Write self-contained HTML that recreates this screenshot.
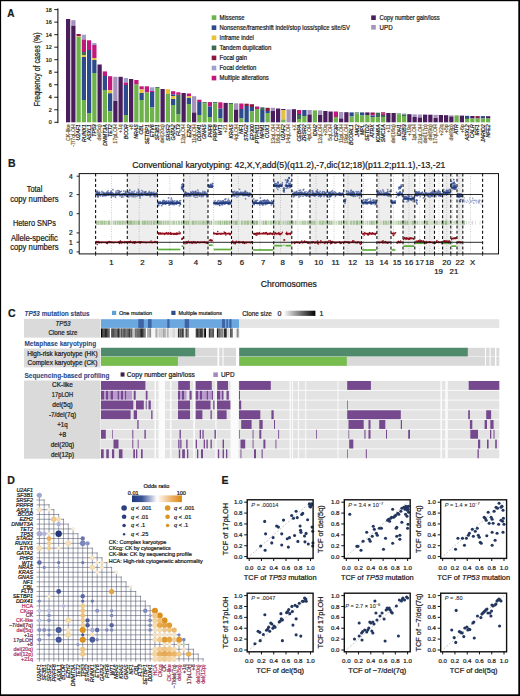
<!DOCTYPE html>
<html><head><meta charset="utf-8"><title>Figure</title>
<style>
html,body{margin:0;padding:0;background:#fff;}
body{width:520px;height:696px;overflow:hidden;position:relative;}
svg{position:absolute;left:0;top:0;display:block;}
svg text{font-family:"Liberation Sans",sans-serif;stroke:#1a1a1a;stroke-width:0.22px;}
</style></head><body>
<svg width="520" height="696" viewBox="0 0 520 696">
<rect x="0" y="0" width="520" height="696" fill="#fff"/>
<g fill="#1a1a1a">
<rect x="66.00" y="19.00" width="4.25" height="103.30" fill="#4a1d5c"/>
<text transform="translate(69.83,124.3) rotate(-90)" text-anchor="end" font-size="5.2" fill="#76603a" style="stroke:#76603a">CK-like</text>
<rect x="71.25" y="20.20" width="4.25" height="5.50" fill="#a593bd"/>
<rect x="71.25" y="25.70" width="4.25" height="96.60" fill="#4a1d5c"/>
<text transform="translate(75.08,124.3) rotate(-90)" text-anchor="end" font-size="5.2" fill="#76603a" style="stroke:#76603a">-7/7qLOH</text>
<rect x="76.50" y="34.00" width="4.25" height="2.30" fill="#8a1840"/>
<rect x="76.50" y="36.30" width="4.25" height="0.70" fill="#e6c13c"/>
<rect x="76.50" y="37.00" width="4.25" height="85.30" fill="#6db24a"/>
<text transform="translate(80.33,124.3) rotate(-90)" text-anchor="end" font-size="5.2" font-style="italic">U2AF1</text>
<rect x="81.75" y="34.70" width="4.25" height="4.80" fill="#9ea0cc"/>
<rect x="81.75" y="39.50" width="4.25" height="12.50" fill="#c2187c"/>
<rect x="81.75" y="52.00" width="4.25" height="3.00" fill="#3e6b56"/>
<rect x="81.75" y="55.00" width="4.25" height="2.00" fill="#e6c13c"/>
<rect x="81.75" y="57.00" width="4.25" height="43.00" fill="#2d4a8c"/>
<rect x="81.75" y="100.00" width="4.25" height="22.30" fill="#6db24a"/>
<text transform="translate(85.58,124.3) rotate(-90)" text-anchor="end" font-size="5.2" font-style="italic">RUNX1</text>
<rect x="87.00" y="40.30" width="4.25" height="9.70" fill="#c2187c"/>
<rect x="87.00" y="50.00" width="4.25" height="63.00" fill="#2d4a8c"/>
<rect x="87.00" y="113.00" width="4.25" height="9.30" fill="#6db24a"/>
<text transform="translate(90.83,124.3) rotate(-90)" text-anchor="end" font-size="5.2" font-style="italic">ASXL1</text>
<rect x="92.25" y="43.00" width="4.25" height="2.00" fill="#9ea0cc"/>
<rect x="92.25" y="45.00" width="4.25" height="13.00" fill="#c2187c"/>
<rect x="92.25" y="58.00" width="4.25" height="2.00" fill="#e6c13c"/>
<rect x="92.25" y="60.00" width="4.25" height="13.00" fill="#2d4a8c"/>
<rect x="92.25" y="73.00" width="4.25" height="49.30" fill="#6db24a"/>
<text transform="translate(96.08,124.3) rotate(-90)" text-anchor="end" font-size="5.2" font-style="italic">TP53</text>
<rect x="97.50" y="64.50" width="4.25" height="57.80" fill="#4a1d5c"/>
<text transform="translate(101.33,124.3) rotate(-90)" text-anchor="end" font-size="5.2" fill="#76603a" style="stroke:#76603a">del(5q)</text>
<rect x="102.75" y="71.40" width="4.25" height="4.60" fill="#c2187c"/>
<rect x="102.75" y="76.00" width="4.25" height="14.00" fill="#2d4a8c"/>
<rect x="102.75" y="90.00" width="4.25" height="32.30" fill="#6db24a"/>
<text transform="translate(106.58,124.3) rotate(-90)" text-anchor="end" font-size="5.2" font-style="italic">DNMT3A</text>
<rect x="108.00" y="76.20" width="4.25" height="14.10" fill="#c2187c"/>
<rect x="108.00" y="90.30" width="4.25" height="3.00" fill="#e6c13c"/>
<rect x="108.00" y="93.30" width="4.25" height="18.10" fill="#2d4a8c"/>
<rect x="108.00" y="111.40" width="4.25" height="10.90" fill="#6db24a"/>
<text transform="translate(111.83,124.3) rotate(-90)" text-anchor="end" font-size="5.2" font-style="italic">TET2</text>
<rect x="113.25" y="76.80" width="4.25" height="24.20" fill="#a593bd"/>
<rect x="113.25" y="101.00" width="4.25" height="21.30" fill="#4a1d5c"/>
<text transform="translate(117.08,124.3) rotate(-90)" text-anchor="end" font-size="5.2" fill="#76603a" style="stroke:#76603a">17pLOH</text>
<rect x="118.50" y="76.80" width="4.25" height="45.50" fill="#4a1d5c"/>
<text transform="translate(122.33,124.3) rotate(-90)" text-anchor="end" font-size="5.2" fill="#76603a" style="stroke:#76603a">+1q</text>
<rect x="123.75" y="78.00" width="4.25" height="4.50" fill="#9ea0cc"/>
<rect x="123.75" y="82.50" width="4.25" height="2.50" fill="#c2187c"/>
<rect x="123.75" y="85.00" width="4.25" height="30.00" fill="#2d4a8c"/>
<rect x="123.75" y="115.00" width="4.25" height="7.30" fill="#6db24a"/>
<text transform="translate(127.58,124.3) rotate(-90)" text-anchor="end" font-size="5.2" font-style="italic">BCOR</text>
<rect x="129.00" y="79.00" width="4.25" height="43.30" fill="#4a1d5c"/>
<text transform="translate(132.82,124.3) rotate(-90)" text-anchor="end" font-size="5.2" fill="#76603a" style="stroke:#76603a">+8</text>
<rect x="134.25" y="80.00" width="4.25" height="4.60" fill="#c2187c"/>
<rect x="134.25" y="84.60" width="4.25" height="37.70" fill="#6db24a"/>
<text transform="translate(138.07,124.3) rotate(-90)" text-anchor="end" font-size="5.2" font-style="italic">NRAS</text>
<rect x="139.50" y="86.30" width="4.25" height="3.20" fill="#c2187c"/>
<rect x="139.50" y="89.50" width="4.25" height="3.50" fill="#e6c13c"/>
<rect x="139.50" y="93.00" width="4.25" height="7.00" fill="#2d4a8c"/>
<rect x="139.50" y="100.00" width="4.25" height="22.30" fill="#6db24a"/>
<text transform="translate(143.32,124.3) rotate(-90)" text-anchor="end" font-size="5.2" font-style="italic">CBL</text>
<rect x="144.75" y="86.30" width="4.25" height="6.20" fill="#c2187c"/>
<rect x="144.75" y="92.50" width="4.25" height="29.80" fill="#6db24a"/>
<text transform="translate(148.57,124.3) rotate(-90)" text-anchor="end" font-size="5.2" font-style="italic">SETBP1</text>
<rect x="150.00" y="87.30" width="4.25" height="3.70" fill="#9ea0cc"/>
<rect x="150.00" y="91.00" width="4.25" height="1.00" fill="#c2187c"/>
<rect x="150.00" y="92.00" width="4.25" height="15.50" fill="#2d4a8c"/>
<rect x="150.00" y="107.50" width="4.25" height="14.80" fill="#6db24a"/>
<text transform="translate(153.82,124.3) rotate(-90)" text-anchor="end" font-size="5.2" font-style="italic">ETV6</text>
<rect x="155.25" y="87.10" width="4.25" height="0.90" fill="#3e6b56"/>
<rect x="155.25" y="88.00" width="4.25" height="34.30" fill="#6db24a"/>
<text transform="translate(159.07,124.3) rotate(-90)" text-anchor="end" font-size="5.2" font-style="italic">SF3B1</text>
<rect x="160.50" y="89.00" width="4.25" height="33.30" fill="#4a1d5c"/>
<text transform="translate(164.32,124.3) rotate(-90)" text-anchor="end" font-size="5.2" fill="#76603a" style="stroke:#76603a">del(20q)</text>
<rect x="165.75" y="89.20" width="4.25" height="4.80" fill="#e6c13c"/>
<rect x="165.75" y="94.00" width="4.25" height="28.30" fill="#6db24a"/>
<text transform="translate(169.57,124.3) rotate(-90)" text-anchor="end" font-size="5.2" font-style="italic">SRSF2</text>
<rect x="171.00" y="91.20" width="4.25" height="3.20" fill="#c2187c"/>
<rect x="171.00" y="94.40" width="4.25" height="1.60" fill="#2d4a8c"/>
<rect x="171.00" y="96.00" width="4.25" height="3.00" fill="#e6c13c"/>
<rect x="171.00" y="99.00" width="4.25" height="6.00" fill="#2d4a8c"/>
<rect x="171.00" y="105.00" width="4.25" height="17.30" fill="#6db24a"/>
<text transform="translate(174.82,124.3) rotate(-90)" text-anchor="end" font-size="5.2" font-style="italic">GATA2</text>
<rect x="176.25" y="92.30" width="4.25" height="2.50" fill="#c2187c"/>
<rect x="176.25" y="94.80" width="4.25" height="19.80" fill="#3e6b56"/>
<rect x="176.25" y="114.60" width="4.25" height="7.70" fill="#6db24a"/>
<text transform="translate(180.07,124.3) rotate(-90)" text-anchor="end" font-size="5.2" font-style="italic">FLT3</text>
<rect x="181.50" y="93.00" width="4.25" height="29.30" fill="#4a1d5c"/>
<text transform="translate(185.32,124.3) rotate(-90)" text-anchor="end" font-size="5.2" fill="#76603a" style="stroke:#76603a">12pLOH</text>
<rect x="186.75" y="93.50" width="4.25" height="2.50" fill="#c2187c"/>
<rect x="186.75" y="96.00" width="4.25" height="2.00" fill="#e6c13c"/>
<rect x="186.75" y="98.00" width="4.25" height="6.00" fill="#2d4a8c"/>
<rect x="186.75" y="104.00" width="4.25" height="18.30" fill="#6db24a"/>
<text transform="translate(190.57,124.3) rotate(-90)" text-anchor="end" font-size="5.2" font-style="italic">EZH2</text>
<rect x="192.00" y="96.20" width="4.25" height="16.30" fill="#a593bd"/>
<rect x="192.00" y="112.50" width="4.25" height="9.80" fill="#4a1d5c"/>
<text transform="translate(195.82,124.3) rotate(-90)" text-anchor="end" font-size="5.2" fill="#76603a" style="stroke:#76603a">11qLOH</text>
<rect x="197.25" y="99.70" width="4.25" height="2.30" fill="#c2187c"/>
<rect x="197.25" y="102.00" width="4.25" height="13.00" fill="#2d4a8c"/>
<rect x="197.25" y="115.00" width="4.25" height="7.30" fill="#6db24a"/>
<text transform="translate(201.07,124.3) rotate(-90)" text-anchor="end" font-size="5.2" font-style="italic">DDX41</text>
<rect x="202.50" y="102.10" width="4.25" height="1.40" fill="#3e6b56"/>
<rect x="202.50" y="103.50" width="4.25" height="18.80" fill="#6db24a"/>
<text transform="translate(206.32,124.3) rotate(-90)" text-anchor="end" font-size="5.2" font-style="italic">GNAS</text>
<rect x="207.75" y="102.10" width="4.25" height="4.40" fill="#c2187c"/>
<rect x="207.75" y="106.50" width="4.25" height="10.50" fill="#2d4a8c"/>
<rect x="207.75" y="117.00" width="4.25" height="5.30" fill="#6db24a"/>
<text transform="translate(211.57,124.3) rotate(-90)" text-anchor="end" font-size="5.2" font-style="italic">PHF6</text>
<rect x="213.00" y="102.10" width="4.25" height="1.40" fill="#3e6b56"/>
<rect x="213.00" y="103.50" width="4.25" height="18.80" fill="#6db24a"/>
<text transform="translate(216.82,124.3) rotate(-90)" text-anchor="end" font-size="5.2" font-style="italic">PRPF8</text>
<rect x="218.25" y="102.30" width="4.25" height="6.20" fill="#c2187c"/>
<rect x="218.25" y="108.50" width="4.25" height="10.00" fill="#2d4a8c"/>
<rect x="218.25" y="118.50" width="4.25" height="3.80" fill="#6db24a"/>
<text transform="translate(222.07,124.3) rotate(-90)" text-anchor="end" font-size="5.2" font-style="italic">WT1</text>
<rect x="223.50" y="102.90" width="4.25" height="19.40" fill="#4a1d5c"/>
<text transform="translate(227.32,124.3) rotate(-90)" text-anchor="end" font-size="5.2" fill="#76603a" style="stroke:#76603a">+21</text>
<rect x="228.75" y="103.00" width="4.25" height="1.00" fill="#3e6b56"/>
<rect x="228.75" y="104.00" width="4.25" height="18.30" fill="#6db24a"/>
<text transform="translate(232.57,124.3) rotate(-90)" text-anchor="end" font-size="5.2" font-style="italic">KRAS</text>
<rect x="234.00" y="103.30" width="4.25" height="6.30" fill="#a593bd"/>
<rect x="234.00" y="109.60" width="4.25" height="12.70" fill="#4a1d5c"/>
<text transform="translate(237.82,124.3) rotate(-90)" text-anchor="end" font-size="5.2" fill="#76603a" style="stroke:#76603a">4qLOH</text>
<rect x="239.25" y="103.50" width="4.25" height="5.50" fill="#c2187c"/>
<rect x="239.25" y="109.00" width="4.25" height="9.50" fill="#2d4a8c"/>
<rect x="239.25" y="118.50" width="4.25" height="3.80" fill="#6db24a"/>
<text transform="translate(243.07,124.3) rotate(-90)" text-anchor="end" font-size="5.2" font-style="italic">NF1</text>
<rect x="244.50" y="103.70" width="4.25" height="2.30" fill="#8a1840"/>
<rect x="244.50" y="106.00" width="4.25" height="16.30" fill="#2d4a8c"/>
<text transform="translate(248.32,124.3) rotate(-90)" text-anchor="end" font-size="5.2" font-style="italic">STAG2</text>
<rect x="249.75" y="104.20" width="4.25" height="2.80" fill="#8a1840"/>
<rect x="249.75" y="107.00" width="4.25" height="4.50" fill="#2d4a8c"/>
<rect x="249.75" y="111.50" width="4.25" height="10.80" fill="#6db24a"/>
<text transform="translate(253.57,124.3) rotate(-90)" text-anchor="end" font-size="5.2" font-style="italic">EP300</text>
<rect x="255.00" y="106.50" width="4.25" height="2.50" fill="#c2187c"/>
<rect x="255.00" y="109.00" width="4.25" height="13.30" fill="#6db24a"/>
<text transform="translate(258.82,124.3) rotate(-90)" text-anchor="end" font-size="5.2" font-style="italic">PTPN11</text>
<rect x="260.25" y="107.30" width="4.25" height="2.70" fill="#3e6b56"/>
<rect x="260.25" y="110.00" width="4.25" height="12.30" fill="#2d4a8c"/>
<text transform="translate(264.07,124.3) rotate(-90)" text-anchor="end" font-size="5.2" font-style="italic">NPM1</text>
<rect x="265.50" y="107.80" width="4.25" height="3.20" fill="#8a1840"/>
<rect x="265.50" y="111.00" width="4.25" height="2.00" fill="#2d4a8c"/>
<rect x="265.50" y="113.00" width="4.25" height="9.30" fill="#6db24a"/>
<text transform="translate(269.32,124.3) rotate(-90)" text-anchor="end" font-size="5.2" font-style="italic">CUX1</text>
<rect x="270.75" y="107.80" width="4.25" height="3.20" fill="#a593bd"/>
<rect x="270.75" y="111.00" width="4.25" height="11.30" fill="#4a1d5c"/>
<text transform="translate(274.57,124.3) rotate(-90)" text-anchor="end" font-size="5.2" fill="#76603a" style="stroke:#76603a">13qLOH</text>
<rect x="276.00" y="108.50" width="4.25" height="13.80" fill="#4a1d5c"/>
<text transform="translate(279.82,124.3) rotate(-90)" text-anchor="end" font-size="5.2" fill="#76603a" style="stroke:#76603a">16qLOH</text>
<rect x="281.25" y="109.00" width="4.25" height="1.00" fill="#4a1d5c"/>
<rect x="281.25" y="110.00" width="4.25" height="9.50" fill="#e6c13c"/>
<rect x="281.25" y="119.50" width="4.25" height="2.80" fill="#6db24a"/>
<text transform="translate(285.07,124.3) rotate(-90)" text-anchor="end" font-size="5.2" font-style="italic">U2AF2</text>
<rect x="286.50" y="109.40" width="4.25" height="12.90" fill="#a593bd"/>
<text transform="translate(290.32,124.3) rotate(-90)" text-anchor="end" font-size="5.2" fill="#76603a" style="stroke:#76603a">14qLOH</text>
<rect x="291.75" y="109.20" width="4.25" height="13.10" fill="#4a1d5c"/>
<text transform="translate(295.57,124.3) rotate(-90)" text-anchor="end" font-size="5.2" fill="#76603a" style="stroke:#76603a">+X</text>
<rect x="297.00" y="110.00" width="4.25" height="4.00" fill="#c2187c"/>
<rect x="297.00" y="114.00" width="4.25" height="1.00" fill="#2d4a8c"/>
<rect x="297.00" y="115.00" width="4.25" height="4.00" fill="#3e6b56"/>
<rect x="297.00" y="119.00" width="4.25" height="3.30" fill="#6db24a"/>
<text transform="translate(300.82,124.3) rotate(-90)" text-anchor="end" font-size="5.2" font-style="italic">CEBPA</text>
<rect x="302.25" y="110.00" width="4.25" height="6.00" fill="#2d4a8c"/>
<rect x="302.25" y="116.00" width="4.25" height="6.30" fill="#6db24a"/>
<text transform="translate(306.07,124.3) rotate(-90)" text-anchor="end" font-size="5.2" font-style="italic">ZRSR2</text>
<rect x="307.50" y="110.00" width="4.25" height="4.50" fill="#a593bd"/>
<rect x="307.50" y="114.50" width="4.25" height="7.80" fill="#4a1d5c"/>
<text transform="translate(311.32,124.3) rotate(-90)" text-anchor="end" font-size="5.2" fill="#76603a" style="stroke:#76603a">4pLOH</text>
<rect x="312.75" y="110.40" width="4.25" height="11.90" fill="#6db24a"/>
<text transform="translate(316.57,124.3) rotate(-90)" text-anchor="end" font-size="5.2" font-style="italic">IDH2</text>
<rect x="318.00" y="110.40" width="4.25" height="4.60" fill="#a593bd"/>
<rect x="318.00" y="115.00" width="4.25" height="7.30" fill="#4a1d5c"/>
<text transform="translate(321.82,124.3) rotate(-90)" text-anchor="end" font-size="5.2" fill="#76603a" style="stroke:#76603a">12qLOH</text>
<rect x="323.25" y="111.00" width="4.25" height="11.30" fill="#4a1d5c"/>
<text transform="translate(327.07,124.3) rotate(-90)" text-anchor="end" font-size="5.2" fill="#76603a" style="stroke:#76603a">+20q</text>
<rect x="328.50" y="111.00" width="4.25" height="1.00" fill="#a593bd"/>
<rect x="328.50" y="112.00" width="4.25" height="10.30" fill="#4a1d5c"/>
<text transform="translate(332.32,124.3) rotate(-90)" text-anchor="end" font-size="5.2" fill="#76603a" style="stroke:#76603a">5qLOH</text>
<rect x="333.75" y="111.50" width="4.25" height="5.50" fill="#c2187c"/>
<rect x="333.75" y="117.00" width="4.25" height="5.30" fill="#6db24a"/>
<text transform="translate(337.57,124.3) rotate(-90)" text-anchor="end" font-size="5.2" font-style="italic">CSF3R</text>
<rect x="339.00" y="112.00" width="4.25" height="6.50" fill="#a593bd"/>
<rect x="339.00" y="118.50" width="4.25" height="3.80" fill="#4a1d5c"/>
<text transform="translate(342.82,124.3) rotate(-90)" text-anchor="end" font-size="5.2" fill="#76603a" style="stroke:#76603a">11pLOH</text>
<rect x="344.25" y="112.20" width="4.25" height="10.10" fill="#4a1d5c"/>
<text transform="translate(348.07,124.3) rotate(-90)" text-anchor="end" font-size="5.2" fill="#76603a" style="stroke:#76603a">19pLOH</text>
<rect x="349.50" y="112.40" width="4.25" height="4.10" fill="#2d4a8c"/>
<rect x="349.50" y="116.50" width="4.25" height="5.80" fill="#6db24a"/>
<text transform="translate(353.32,124.3) rotate(-90)" text-anchor="end" font-size="5.2" font-style="italic">BCORL1</text>
<rect x="354.75" y="112.40" width="4.25" height="1.10" fill="#3e6b56"/>
<rect x="354.75" y="113.50" width="4.25" height="8.80" fill="#6db24a"/>
<text transform="translate(358.57,124.3) rotate(-90)" text-anchor="end" font-size="5.2" font-style="italic">JAK2</text>
<rect x="360.00" y="112.40" width="4.25" height="3.10" fill="#2d4a8c"/>
<rect x="360.00" y="115.50" width="4.25" height="6.80" fill="#6db24a"/>
<text transform="translate(363.82,124.3) rotate(-90)" text-anchor="end" font-size="5.2" font-style="italic">MPL</text>
<rect x="365.25" y="112.40" width="4.25" height="2.60" fill="#4a1d5c"/>
<rect x="365.25" y="115.00" width="4.25" height="7.30" fill="#6db24a"/>
<text transform="translate(369.07,124.3) rotate(-90)" text-anchor="end" font-size="5.2" font-style="italic">SETD2</text>
<rect x="370.50" y="112.50" width="4.25" height="1.50" fill="#8a1840"/>
<rect x="370.50" y="114.00" width="4.25" height="1.50" fill="#c2187c"/>
<rect x="370.50" y="115.50" width="4.25" height="1.50" fill="#2d4a8c"/>
<rect x="370.50" y="117.00" width="4.25" height="5.30" fill="#6db24a"/>
<text transform="translate(374.32,124.3) rotate(-90)" text-anchor="end" font-size="5.2" font-style="italic">ATRX</text>
<rect x="375.75" y="112.70" width="4.25" height="4.80" fill="#3e6b56"/>
<rect x="375.75" y="117.50" width="4.25" height="4.80" fill="#6db24a"/>
<text transform="translate(379.57,124.3) rotate(-90)" text-anchor="end" font-size="5.2" font-style="italic">KDM6A</text>
<rect x="381.00" y="112.30" width="4.25" height="1.20" fill="#8a1840"/>
<rect x="381.00" y="113.50" width="4.25" height="1.50" fill="#c2187c"/>
<rect x="381.00" y="115.00" width="4.25" height="2.00" fill="#3e6b56"/>
<rect x="381.00" y="117.00" width="4.25" height="5.30" fill="#6db24a"/>
<text transform="translate(384.82,124.3) rotate(-90)" text-anchor="end" font-size="5.2" font-style="italic">SMC1A</text>
<rect x="386.25" y="113.00" width="4.25" height="9.30" fill="#4a1d5c"/>
<text transform="translate(390.07,124.3) rotate(-90)" text-anchor="end" font-size="5.2" fill="#76603a" style="stroke:#76603a">+11</text>
<rect x="391.50" y="113.00" width="4.25" height="9.30" fill="#4a1d5c"/>
<text transform="translate(395.32,124.3) rotate(-90)" text-anchor="end" font-size="5.2" fill="#76603a" style="stroke:#76603a">del(16q)</text>
<rect x="396.75" y="113.50" width="4.25" height="1.00" fill="#3e6b56"/>
<rect x="396.75" y="114.50" width="4.25" height="7.80" fill="#6db24a"/>
<text transform="translate(400.57,124.3) rotate(-90)" text-anchor="end" font-size="5.2" font-style="italic">IDH1</text>
<rect x="402.00" y="113.50" width="4.25" height="1.00" fill="#9ea0cc"/>
<rect x="402.00" y="114.50" width="4.25" height="1.50" fill="#3e6b56"/>
<rect x="402.00" y="116.00" width="4.25" height="6.30" fill="#6db24a"/>
<text transform="translate(405.82,124.3) rotate(-90)" text-anchor="end" font-size="5.2" font-style="italic">SH2B3</text>
<rect x="407.25" y="114.20" width="4.25" height="8.10" fill="#4a1d5c"/>
<text transform="translate(411.07,124.3) rotate(-90)" text-anchor="end" font-size="5.2" fill="#76603a" style="stroke:#76603a">+19q</text>
<rect x="412.50" y="114.40" width="4.25" height="2.60" fill="#a593bd"/>
<rect x="412.50" y="117.00" width="4.25" height="5.30" fill="#4a1d5c"/>
<text transform="translate(416.32,124.3) rotate(-90)" text-anchor="end" font-size="5.2" fill="#76603a" style="stroke:#76603a">1pLOH</text>
<rect x="417.75" y="114.50" width="4.25" height="3.00" fill="#a593bd"/>
<rect x="417.75" y="117.50" width="4.25" height="4.80" fill="#4a1d5c"/>
<text transform="translate(421.57,124.3) rotate(-90)" text-anchor="end" font-size="5.2" fill="#76603a" style="stroke:#76603a">21qLOH</text>
<rect x="423.00" y="114.60" width="4.25" height="7.70" fill="#4a1d5c"/>
<text transform="translate(426.82,124.3) rotate(-90)" text-anchor="end" font-size="5.2" fill="#76603a" style="stroke:#76603a">del(17p)</text>
<rect x="428.25" y="114.70" width="4.25" height="7.60" fill="#4a1d5c"/>
<text transform="translate(432.07,124.3) rotate(-90)" text-anchor="end" font-size="5.2" fill="#76603a" style="stroke:#76603a">del(9q)</text>
<rect x="433.50" y="114.80" width="4.25" height="3.20" fill="#a593bd"/>
<rect x="433.50" y="118.00" width="4.25" height="4.30" fill="#4a1d5c"/>
<text transform="translate(437.32,124.3) rotate(-90)" text-anchor="end" font-size="5.2" fill="#76603a" style="stroke:#76603a">17qLOH</text>
<rect x="438.75" y="115.00" width="4.25" height="7.30" fill="#4a1d5c"/>
<text transform="translate(442.57,124.3) rotate(-90)" text-anchor="end" font-size="5.2" fill="#76603a" style="stroke:#76603a">+22q</text>
<rect x="444.00" y="115.20" width="4.25" height="7.10" fill="#4a1d5c"/>
<text transform="translate(447.82,124.3) rotate(-90)" text-anchor="end" font-size="5.2" fill="#76603a" style="stroke:#76603a">+5p</text>
<rect x="449.25" y="115.30" width="4.25" height="1.20" fill="#a593bd"/>
<rect x="449.25" y="116.50" width="4.25" height="5.80" fill="#4a1d5c"/>
<text transform="translate(453.07,124.3) rotate(-90)" text-anchor="end" font-size="5.2" fill="#76603a" style="stroke:#76603a">del(9p)</text>
<rect x="454.50" y="115.40" width="4.25" height="6.90" fill="#6db24a"/>
<text transform="translate(458.32,124.3) rotate(-90)" text-anchor="end" font-size="5.2" font-style="italic">ATR</text>
<rect x="459.75" y="115.60" width="4.25" height="6.70" fill="#4a1d5c"/>
<text transform="translate(463.57,124.3) rotate(-90)" text-anchor="end" font-size="5.2" fill="#76603a" style="stroke:#76603a">+6p</text>
<rect x="465.00" y="115.80" width="4.25" height="2.20" fill="#2d4a8c"/>
<rect x="465.00" y="118.00" width="4.25" height="1.00" fill="#3e6b56"/>
<rect x="465.00" y="119.00" width="4.25" height="3.30" fill="#6db24a"/>
<text transform="translate(468.82,124.3) rotate(-90)" text-anchor="end" font-size="5.2" font-style="italic">ASXL2</text>
<rect x="470.25" y="116.00" width="4.25" height="2.50" fill="#4a1d5c"/>
<rect x="470.25" y="118.50" width="4.25" height="3.80" fill="#6db24a"/>
<text transform="translate(474.07,124.3) rotate(-90)" text-anchor="end" font-size="5.2" font-style="italic">CALR</text>
<rect x="475.50" y="116.10" width="4.25" height="2.40" fill="#8a1840"/>
<rect x="475.50" y="118.50" width="4.25" height="3.80" fill="#6db24a"/>
<text transform="translate(479.32,124.3) rotate(-90)" text-anchor="end" font-size="5.2" font-style="italic">IRF1</text>
<rect x="480.75" y="116.10" width="4.25" height="2.40" fill="#2d4a8c"/>
<rect x="480.75" y="118.50" width="4.25" height="3.80" fill="#6db24a"/>
<text transform="translate(484.57,124.3) rotate(-90)" text-anchor="end" font-size="5.2" font-style="italic">JARID2</text>
<rect x="486.00" y="116.20" width="4.25" height="2.30" fill="#4a1d5c"/>
<rect x="486.00" y="118.50" width="4.25" height="3.80" fill="#6db24a"/>
<text transform="translate(489.82,124.3) rotate(-90)" text-anchor="end" font-size="5.2" font-style="italic">NFE2</text>
<line x1="57.9" y1="8.4" x2="57.9" y2="123.2" stroke="#000" stroke-width="1"/>
<line x1="54.3" y1="122.30" x2="57.9" y2="122.30" stroke="#000" stroke-width="0.9"/>
<text x="51.8" y="124.20" text-anchor="end" font-size="5.4">0</text>
<line x1="54.3" y1="109.78" x2="57.9" y2="109.78" stroke="#000" stroke-width="0.9"/>
<text x="51.8" y="111.68" text-anchor="end" font-size="5.4">2</text>
<line x1="54.3" y1="97.26" x2="57.9" y2="97.26" stroke="#000" stroke-width="0.9"/>
<text x="51.8" y="99.16" text-anchor="end" font-size="5.4">4</text>
<line x1="54.3" y1="84.74" x2="57.9" y2="84.74" stroke="#000" stroke-width="0.9"/>
<text x="51.8" y="86.64" text-anchor="end" font-size="5.4">6</text>
<line x1="54.3" y1="72.22" x2="57.9" y2="72.22" stroke="#000" stroke-width="0.9"/>
<text x="51.8" y="74.12" text-anchor="end" font-size="5.4">8</text>
<line x1="54.3" y1="59.70" x2="57.9" y2="59.70" stroke="#000" stroke-width="0.9"/>
<text x="51.8" y="61.60" text-anchor="end" font-size="5.4">10</text>
<line x1="54.3" y1="47.18" x2="57.9" y2="47.18" stroke="#000" stroke-width="0.9"/>
<text x="51.8" y="49.08" text-anchor="end" font-size="5.4">12</text>
<line x1="54.3" y1="34.66" x2="57.9" y2="34.66" stroke="#000" stroke-width="0.9"/>
<text x="51.8" y="36.56" text-anchor="end" font-size="5.4">14</text>
<line x1="54.3" y1="22.14" x2="57.9" y2="22.14" stroke="#000" stroke-width="0.9"/>
<text x="51.8" y="24.04" text-anchor="end" font-size="5.4">16</text>
<line x1="54.3" y1="9.62" x2="57.9" y2="9.62" stroke="#000" stroke-width="0.9"/>
<text x="51.8" y="11.52" text-anchor="end" font-size="5.4">18</text>
<text transform="translate(40.3,69.4) rotate(-90)" text-anchor="middle" font-size="8.3" textLength="73.8" lengthAdjust="spacingAndGlyphs">Frequency of cases (%)</text>
<text x="7.3" y="17.3" font-size="10" font-weight="bold">A</text>
<rect x="211.7" y="15.30" width="4.6" height="4.6" fill="#6db24a"/>
<text x="219.5" y="19.90" font-size="6.5" textLength="25" lengthAdjust="spacingAndGlyphs">Missense</text>
<rect x="211.7" y="25.38" width="4.6" height="4.6" fill="#2d4a8c"/>
<text x="219.5" y="29.98" font-size="6.5" textLength="130.5" lengthAdjust="spacingAndGlyphs">Nonsense/frameshift indel/stop loss/splice site/SV</text>
<rect x="211.7" y="35.46" width="4.6" height="4.6" fill="#e6c13c"/>
<text x="219.5" y="40.06" font-size="6.5" textLength="34.3" lengthAdjust="spacingAndGlyphs">Inframe indel</text>
<rect x="211.7" y="45.54" width="4.6" height="4.6" fill="#3e6b56"/>
<text x="219.5" y="50.14" font-size="6.5" textLength="51.8" lengthAdjust="spacingAndGlyphs">Tandem duplication</text>
<rect x="211.7" y="55.62" width="4.6" height="4.6" fill="#8a1840"/>
<text x="219.5" y="60.22" font-size="6.5" textLength="27.5" lengthAdjust="spacingAndGlyphs">Focal gain</text>
<rect x="211.7" y="65.70" width="4.6" height="4.6" fill="#9ea0cc"/>
<text x="219.5" y="70.30" font-size="6.5" textLength="36.8" lengthAdjust="spacingAndGlyphs">Focal deletion</text>
<rect x="211.7" y="75.78" width="4.6" height="4.6" fill="#c2187c"/>
<text x="219.5" y="80.38" font-size="6.5" textLength="49.3" lengthAdjust="spacingAndGlyphs">Multiple alterations</text>
<rect x="371.2" y="15.40" width="4.6" height="4.6" fill="#4a1d5c"/>
<text x="379.6" y="20.00" font-size="6.5" textLength="60" lengthAdjust="spacingAndGlyphs">Copy number gain/loss</text>
<rect x="371.2" y="25.00" width="4.6" height="4.6" fill="#a593bd"/>
<text x="379.6" y="29.60" font-size="6.5" textLength="13" lengthAdjust="spacingAndGlyphs">UPD</text>
<rect x="127.30" y="173.6" width="30.20" height="80.30" fill="#eeeeee"/>
<rect x="183.70" y="173.6" width="24.30" height="80.30" fill="#eeeeee"/>
<rect x="231.50" y="173.6" width="21.00" height="80.30" fill="#eeeeee"/>
<rect x="273.70" y="173.6" width="18.10" height="80.30" fill="#eeeeee"/>
<rect x="310.00" y="173.6" width="17.30" height="80.30" fill="#eeeeee"/>
<rect x="343.70" y="173.6" width="17.90" height="80.30" fill="#eeeeee"/>
<rect x="376.90" y="173.6" width="14.10" height="80.30" fill="#eeeeee"/>
<rect x="403.00" y="173.6" width="11.80" height="80.30" fill="#eeeeee"/>
<rect x="424.60" y="173.6" width="9.90" height="80.30" fill="#eeeeee"/>
<rect x="442.60" y="173.6" width="8.20" height="80.30" fill="#eeeeee"/>
<rect x="457.00" y="173.6" width="5.80" height="80.30" fill="#eeeeee"/>
<line x1="111.5" y1="173.6" x2="111.5" y2="253.9" stroke="#9a9a9a" stroke-width="0.6" stroke-dasharray="0.8,1.6"/>
<line x1="139.2" y1="173.6" x2="139.2" y2="253.9" stroke="#9a9a9a" stroke-width="0.6" stroke-dasharray="0.8,1.6"/>
<line x1="169.8" y1="173.6" x2="169.8" y2="253.9" stroke="#9a9a9a" stroke-width="0.6" stroke-dasharray="0.8,1.6"/>
<line x1="189.8" y1="173.6" x2="189.8" y2="253.9" stroke="#9a9a9a" stroke-width="0.6" stroke-dasharray="0.8,1.6"/>
<line x1="213.5" y1="173.6" x2="213.5" y2="253.9" stroke="#9a9a9a" stroke-width="0.6" stroke-dasharray="0.8,1.6"/>
<line x1="238.5" y1="173.6" x2="238.5" y2="253.9" stroke="#9a9a9a" stroke-width="0.6" stroke-dasharray="0.8,1.6"/>
<line x1="260.0" y1="173.6" x2="260.0" y2="253.9" stroke="#9a9a9a" stroke-width="0.6" stroke-dasharray="0.8,1.6"/>
<line x1="280.5" y1="173.6" x2="280.5" y2="253.9" stroke="#9a9a9a" stroke-width="0.6" stroke-dasharray="0.8,1.6"/>
<line x1="298.0" y1="173.6" x2="298.0" y2="253.9" stroke="#9a9a9a" stroke-width="0.6" stroke-dasharray="0.8,1.6"/>
<line x1="316.0" y1="173.6" x2="316.0" y2="253.9" stroke="#9a9a9a" stroke-width="0.6" stroke-dasharray="0.8,1.6"/>
<line x1="334.0" y1="173.6" x2="334.0" y2="253.9" stroke="#9a9a9a" stroke-width="0.6" stroke-dasharray="0.8,1.6"/>
<line x1="348.0" y1="173.6" x2="348.0" y2="253.9" stroke="#9a9a9a" stroke-width="0.6" stroke-dasharray="0.8,1.6"/>
<line x1="363.5" y1="173.6" x2="363.5" y2="253.9" stroke="#9a9a9a" stroke-width="0.6" stroke-dasharray="0.8,1.6"/>
<line x1="379.0" y1="173.6" x2="379.0" y2="253.9" stroke="#9a9a9a" stroke-width="0.6" stroke-dasharray="0.8,1.6"/>
<line x1="393.5" y1="173.6" x2="393.5" y2="253.9" stroke="#9a9a9a" stroke-width="0.6" stroke-dasharray="0.8,1.6"/>
<line x1="408.9" y1="173.6" x2="408.9" y2="253.9" stroke="#9a9a9a" stroke-width="0.6" stroke-dasharray="0.8,1.6"/>
<line x1="419.7" y1="173.6" x2="419.7" y2="253.9" stroke="#9a9a9a" stroke-width="0.6" stroke-dasharray="0.8,1.6"/>
<line x1="429.7" y1="173.6" x2="429.7" y2="253.9" stroke="#9a9a9a" stroke-width="0.6" stroke-dasharray="0.8,1.6"/>
<line x1="438.9" y1="173.6" x2="438.9" y2="253.9" stroke="#9a9a9a" stroke-width="0.6" stroke-dasharray="0.8,1.6"/>
<line x1="446.7" y1="173.6" x2="446.7" y2="253.9" stroke="#9a9a9a" stroke-width="0.6" stroke-dasharray="0.8,1.6"/>
<line x1="452.5" y1="173.6" x2="452.5" y2="253.9" stroke="#9a9a9a" stroke-width="0.6" stroke-dasharray="0.8,1.6"/>
<line x1="459.0" y1="173.6" x2="459.0" y2="253.9" stroke="#9a9a9a" stroke-width="0.6" stroke-dasharray="0.8,1.6"/>
<line x1="470.5" y1="173.6" x2="470.5" y2="253.9" stroke="#9a9a9a" stroke-width="0.6" stroke-dasharray="0.8,1.6"/>
<rect x="96.00" y="220.6" width="1.78" height="4.2" fill="#acc6a0"/>
<rect x="98.11" y="220.6" width="1.29" height="4.2" fill="#a2bf94"/>
<rect x="99.71" y="220.6" width="1.30" height="4.2" fill="#acc6a0"/>
<rect x="101.18" y="220.6" width="1.98" height="4.2" fill="#a2bf94"/>
<rect x="103.42" y="220.6" width="2.19" height="4.2" fill="#a2bf94"/>
<rect x="106.14" y="220.6" width="1.42" height="4.2" fill="#acc6a0"/>
<rect x="107.99" y="220.6" width="2.25" height="4.2" fill="#a2bf94"/>
<rect x="110.65" y="220.6" width="1.91" height="4.2" fill="#cfdcc4"/>
<rect x="113.16" y="220.6" width="1.28" height="4.2" fill="#acc6a0"/>
<rect x="114.72" y="220.6" width="1.46" height="4.2" fill="#a2bf94"/>
<rect x="116.59" y="220.6" width="2.21" height="4.2" fill="#acc6a0"/>
<rect x="118.99" y="220.6" width="2.23" height="4.2" fill="#acc6a0"/>
<rect x="121.54" y="220.6" width="2.19" height="4.2" fill="#a2bf94"/>
<rect x="124.13" y="220.6" width="2.31" height="4.2" fill="#b4ccaa"/>
<rect x="126.90" y="220.6" width="1.97" height="4.2" fill="#98b889"/>
<rect x="129.23" y="220.6" width="2.86" height="4.2" fill="#98b889"/>
<rect x="132.37" y="220.6" width="2.63" height="4.2" fill="#acc6a0"/>
<rect x="135.19" y="220.6" width="1.74" height="4.2" fill="#b4ccaa"/>
<rect x="137.47" y="220.6" width="2.51" height="4.2" fill="#98b889"/>
<rect x="140.41" y="220.6" width="1.33" height="4.2" fill="#cfdcc4"/>
<rect x="142.12" y="220.6" width="1.50" height="4.2" fill="#98b889"/>
<rect x="143.84" y="220.6" width="2.08" height="4.2" fill="#a2bf94"/>
<rect x="146.50" y="220.6" width="1.34" height="4.2" fill="#98b889"/>
<rect x="148.14" y="220.6" width="1.83" height="4.2" fill="#b4ccaa"/>
<rect x="150.39" y="220.6" width="2.02" height="4.2" fill="#a2bf94"/>
<rect x="152.98" y="220.6" width="2.05" height="4.2" fill="#a2bf94"/>
<rect x="155.21" y="220.6" width="2.46" height="4.2" fill="#b4ccaa"/>
<rect x="157.95" y="220.6" width="1.89" height="4.2" fill="#98b889"/>
<rect x="160.01" y="220.6" width="2.03" height="4.2" fill="#acc6a0"/>
<rect x="162.46" y="220.6" width="2.09" height="4.2" fill="#acc6a0"/>
<rect x="165.05" y="220.6" width="1.43" height="4.2" fill="#acc6a0"/>
<rect x="166.81" y="220.6" width="2.85" height="4.2" fill="#b4ccaa"/>
<rect x="169.85" y="220.6" width="2.01" height="4.2" fill="#cfdcc4"/>
<rect x="172.25" y="220.6" width="2.79" height="4.2" fill="#b4ccaa"/>
<rect x="175.58" y="220.6" width="1.70" height="4.2" fill="#b4ccaa"/>
<rect x="177.88" y="220.6" width="2.43" height="4.2" fill="#b4ccaa"/>
<rect x="180.89" y="220.6" width="1.47" height="4.2" fill="#acc6a0"/>
<rect x="182.58" y="220.6" width="2.39" height="4.2" fill="#a2bf94"/>
<rect x="185.33" y="220.6" width="2.26" height="4.2" fill="#98b889"/>
<rect x="187.87" y="220.6" width="1.46" height="4.2" fill="#98b889"/>
<rect x="189.75" y="220.6" width="1.77" height="4.2" fill="#cfdcc4"/>
<rect x="191.73" y="220.6" width="2.75" height="4.2" fill="#a2bf94"/>
<rect x="194.84" y="220.6" width="2.77" height="4.2" fill="#b4ccaa"/>
<rect x="197.93" y="220.6" width="1.91" height="4.2" fill="#b4ccaa"/>
<rect x="200.28" y="220.6" width="1.31" height="4.2" fill="#a2bf94"/>
<rect x="202.18" y="220.6" width="1.99" height="4.2" fill="#a2bf94"/>
<rect x="204.48" y="220.6" width="1.29" height="4.2" fill="#a2bf94"/>
<rect x="206.18" y="220.6" width="2.17" height="4.2" fill="#98b889"/>
<rect x="208.77" y="220.6" width="1.33" height="4.2" fill="#acc6a0"/>
<rect x="210.52" y="220.6" width="1.47" height="4.2" fill="#98b889"/>
<rect x="212.57" y="220.6" width="2.28" height="4.2" fill="#cfdcc4"/>
<rect x="215.22" y="220.6" width="1.41" height="4.2" fill="#b4ccaa"/>
<rect x="217.22" y="220.6" width="2.04" height="4.2" fill="#b4ccaa"/>
<rect x="219.55" y="220.6" width="1.46" height="4.2" fill="#98b889"/>
<rect x="221.49" y="220.6" width="2.06" height="4.2" fill="#acc6a0"/>
<rect x="223.94" y="220.6" width="1.57" height="4.2" fill="#98b889"/>
<rect x="225.72" y="220.6" width="2.18" height="4.2" fill="#a2bf94"/>
<rect x="228.39" y="220.6" width="1.74" height="4.2" fill="#a2bf94"/>
<rect x="230.59" y="220.6" width="1.67" height="4.2" fill="#98b889"/>
<rect x="232.82" y="220.6" width="1.84" height="4.2" fill="#acc6a0"/>
<rect x="235.05" y="220.6" width="2.60" height="4.2" fill="#98b889"/>
<rect x="238.09" y="220.6" width="2.30" height="4.2" fill="#cfdcc4"/>
<rect x="240.90" y="220.6" width="2.56" height="4.2" fill="#acc6a0"/>
<rect x="243.98" y="220.6" width="2.67" height="4.2" fill="#acc6a0"/>
<rect x="246.89" y="220.6" width="2.09" height="4.2" fill="#a2bf94"/>
<rect x="249.57" y="220.6" width="2.62" height="4.2" fill="#b4ccaa"/>
<rect x="252.46" y="220.6" width="2.45" height="4.2" fill="#98b889"/>
<rect x="255.26" y="220.6" width="2.89" height="4.2" fill="#98b889"/>
<rect x="258.72" y="220.6" width="1.86" height="4.2" fill="#cfdcc4"/>
<rect x="260.83" y="220.6" width="1.61" height="4.2" fill="#cfdcc4"/>
<rect x="262.68" y="220.6" width="1.57" height="4.2" fill="#a2bf94"/>
<rect x="264.61" y="220.6" width="2.38" height="4.2" fill="#a2bf94"/>
<rect x="267.51" y="220.6" width="1.42" height="4.2" fill="#b4ccaa"/>
<rect x="269.43" y="220.6" width="2.55" height="4.2" fill="#b4ccaa"/>
<rect x="272.53" y="220.6" width="1.98" height="4.2" fill="#98b889"/>
<rect x="274.70" y="220.6" width="2.90" height="4.2" fill="#b4ccaa"/>
<rect x="277.96" y="220.6" width="2.54" height="4.2" fill="#a2bf94"/>
<rect x="280.98" y="220.6" width="1.51" height="4.2" fill="#cfdcc4"/>
<rect x="282.69" y="220.6" width="1.47" height="4.2" fill="#b4ccaa"/>
<rect x="284.67" y="220.6" width="1.46" height="4.2" fill="#b4ccaa"/>
<rect x="286.58" y="220.6" width="1.83" height="4.2" fill="#acc6a0"/>
<rect x="288.57" y="220.6" width="2.64" height="4.2" fill="#a2bf94"/>
<rect x="291.60" y="220.6" width="2.88" height="4.2" fill="#b4ccaa"/>
<rect x="295.07" y="220.6" width="1.55" height="4.2" fill="#acc6a0"/>
<rect x="296.79" y="220.6" width="1.58" height="4.2" fill="#cfdcc4"/>
<rect x="298.74" y="220.6" width="2.57" height="4.2" fill="#cfdcc4"/>
<rect x="301.62" y="220.6" width="2.18" height="4.2" fill="#acc6a0"/>
<rect x="303.97" y="220.6" width="2.53" height="4.2" fill="#b4ccaa"/>
<rect x="306.95" y="220.6" width="2.67" height="4.2" fill="#b4ccaa"/>
<rect x="310.14" y="220.6" width="2.78" height="4.2" fill="#acc6a0"/>
<rect x="313.31" y="220.6" width="2.14" height="4.2" fill="#a2bf94"/>
<rect x="316.00" y="220.6" width="2.60" height="4.2" fill="#cfdcc4"/>
<rect x="319.02" y="220.6" width="2.60" height="4.2" fill="#acc6a0"/>
<rect x="321.84" y="220.6" width="2.05" height="4.2" fill="#a2bf94"/>
<rect x="324.30" y="220.6" width="1.79" height="4.2" fill="#b4ccaa"/>
<rect x="326.59" y="220.6" width="1.39" height="4.2" fill="#a2bf94"/>
<rect x="328.24" y="220.6" width="1.70" height="4.2" fill="#a2bf94"/>
<rect x="330.32" y="220.6" width="2.21" height="4.2" fill="#a2bf94"/>
<rect x="332.88" y="220.6" width="2.30" height="4.2" fill="#cfdcc4"/>
<rect x="335.56" y="220.6" width="2.12" height="4.2" fill="#cfdcc4"/>
<rect x="338.14" y="220.6" width="2.01" height="4.2" fill="#b4ccaa"/>
<rect x="340.53" y="220.6" width="1.65" height="4.2" fill="#98b889"/>
<rect x="342.74" y="220.6" width="2.81" height="4.2" fill="#acc6a0"/>
<rect x="346.08" y="220.6" width="1.45" height="4.2" fill="#a2bf94"/>
<rect x="347.85" y="220.6" width="1.77" height="4.2" fill="#cfdcc4"/>
<rect x="350.07" y="220.6" width="1.97" height="4.2" fill="#acc6a0"/>
<rect x="352.50" y="220.6" width="2.61" height="4.2" fill="#acc6a0"/>
<rect x="355.68" y="220.6" width="2.36" height="4.2" fill="#98b889"/>
<rect x="358.25" y="220.6" width="2.79" height="4.2" fill="#b4ccaa"/>
<rect x="361.29" y="220.6" width="2.91" height="4.2" fill="#b4ccaa"/>
<rect x="364.75" y="220.6" width="1.49" height="4.2" fill="#cfdcc4"/>
<rect x="366.70" y="220.6" width="1.60" height="4.2" fill="#b4ccaa"/>
<rect x="368.90" y="220.6" width="1.93" height="4.2" fill="#b4ccaa"/>
<rect x="371.06" y="220.6" width="1.77" height="4.2" fill="#98b889"/>
<rect x="372.99" y="220.6" width="2.20" height="4.2" fill="#b4ccaa"/>
<rect x="375.66" y="220.6" width="1.89" height="4.2" fill="#98b889"/>
<rect x="377.93" y="220.6" width="1.32" height="4.2" fill="#cfdcc4"/>
<rect x="379.84" y="220.6" width="2.62" height="4.2" fill="#cfdcc4"/>
<rect x="383.04" y="220.6" width="1.39" height="4.2" fill="#98b889"/>
<rect x="384.71" y="220.6" width="2.83" height="4.2" fill="#acc6a0"/>
<rect x="387.81" y="220.6" width="1.43" height="4.2" fill="#b4ccaa"/>
<rect x="389.77" y="220.6" width="2.42" height="4.2" fill="#98b889"/>
<rect x="392.52" y="220.6" width="2.17" height="4.2" fill="#cfdcc4"/>
<rect x="395.07" y="220.6" width="2.09" height="4.2" fill="#cfdcc4"/>
<rect x="397.46" y="220.6" width="1.70" height="4.2" fill="#acc6a0"/>
<rect x="399.50" y="220.6" width="1.33" height="4.2" fill="#a2bf94"/>
<rect x="401.27" y="220.6" width="2.64" height="4.2" fill="#a2bf94"/>
<rect x="404.33" y="220.6" width="1.60" height="4.2" fill="#98b889"/>
<rect x="406.47" y="220.6" width="2.02" height="4.2" fill="#98b889"/>
<rect x="409.09" y="220.6" width="1.95" height="4.2" fill="#cfdcc4"/>
<rect x="411.60" y="220.6" width="2.32" height="4.2" fill="#a2bf94"/>
<rect x="414.31" y="220.6" width="1.63" height="4.2" fill="#a2bf94"/>
<rect x="416.52" y="220.6" width="1.67" height="4.2" fill="#acc6a0"/>
<rect x="418.43" y="220.6" width="1.76" height="4.2" fill="#cfdcc4"/>
<rect x="420.48" y="220.6" width="2.57" height="4.2" fill="#cfdcc4"/>
<rect x="423.33" y="220.6" width="2.10" height="4.2" fill="#acc6a0"/>
<rect x="425.70" y="220.6" width="2.65" height="4.2" fill="#98b889"/>
<rect x="428.52" y="220.6" width="1.23" height="4.2" fill="#cfdcc4"/>
<rect x="430.13" y="220.6" width="2.96" height="4.2" fill="#cfdcc4"/>
<rect x="433.47" y="220.6" width="1.64" height="4.2" fill="#b4ccaa"/>
<rect x="435.31" y="220.6" width="2.67" height="4.2" fill="#b4ccaa"/>
<rect x="438.43" y="220.6" width="2.18" height="4.2" fill="#cfdcc4"/>
<rect x="441.16" y="220.6" width="2.95" height="4.2" fill="#98b889"/>
<rect x="444.57" y="220.6" width="2.97" height="4.2" fill="#98b889"/>
<rect x="447.77" y="220.6" width="2.79" height="4.2" fill="#cfdcc4"/>
<rect x="451.04" y="220.6" width="1.45" height="4.2" fill="#cfdcc4"/>
<rect x="453.09" y="220.6" width="2.97" height="4.2" fill="#cfdcc4"/>
<rect x="456.58" y="220.6" width="1.23" height="4.2" fill="#98b889"/>
<rect x="458.15" y="220.6" width="1.30" height="4.2" fill="#cfdcc4"/>
<rect x="459.90" y="220.6" width="1.89" height="4.2" fill="#cfdcc4"/>
<rect x="462.16" y="220.6" width="2.95" height="4.2" fill="#acc6a0"/>
<rect x="463.50" y="220.8" width="0.64" height="3.8" fill="#d6d6d6"/>
<rect x="466.10" y="220.8" width="0.82" height="3.8" fill="#d6d6d6"/>
<rect x="468.42" y="220.8" width="0.89" height="3.8" fill="#d6d6d6"/>
<rect x="471.64" y="220.8" width="1.39" height="3.8" fill="#d6d6d6"/>
<rect x="475.33" y="220.8" width="0.63" height="3.8" fill="#d6d6d6"/>
<rect x="479.67" y="220.8" width="0.77" height="3.8" fill="#d6d6d6"/>
<circle cx="106.33" cy="194.95" r="0.85" fill="#4a5e9c" fill-opacity="0.75"/>
<circle cx="103.62" cy="194.51" r="0.85" fill="#4a5e9c" fill-opacity="0.75"/>
<circle cx="98.73" cy="194.24" r="0.85" fill="#4a5e9c" fill-opacity="0.75"/>
<circle cx="108.15" cy="193.14" r="0.85" fill="#4a5e9c" fill-opacity="0.75"/>
<circle cx="115.48" cy="197.15" r="0.85" fill="#4a5e9c" fill-opacity="0.75"/>
<circle cx="100.73" cy="195.81" r="0.85" fill="#4a5e9c" fill-opacity="0.75"/>
<circle cx="120.28" cy="191.80" r="0.85" fill="#4a5e9c" fill-opacity="0.75"/>
<circle cx="111.27" cy="192.45" r="0.85" fill="#4a5e9c" fill-opacity="0.75"/>
<circle cx="115.14" cy="195.62" r="0.85" fill="#4a5e9c" fill-opacity="0.75"/>
<circle cx="111.85" cy="196.11" r="0.85" fill="#4a5e9c" fill-opacity="0.75"/>
<circle cx="117.70" cy="190.61" r="0.85" fill="#4a5e9c" fill-opacity="0.75"/>
<circle cx="113.58" cy="193.79" r="0.85" fill="#4a5e9c" fill-opacity="0.75"/>
<circle cx="96.40" cy="192.86" r="0.85" fill="#4a5e9c" fill-opacity="0.75"/>
<circle cx="125.63" cy="191.43" r="0.85" fill="#4a5e9c" fill-opacity="0.75"/>
<circle cx="98.55" cy="195.96" r="0.85" fill="#4a5e9c" fill-opacity="0.75"/>
<circle cx="107.61" cy="194.46" r="0.85" fill="#4a5e9c" fill-opacity="0.75"/>
<circle cx="97.48" cy="195.73" r="0.85" fill="#4a5e9c" fill-opacity="0.75"/>
<circle cx="104.10" cy="194.12" r="0.85" fill="#4a5e9c" fill-opacity="0.75"/>
<circle cx="98.08" cy="196.82" r="0.85" fill="#4a5e9c" fill-opacity="0.75"/>
<circle cx="112.26" cy="192.58" r="0.85" fill="#4a5e9c" fill-opacity="0.75"/>
<circle cx="110.64" cy="194.96" r="0.85" fill="#4a5e9c" fill-opacity="0.75"/>
<circle cx="119.43" cy="191.20" r="0.85" fill="#4a5e9c" fill-opacity="0.75"/>
<circle cx="116.11" cy="191.09" r="0.85" fill="#4a5e9c" fill-opacity="0.75"/>
<circle cx="124.22" cy="194.61" r="0.85" fill="#4a5e9c" fill-opacity="0.75"/>
<circle cx="97.35" cy="193.23" r="0.85" fill="#4a5e9c" fill-opacity="0.75"/>
<circle cx="106.22" cy="193.16" r="0.85" fill="#4a5e9c" fill-opacity="0.75"/>
<circle cx="117.45" cy="193.32" r="0.85" fill="#4a5e9c" fill-opacity="0.75"/>
<circle cx="111.01" cy="193.35" r="0.85" fill="#4a5e9c" fill-opacity="0.75"/>
<circle cx="99.00" cy="194.25" r="0.85" fill="#4a5e9c" fill-opacity="0.75"/>
<circle cx="104.78" cy="195.60" r="0.85" fill="#4a5e9c" fill-opacity="0.75"/>
<circle cx="119.76" cy="195.79" r="0.85" fill="#4a5e9c" fill-opacity="0.75"/>
<circle cx="98.57" cy="193.82" r="0.85" fill="#4a5e9c" fill-opacity="0.75"/>
<circle cx="104.91" cy="195.48" r="0.85" fill="#4a5e9c" fill-opacity="0.75"/>
<circle cx="126.81" cy="194.72" r="0.85" fill="#4a5e9c" fill-opacity="0.75"/>
<circle cx="124.40" cy="194.44" r="0.85" fill="#4a5e9c" fill-opacity="0.75"/>
<circle cx="119.15" cy="193.65" r="0.85" fill="#4a5e9c" fill-opacity="0.75"/>
<circle cx="107.08" cy="192.21" r="0.85" fill="#4a5e9c" fill-opacity="0.75"/>
<circle cx="99.40" cy="192.62" r="0.85" fill="#4a5e9c" fill-opacity="0.75"/>
<circle cx="111.38" cy="194.97" r="0.85" fill="#4a5e9c" fill-opacity="0.75"/>
<circle cx="125.44" cy="192.85" r="0.85" fill="#4a5e9c" fill-opacity="0.75"/>
<circle cx="108.51" cy="193.68" r="0.85" fill="#4a5e9c" fill-opacity="0.75"/>
<circle cx="99.66" cy="192.36" r="0.85" fill="#4a5e9c" fill-opacity="0.75"/>
<circle cx="105.99" cy="193.10" r="0.85" fill="#4a5e9c" fill-opacity="0.75"/>
<circle cx="101.99" cy="191.43" r="0.85" fill="#4a5e9c" fill-opacity="0.75"/>
<circle cx="97.92" cy="192.76" r="0.85" fill="#4a5e9c" fill-opacity="0.75"/>
<circle cx="122.96" cy="196.93" r="0.85" fill="#4a5e9c" fill-opacity="0.75"/>
<circle cx="122.47" cy="195.48" r="0.85" fill="#4a5e9c" fill-opacity="0.75"/>
<circle cx="97.51" cy="192.78" r="0.85" fill="#4a5e9c" fill-opacity="0.75"/>
<circle cx="126.10" cy="192.09" r="0.85" fill="#4a5e9c" fill-opacity="0.75"/>
<circle cx="105.72" cy="194.28" r="0.85" fill="#4a5e9c" fill-opacity="0.75"/>
<circle cx="96.80" cy="191.30" r="0.85" fill="#4a5e9c" fill-opacity="0.75"/>
<circle cx="108.34" cy="195.25" r="0.85" fill="#4a5e9c" fill-opacity="0.75"/>
<circle cx="98.41" cy="192.56" r="0.85" fill="#4a5e9c" fill-opacity="0.75"/>
<circle cx="108.68" cy="193.29" r="0.85" fill="#4a5e9c" fill-opacity="0.75"/>
<circle cx="111.00" cy="193.36" r="0.85" fill="#4a5e9c" fill-opacity="0.75"/>
<circle cx="113.01" cy="194.64" r="0.85" fill="#4a5e9c" fill-opacity="0.75"/>
<circle cx="103.85" cy="195.26" r="0.85" fill="#4a5e9c" fill-opacity="0.75"/>
<circle cx="116.20" cy="192.98" r="0.85" fill="#4a5e9c" fill-opacity="0.75"/>
<circle cx="116.70" cy="194.52" r="0.85" fill="#4a5e9c" fill-opacity="0.75"/>
<circle cx="115.90" cy="195.47" r="0.85" fill="#4a5e9c" fill-opacity="0.75"/>
<circle cx="113.02" cy="194.70" r="0.85" fill="#4a5e9c" fill-opacity="0.75"/>
<circle cx="106.25" cy="193.99" r="0.85" fill="#4a5e9c" fill-opacity="0.75"/>
<circle cx="103.49" cy="192.32" r="0.85" fill="#4a5e9c" fill-opacity="0.75"/>
<circle cx="113.19" cy="193.29" r="0.85" fill="#4a5e9c" fill-opacity="0.75"/>
<circle cx="102.19" cy="192.51" r="0.85" fill="#4a5e9c" fill-opacity="0.75"/>
<circle cx="119.10" cy="192.83" r="0.85" fill="#4a5e9c" fill-opacity="0.75"/>
<circle cx="104.30" cy="193.92" r="0.85" fill="#4a5e9c" fill-opacity="0.75"/>
<circle cx="107.10" cy="192.14" r="0.85" fill="#4a5e9c" fill-opacity="0.75"/>
<circle cx="112.36" cy="194.63" r="0.85" fill="#4a5e9c" fill-opacity="0.75"/>
<circle cx="123.79" cy="191.08" r="0.85" fill="#4a5e9c" fill-opacity="0.75"/>
<circle cx="115.98" cy="192.72" r="0.85" fill="#4a5e9c" fill-opacity="0.75"/>
<circle cx="126.01" cy="194.44" r="0.85" fill="#4a5e9c" fill-opacity="0.75"/>
<circle cx="109.12" cy="194.13" r="0.85" fill="#4a5e9c" fill-opacity="0.75"/>
<circle cx="111.13" cy="191.20" r="0.85" fill="#4a5e9c" fill-opacity="0.75"/>
<circle cx="124.83" cy="195.55" r="0.85" fill="#4a5e9c" fill-opacity="0.75"/>
<circle cx="109.86" cy="193.10" r="0.85" fill="#4a5e9c" fill-opacity="0.75"/>
<circle cx="102.86" cy="196.21" r="0.85" fill="#4a5e9c" fill-opacity="0.75"/>
<circle cx="121.57" cy="197.17" r="0.85" fill="#4a5e9c" fill-opacity="0.75"/>
<circle cx="122.23" cy="194.40" r="0.85" fill="#4a5e9c" fill-opacity="0.75"/>
<circle cx="95.94" cy="193.51" r="0.85" fill="#4a5e9c" fill-opacity="0.75"/>
<circle cx="113.61" cy="196.21" r="0.85" fill="#4a5e9c" fill-opacity="0.75"/>
<circle cx="115.38" cy="194.46" r="0.85" fill="#4a5e9c" fill-opacity="0.75"/>
<circle cx="109.50" cy="193.96" r="0.85" fill="#4a5e9c" fill-opacity="0.75"/>
<circle cx="125.24" cy="193.22" r="0.85" fill="#4a5e9c" fill-opacity="0.75"/>
<circle cx="104.01" cy="193.92" r="0.85" fill="#4a5e9c" fill-opacity="0.75"/>
<circle cx="126.89" cy="193.83" r="0.85" fill="#4a5e9c" fill-opacity="0.75"/>
<circle cx="105.74" cy="194.50" r="0.85" fill="#4a5e9c" fill-opacity="0.75"/>
<circle cx="112.91" cy="189.65" r="0.85" fill="#4a5e9c" fill-opacity="0.75"/>
<circle cx="97.62" cy="195.04" r="0.85" fill="#4a5e9c" fill-opacity="0.75"/>
<circle cx="123.42" cy="193.53" r="0.85" fill="#4a5e9c" fill-opacity="0.75"/>
<circle cx="109.10" cy="193.41" r="0.85" fill="#4a5e9c" fill-opacity="0.75"/>
<circle cx="111.23" cy="193.10" r="0.85" fill="#4a5e9c" fill-opacity="0.75"/>
<circle cx="108.23" cy="190.74" r="0.85" fill="#4a5e9c" fill-opacity="0.75"/>
<circle cx="98.00" cy="196.70" r="0.85" fill="#4a5e9c" fill-opacity="0.75"/>
<circle cx="102.13" cy="194.00" r="0.85" fill="#4a5e9c" fill-opacity="0.75"/>
<circle cx="104.14" cy="192.92" r="0.85" fill="#4a5e9c" fill-opacity="0.75"/>
<circle cx="99.29" cy="192.43" r="0.85" fill="#4a5e9c" fill-opacity="0.75"/>
<circle cx="110.99" cy="192.46" r="0.85" fill="#4a5e9c" fill-opacity="0.75"/>
<circle cx="97.65" cy="191.10" r="0.85" fill="#4a5e9c" fill-opacity="0.75"/>
<circle cx="96.63" cy="192.00" r="0.85" fill="#4a5e9c" fill-opacity="0.75"/>
<circle cx="108.82" cy="193.66" r="0.85" fill="#4a5e9c" fill-opacity="0.75"/>
<circle cx="118.04" cy="192.97" r="0.85" fill="#4a5e9c" fill-opacity="0.75"/>
<circle cx="99.42" cy="194.69" r="0.85" fill="#4a5e9c" fill-opacity="0.75"/>
<circle cx="116.19" cy="194.33" r="0.85" fill="#4a5e9c" fill-opacity="0.75"/>
<circle cx="110.44" cy="192.99" r="0.85" fill="#4a5e9c" fill-opacity="0.75"/>
<circle cx="126.53" cy="196.13" r="0.85" fill="#4a5e9c" fill-opacity="0.75"/>
<circle cx="99.29" cy="194.44" r="0.85" fill="#4a5e9c" fill-opacity="0.75"/>
<circle cx="123.43" cy="194.19" r="0.85" fill="#4a5e9c" fill-opacity="0.75"/>
<circle cx="119.50" cy="192.03" r="0.85" fill="#4a5e9c" fill-opacity="0.75"/>
<circle cx="120.90" cy="195.66" r="0.85" fill="#4a5e9c" fill-opacity="0.75"/>
<circle cx="117.83" cy="194.53" r="0.85" fill="#4a5e9c" fill-opacity="0.75"/>
<circle cx="105.95" cy="195.67" r="0.85" fill="#4a5e9c" fill-opacity="0.75"/>
<circle cx="110.66" cy="193.13" r="0.85" fill="#4a5e9c" fill-opacity="0.75"/>
<circle cx="108.49" cy="193.07" r="0.85" fill="#4a5e9c" fill-opacity="0.75"/>
<circle cx="110.33" cy="194.08" r="0.85" fill="#4a5e9c" fill-opacity="0.75"/>
<circle cx="97.85" cy="193.39" r="0.85" fill="#4a5e9c" fill-opacity="0.75"/>
<circle cx="107.19" cy="194.70" r="0.85" fill="#4a5e9c" fill-opacity="0.75"/>
<circle cx="119.11" cy="192.64" r="0.85" fill="#4a5e9c" fill-opacity="0.75"/>
<circle cx="118.34" cy="190.74" r="0.85" fill="#4a5e9c" fill-opacity="0.75"/>
<circle cx="120.96" cy="194.42" r="0.85" fill="#4a5e9c" fill-opacity="0.75"/>
<circle cx="99.24" cy="193.72" r="0.85" fill="#4a5e9c" fill-opacity="0.75"/>
<circle cx="110.38" cy="194.34" r="0.85" fill="#4a5e9c" fill-opacity="0.75"/>
<circle cx="121.24" cy="191.29" r="0.85" fill="#4a5e9c" fill-opacity="0.75"/>
<circle cx="111.34" cy="197.36" r="0.85" fill="#4a5e9c" fill-opacity="0.75"/>
<circle cx="117.42" cy="194.09" r="0.85" fill="#4a5e9c" fill-opacity="0.75"/>
<circle cx="103.24" cy="194.97" r="0.85" fill="#4a5e9c" fill-opacity="0.75"/>
<line x1="96.00" y1="194.50" x2="126.90" y2="194.50" stroke="#1f3a7a" stroke-width="1.8"/>
<circle cx="145.23" cy="192.62" r="0.85" fill="#4a5e9c" fill-opacity="0.75"/>
<circle cx="139.19" cy="194.72" r="0.85" fill="#4a5e9c" fill-opacity="0.75"/>
<circle cx="141.86" cy="195.20" r="0.85" fill="#4a5e9c" fill-opacity="0.75"/>
<circle cx="132.36" cy="193.27" r="0.85" fill="#4a5e9c" fill-opacity="0.75"/>
<circle cx="146.09" cy="194.21" r="0.85" fill="#4a5e9c" fill-opacity="0.75"/>
<circle cx="140.06" cy="197.90" r="0.85" fill="#4a5e9c" fill-opacity="0.75"/>
<circle cx="131.53" cy="193.61" r="0.85" fill="#4a5e9c" fill-opacity="0.75"/>
<circle cx="153.98" cy="194.08" r="0.85" fill="#4a5e9c" fill-opacity="0.75"/>
<circle cx="150.08" cy="195.76" r="0.85" fill="#4a5e9c" fill-opacity="0.75"/>
<circle cx="136.30" cy="193.68" r="0.85" fill="#4a5e9c" fill-opacity="0.75"/>
<circle cx="135.31" cy="195.06" r="0.85" fill="#4a5e9c" fill-opacity="0.75"/>
<circle cx="133.10" cy="194.01" r="0.85" fill="#4a5e9c" fill-opacity="0.75"/>
<circle cx="133.17" cy="195.11" r="0.85" fill="#4a5e9c" fill-opacity="0.75"/>
<circle cx="135.05" cy="193.95" r="0.85" fill="#4a5e9c" fill-opacity="0.75"/>
<circle cx="130.58" cy="195.73" r="0.85" fill="#4a5e9c" fill-opacity="0.75"/>
<circle cx="128.70" cy="197.00" r="0.85" fill="#4a5e9c" fill-opacity="0.75"/>
<circle cx="140.87" cy="193.99" r="0.85" fill="#4a5e9c" fill-opacity="0.75"/>
<circle cx="153.56" cy="193.95" r="0.85" fill="#4a5e9c" fill-opacity="0.75"/>
<circle cx="152.11" cy="194.38" r="0.85" fill="#4a5e9c" fill-opacity="0.75"/>
<circle cx="129.82" cy="192.96" r="0.85" fill="#4a5e9c" fill-opacity="0.75"/>
<circle cx="150.54" cy="193.83" r="0.85" fill="#4a5e9c" fill-opacity="0.75"/>
<circle cx="127.79" cy="192.37" r="0.85" fill="#4a5e9c" fill-opacity="0.75"/>
<circle cx="128.71" cy="192.11" r="0.85" fill="#4a5e9c" fill-opacity="0.75"/>
<circle cx="128.91" cy="194.32" r="0.85" fill="#4a5e9c" fill-opacity="0.75"/>
<circle cx="154.65" cy="193.90" r="0.85" fill="#4a5e9c" fill-opacity="0.75"/>
<circle cx="151.84" cy="192.68" r="0.85" fill="#4a5e9c" fill-opacity="0.75"/>
<circle cx="129.91" cy="189.78" r="0.85" fill="#4a5e9c" fill-opacity="0.75"/>
<circle cx="139.68" cy="193.95" r="0.85" fill="#4a5e9c" fill-opacity="0.75"/>
<circle cx="147.26" cy="194.95" r="0.85" fill="#4a5e9c" fill-opacity="0.75"/>
<circle cx="139.37" cy="195.43" r="0.85" fill="#4a5e9c" fill-opacity="0.75"/>
<circle cx="156.85" cy="193.13" r="0.85" fill="#4a5e9c" fill-opacity="0.75"/>
<circle cx="149.66" cy="192.54" r="0.85" fill="#4a5e9c" fill-opacity="0.75"/>
<circle cx="139.86" cy="196.44" r="0.85" fill="#4a5e9c" fill-opacity="0.75"/>
<circle cx="146.68" cy="194.19" r="0.85" fill="#4a5e9c" fill-opacity="0.75"/>
<circle cx="139.59" cy="195.40" r="0.85" fill="#4a5e9c" fill-opacity="0.75"/>
<circle cx="130.96" cy="193.33" r="0.85" fill="#4a5e9c" fill-opacity="0.75"/>
<circle cx="144.70" cy="192.19" r="0.85" fill="#4a5e9c" fill-opacity="0.75"/>
<circle cx="129.13" cy="195.84" r="0.85" fill="#4a5e9c" fill-opacity="0.75"/>
<circle cx="151.47" cy="192.34" r="0.85" fill="#4a5e9c" fill-opacity="0.75"/>
<circle cx="149.42" cy="195.08" r="0.85" fill="#4a5e9c" fill-opacity="0.75"/>
<circle cx="137.90" cy="194.38" r="0.85" fill="#4a5e9c" fill-opacity="0.75"/>
<circle cx="138.96" cy="194.68" r="0.85" fill="#4a5e9c" fill-opacity="0.75"/>
<circle cx="151.05" cy="194.33" r="0.85" fill="#4a5e9c" fill-opacity="0.75"/>
<circle cx="128.89" cy="192.70" r="0.85" fill="#4a5e9c" fill-opacity="0.75"/>
<circle cx="136.91" cy="192.24" r="0.85" fill="#4a5e9c" fill-opacity="0.75"/>
<circle cx="148.68" cy="192.56" r="0.85" fill="#4a5e9c" fill-opacity="0.75"/>
<circle cx="153.98" cy="192.02" r="0.85" fill="#4a5e9c" fill-opacity="0.75"/>
<circle cx="145.80" cy="191.62" r="0.85" fill="#4a5e9c" fill-opacity="0.75"/>
<circle cx="141.60" cy="193.50" r="0.85" fill="#4a5e9c" fill-opacity="0.75"/>
<circle cx="132.23" cy="193.73" r="0.85" fill="#4a5e9c" fill-opacity="0.75"/>
<circle cx="132.02" cy="196.61" r="0.85" fill="#4a5e9c" fill-opacity="0.75"/>
<circle cx="153.76" cy="193.39" r="0.85" fill="#4a5e9c" fill-opacity="0.75"/>
<circle cx="147.50" cy="193.24" r="0.85" fill="#4a5e9c" fill-opacity="0.75"/>
<circle cx="141.09" cy="192.74" r="0.85" fill="#4a5e9c" fill-opacity="0.75"/>
<circle cx="150.63" cy="193.14" r="0.85" fill="#4a5e9c" fill-opacity="0.75"/>
<circle cx="139.12" cy="192.86" r="0.85" fill="#4a5e9c" fill-opacity="0.75"/>
<circle cx="142.51" cy="193.95" r="0.85" fill="#4a5e9c" fill-opacity="0.75"/>
<circle cx="141.37" cy="194.01" r="0.85" fill="#4a5e9c" fill-opacity="0.75"/>
<circle cx="145.91" cy="195.10" r="0.85" fill="#4a5e9c" fill-opacity="0.75"/>
<circle cx="139.45" cy="191.31" r="0.85" fill="#4a5e9c" fill-opacity="0.75"/>
<circle cx="138.21" cy="192.11" r="0.85" fill="#4a5e9c" fill-opacity="0.75"/>
<circle cx="147.05" cy="193.82" r="0.85" fill="#4a5e9c" fill-opacity="0.75"/>
<circle cx="136.89" cy="196.37" r="0.85" fill="#4a5e9c" fill-opacity="0.75"/>
<circle cx="129.97" cy="193.94" r="0.85" fill="#4a5e9c" fill-opacity="0.75"/>
<circle cx="150.81" cy="193.39" r="0.85" fill="#4a5e9c" fill-opacity="0.75"/>
<circle cx="148.10" cy="194.74" r="0.85" fill="#4a5e9c" fill-opacity="0.75"/>
<circle cx="131.50" cy="194.83" r="0.85" fill="#4a5e9c" fill-opacity="0.75"/>
<circle cx="151.13" cy="193.09" r="0.85" fill="#4a5e9c" fill-opacity="0.75"/>
<circle cx="148.94" cy="194.41" r="0.85" fill="#4a5e9c" fill-opacity="0.75"/>
<circle cx="135.07" cy="196.69" r="0.85" fill="#4a5e9c" fill-opacity="0.75"/>
<circle cx="145.76" cy="195.27" r="0.85" fill="#4a5e9c" fill-opacity="0.75"/>
<circle cx="156.14" cy="192.97" r="0.85" fill="#4a5e9c" fill-opacity="0.75"/>
<circle cx="145.12" cy="193.08" r="0.85" fill="#4a5e9c" fill-opacity="0.75"/>
<circle cx="133.49" cy="193.17" r="0.85" fill="#4a5e9c" fill-opacity="0.75"/>
<circle cx="146.44" cy="193.66" r="0.85" fill="#4a5e9c" fill-opacity="0.75"/>
<circle cx="151.05" cy="195.22" r="0.85" fill="#4a5e9c" fill-opacity="0.75"/>
<circle cx="150.34" cy="196.73" r="0.85" fill="#4a5e9c" fill-opacity="0.75"/>
<circle cx="141.01" cy="194.79" r="0.85" fill="#4a5e9c" fill-opacity="0.75"/>
<circle cx="147.99" cy="194.81" r="0.85" fill="#4a5e9c" fill-opacity="0.75"/>
<circle cx="152.96" cy="193.21" r="0.85" fill="#4a5e9c" fill-opacity="0.75"/>
<circle cx="138.60" cy="192.88" r="0.85" fill="#4a5e9c" fill-opacity="0.75"/>
<circle cx="137.39" cy="194.91" r="0.85" fill="#4a5e9c" fill-opacity="0.75"/>
<circle cx="134.41" cy="191.07" r="0.85" fill="#4a5e9c" fill-opacity="0.75"/>
<circle cx="142.88" cy="191.40" r="0.85" fill="#4a5e9c" fill-opacity="0.75"/>
<circle cx="156.19" cy="196.26" r="0.85" fill="#4a5e9c" fill-opacity="0.75"/>
<circle cx="149.30" cy="191.39" r="0.85" fill="#4a5e9c" fill-opacity="0.75"/>
<circle cx="134.16" cy="193.36" r="0.85" fill="#4a5e9c" fill-opacity="0.75"/>
<circle cx="138.38" cy="189.44" r="0.85" fill="#4a5e9c" fill-opacity="0.75"/>
<circle cx="128.95" cy="194.05" r="0.85" fill="#4a5e9c" fill-opacity="0.75"/>
<circle cx="144.39" cy="193.30" r="0.85" fill="#4a5e9c" fill-opacity="0.75"/>
<circle cx="139.83" cy="195.62" r="0.85" fill="#4a5e9c" fill-opacity="0.75"/>
<circle cx="131.56" cy="192.02" r="0.85" fill="#4a5e9c" fill-opacity="0.75"/>
<circle cx="128.02" cy="196.00" r="0.85" fill="#4a5e9c" fill-opacity="0.75"/>
<circle cx="148.54" cy="193.38" r="0.85" fill="#4a5e9c" fill-opacity="0.75"/>
<circle cx="147.30" cy="194.07" r="0.85" fill="#4a5e9c" fill-opacity="0.75"/>
<circle cx="151.62" cy="194.40" r="0.85" fill="#4a5e9c" fill-opacity="0.75"/>
<circle cx="154.02" cy="193.80" r="0.85" fill="#4a5e9c" fill-opacity="0.75"/>
<circle cx="144.72" cy="192.45" r="0.85" fill="#4a5e9c" fill-opacity="0.75"/>
<circle cx="132.49" cy="191.81" r="0.85" fill="#4a5e9c" fill-opacity="0.75"/>
<circle cx="133.10" cy="194.03" r="0.85" fill="#4a5e9c" fill-opacity="0.75"/>
<circle cx="154.59" cy="195.53" r="0.85" fill="#4a5e9c" fill-opacity="0.75"/>
<circle cx="133.44" cy="195.17" r="0.85" fill="#4a5e9c" fill-opacity="0.75"/>
<circle cx="142.94" cy="192.55" r="0.85" fill="#4a5e9c" fill-opacity="0.75"/>
<circle cx="145.75" cy="192.21" r="0.85" fill="#4a5e9c" fill-opacity="0.75"/>
<circle cx="129.49" cy="190.52" r="0.85" fill="#4a5e9c" fill-opacity="0.75"/>
<circle cx="141.75" cy="190.48" r="0.85" fill="#4a5e9c" fill-opacity="0.75"/>
<circle cx="138.70" cy="190.85" r="0.85" fill="#4a5e9c" fill-opacity="0.75"/>
<circle cx="147.00" cy="195.18" r="0.85" fill="#4a5e9c" fill-opacity="0.75"/>
<circle cx="157.10" cy="193.75" r="0.85" fill="#4a5e9c" fill-opacity="0.75"/>
<circle cx="153.98" cy="196.05" r="0.85" fill="#4a5e9c" fill-opacity="0.75"/>
<circle cx="155.51" cy="193.86" r="0.85" fill="#4a5e9c" fill-opacity="0.75"/>
<circle cx="147.71" cy="194.39" r="0.85" fill="#4a5e9c" fill-opacity="0.75"/>
<circle cx="154.75" cy="195.14" r="0.85" fill="#4a5e9c" fill-opacity="0.75"/>
<circle cx="154.07" cy="193.68" r="0.85" fill="#4a5e9c" fill-opacity="0.75"/>
<circle cx="142.62" cy="195.47" r="0.85" fill="#4a5e9c" fill-opacity="0.75"/>
<circle cx="133.60" cy="196.75" r="0.85" fill="#4a5e9c" fill-opacity="0.75"/>
<circle cx="154.68" cy="194.43" r="0.85" fill="#4a5e9c" fill-opacity="0.75"/>
<circle cx="138.83" cy="195.29" r="0.85" fill="#4a5e9c" fill-opacity="0.75"/>
<circle cx="154.88" cy="196.76" r="0.85" fill="#4a5e9c" fill-opacity="0.75"/>
<circle cx="141.58" cy="193.57" r="0.85" fill="#4a5e9c" fill-opacity="0.75"/>
<line x1="127.70" y1="194.50" x2="157.10" y2="194.50" stroke="#1f3a7a" stroke-width="1.8"/>
<circle cx="157.95" cy="205.70" r="0.85" fill="#4a5e9c" fill-opacity="0.75"/>
<circle cx="178.06" cy="203.04" r="0.85" fill="#4a5e9c" fill-opacity="0.75"/>
<circle cx="166.77" cy="201.06" r="0.85" fill="#4a5e9c" fill-opacity="0.75"/>
<circle cx="158.55" cy="201.64" r="0.85" fill="#4a5e9c" fill-opacity="0.75"/>
<circle cx="172.04" cy="204.38" r="0.85" fill="#4a5e9c" fill-opacity="0.75"/>
<circle cx="158.51" cy="205.54" r="0.85" fill="#4a5e9c" fill-opacity="0.75"/>
<circle cx="172.54" cy="200.25" r="0.85" fill="#4a5e9c" fill-opacity="0.75"/>
<circle cx="177.41" cy="202.56" r="0.85" fill="#4a5e9c" fill-opacity="0.75"/>
<circle cx="170.03" cy="201.64" r="0.85" fill="#4a5e9c" fill-opacity="0.75"/>
<circle cx="177.95" cy="202.57" r="0.85" fill="#4a5e9c" fill-opacity="0.75"/>
<circle cx="163.45" cy="200.45" r="0.85" fill="#4a5e9c" fill-opacity="0.75"/>
<circle cx="158.58" cy="205.22" r="0.85" fill="#4a5e9c" fill-opacity="0.75"/>
<circle cx="159.80" cy="201.60" r="0.85" fill="#4a5e9c" fill-opacity="0.75"/>
<circle cx="172.28" cy="201.81" r="0.85" fill="#4a5e9c" fill-opacity="0.75"/>
<circle cx="172.60" cy="202.60" r="0.85" fill="#4a5e9c" fill-opacity="0.75"/>
<circle cx="165.51" cy="202.42" r="0.85" fill="#4a5e9c" fill-opacity="0.75"/>
<circle cx="158.91" cy="203.71" r="0.85" fill="#4a5e9c" fill-opacity="0.75"/>
<circle cx="178.65" cy="202.71" r="0.85" fill="#4a5e9c" fill-opacity="0.75"/>
<circle cx="164.39" cy="200.75" r="0.85" fill="#4a5e9c" fill-opacity="0.75"/>
<circle cx="175.87" cy="204.04" r="0.85" fill="#4a5e9c" fill-opacity="0.75"/>
<circle cx="168.54" cy="197.93" r="0.85" fill="#4a5e9c" fill-opacity="0.75"/>
<circle cx="176.76" cy="201.67" r="0.85" fill="#4a5e9c" fill-opacity="0.75"/>
<circle cx="164.37" cy="201.04" r="0.85" fill="#4a5e9c" fill-opacity="0.75"/>
<circle cx="174.99" cy="203.12" r="0.85" fill="#4a5e9c" fill-opacity="0.75"/>
<circle cx="165.76" cy="204.15" r="0.85" fill="#4a5e9c" fill-opacity="0.75"/>
<circle cx="179.95" cy="203.63" r="0.85" fill="#4a5e9c" fill-opacity="0.75"/>
<circle cx="179.72" cy="200.80" r="0.85" fill="#4a5e9c" fill-opacity="0.75"/>
<circle cx="176.47" cy="202.34" r="0.85" fill="#4a5e9c" fill-opacity="0.75"/>
<circle cx="163.10" cy="204.05" r="0.85" fill="#4a5e9c" fill-opacity="0.75"/>
<circle cx="169.03" cy="205.15" r="0.85" fill="#4a5e9c" fill-opacity="0.75"/>
<circle cx="170.65" cy="203.42" r="0.85" fill="#4a5e9c" fill-opacity="0.75"/>
<circle cx="179.06" cy="203.21" r="0.85" fill="#4a5e9c" fill-opacity="0.75"/>
<circle cx="174.87" cy="200.85" r="0.85" fill="#4a5e9c" fill-opacity="0.75"/>
<circle cx="164.74" cy="203.38" r="0.85" fill="#4a5e9c" fill-opacity="0.75"/>
<circle cx="170.28" cy="204.26" r="0.85" fill="#4a5e9c" fill-opacity="0.75"/>
<circle cx="179.42" cy="205.75" r="0.85" fill="#4a5e9c" fill-opacity="0.75"/>
<circle cx="171.40" cy="198.20" r="0.85" fill="#4a5e9c" fill-opacity="0.75"/>
<circle cx="171.12" cy="199.91" r="0.85" fill="#4a5e9c" fill-opacity="0.75"/>
<circle cx="170.48" cy="202.14" r="0.85" fill="#4a5e9c" fill-opacity="0.75"/>
<circle cx="168.41" cy="202.13" r="0.85" fill="#4a5e9c" fill-opacity="0.75"/>
<circle cx="165.45" cy="201.57" r="0.85" fill="#4a5e9c" fill-opacity="0.75"/>
<circle cx="173.75" cy="201.48" r="0.85" fill="#4a5e9c" fill-opacity="0.75"/>
<circle cx="176.73" cy="202.45" r="0.85" fill="#4a5e9c" fill-opacity="0.75"/>
<circle cx="174.36" cy="204.56" r="0.85" fill="#4a5e9c" fill-opacity="0.75"/>
<circle cx="165.78" cy="202.17" r="0.85" fill="#4a5e9c" fill-opacity="0.75"/>
<circle cx="179.69" cy="202.32" r="0.85" fill="#4a5e9c" fill-opacity="0.75"/>
<circle cx="161.57" cy="205.73" r="0.85" fill="#4a5e9c" fill-opacity="0.75"/>
<circle cx="162.28" cy="202.93" r="0.85" fill="#4a5e9c" fill-opacity="0.75"/>
<circle cx="164.61" cy="203.10" r="0.85" fill="#4a5e9c" fill-opacity="0.75"/>
<circle cx="160.30" cy="203.40" r="0.85" fill="#4a5e9c" fill-opacity="0.75"/>
<circle cx="168.42" cy="201.08" r="0.85" fill="#4a5e9c" fill-opacity="0.75"/>
<circle cx="162.89" cy="201.40" r="0.85" fill="#4a5e9c" fill-opacity="0.75"/>
<circle cx="164.58" cy="203.49" r="0.85" fill="#4a5e9c" fill-opacity="0.75"/>
<circle cx="157.93" cy="202.64" r="0.85" fill="#4a5e9c" fill-opacity="0.75"/>
<circle cx="177.33" cy="201.98" r="0.85" fill="#4a5e9c" fill-opacity="0.75"/>
<circle cx="177.17" cy="200.85" r="0.85" fill="#4a5e9c" fill-opacity="0.75"/>
<circle cx="172.74" cy="203.84" r="0.85" fill="#4a5e9c" fill-opacity="0.75"/>
<circle cx="163.04" cy="201.20" r="0.85" fill="#4a5e9c" fill-opacity="0.75"/>
<circle cx="160.64" cy="201.58" r="0.85" fill="#4a5e9c" fill-opacity="0.75"/>
<circle cx="178.29" cy="202.91" r="0.85" fill="#4a5e9c" fill-opacity="0.75"/>
<circle cx="166.96" cy="202.32" r="0.85" fill="#4a5e9c" fill-opacity="0.75"/>
<circle cx="168.85" cy="201.24" r="0.85" fill="#4a5e9c" fill-opacity="0.75"/>
<circle cx="172.94" cy="201.28" r="0.85" fill="#4a5e9c" fill-opacity="0.75"/>
<circle cx="178.28" cy="202.41" r="0.85" fill="#4a5e9c" fill-opacity="0.75"/>
<circle cx="178.60" cy="202.67" r="0.85" fill="#4a5e9c" fill-opacity="0.75"/>
<circle cx="163.55" cy="202.91" r="0.85" fill="#4a5e9c" fill-opacity="0.75"/>
<circle cx="162.38" cy="204.52" r="0.85" fill="#4a5e9c" fill-opacity="0.75"/>
<circle cx="177.20" cy="201.65" r="0.85" fill="#4a5e9c" fill-opacity="0.75"/>
<circle cx="158.17" cy="202.74" r="0.85" fill="#4a5e9c" fill-opacity="0.75"/>
<circle cx="166.27" cy="201.32" r="0.85" fill="#4a5e9c" fill-opacity="0.75"/>
<circle cx="180.48" cy="204.29" r="0.85" fill="#4a5e9c" fill-opacity="0.75"/>
<circle cx="169.57" cy="204.42" r="0.85" fill="#4a5e9c" fill-opacity="0.75"/>
<circle cx="172.40" cy="201.64" r="0.85" fill="#4a5e9c" fill-opacity="0.75"/>
<circle cx="166.54" cy="202.98" r="0.85" fill="#4a5e9c" fill-opacity="0.75"/>
<circle cx="172.19" cy="202.69" r="0.85" fill="#4a5e9c" fill-opacity="0.75"/>
<circle cx="171.09" cy="203.36" r="0.85" fill="#4a5e9c" fill-opacity="0.75"/>
<circle cx="179.64" cy="203.20" r="0.85" fill="#4a5e9c" fill-opacity="0.75"/>
<circle cx="180.57" cy="203.90" r="0.85" fill="#4a5e9c" fill-opacity="0.75"/>
<circle cx="179.08" cy="202.15" r="0.85" fill="#4a5e9c" fill-opacity="0.75"/>
<circle cx="176.08" cy="203.15" r="0.85" fill="#4a5e9c" fill-opacity="0.75"/>
<circle cx="176.46" cy="204.25" r="0.85" fill="#4a5e9c" fill-opacity="0.75"/>
<circle cx="173.05" cy="203.62" r="0.85" fill="#4a5e9c" fill-opacity="0.75"/>
<circle cx="180.61" cy="200.48" r="0.85" fill="#4a5e9c" fill-opacity="0.75"/>
<circle cx="172.68" cy="202.77" r="0.85" fill="#4a5e9c" fill-opacity="0.75"/>
<circle cx="163.08" cy="201.06" r="0.85" fill="#4a5e9c" fill-opacity="0.75"/>
<circle cx="173.54" cy="204.45" r="0.85" fill="#4a5e9c" fill-opacity="0.75"/>
<circle cx="176.24" cy="202.29" r="0.85" fill="#4a5e9c" fill-opacity="0.75"/>
<circle cx="166.00" cy="201.85" r="0.85" fill="#4a5e9c" fill-opacity="0.75"/>
<circle cx="172.08" cy="201.56" r="0.85" fill="#4a5e9c" fill-opacity="0.75"/>
<circle cx="178.34" cy="203.13" r="0.85" fill="#4a5e9c" fill-opacity="0.75"/>
<circle cx="159.75" cy="203.41" r="0.85" fill="#4a5e9c" fill-opacity="0.75"/>
<circle cx="165.24" cy="204.00" r="0.85" fill="#4a5e9c" fill-opacity="0.75"/>
<circle cx="171.14" cy="201.94" r="0.85" fill="#4a5e9c" fill-opacity="0.75"/>
<circle cx="162.60" cy="203.47" r="0.85" fill="#4a5e9c" fill-opacity="0.75"/>
<line x1="157.90" y1="203.10" x2="180.60" y2="203.10" stroke="#1f3a7a" stroke-width="1.8"/>
<circle cx="182.51" cy="187.49" r="0.85" fill="#4a5e9c" fill-opacity="0.75"/>
<circle cx="181.69" cy="184.84" r="0.85" fill="#4a5e9c" fill-opacity="0.75"/>
<circle cx="182.15" cy="187.70" r="0.85" fill="#4a5e9c" fill-opacity="0.75"/>
<circle cx="182.58" cy="185.66" r="0.85" fill="#4a5e9c" fill-opacity="0.75"/>
<circle cx="183.19" cy="183.71" r="0.85" fill="#4a5e9c" fill-opacity="0.75"/>
<circle cx="182.64" cy="186.58" r="0.85" fill="#4a5e9c" fill-opacity="0.75"/>
<circle cx="181.47" cy="188.47" r="0.85" fill="#4a5e9c" fill-opacity="0.75"/>
<circle cx="182.71" cy="187.50" r="0.85" fill="#4a5e9c" fill-opacity="0.75"/>
<circle cx="183.04" cy="187.46" r="0.85" fill="#4a5e9c" fill-opacity="0.75"/>
<circle cx="182.47" cy="184.21" r="0.85" fill="#4a5e9c" fill-opacity="0.75"/>
<line x1="181.40" y1="187.62" x2="183.30" y2="187.62" stroke="#1f3a7a" stroke-width="1.8"/>
<circle cx="189.84" cy="194.22" r="0.85" fill="#4a5e9c" fill-opacity="0.75"/>
<circle cx="198.21" cy="193.81" r="0.85" fill="#4a5e9c" fill-opacity="0.75"/>
<circle cx="200.49" cy="193.02" r="0.85" fill="#4a5e9c" fill-opacity="0.75"/>
<circle cx="191.03" cy="192.36" r="0.85" fill="#4a5e9c" fill-opacity="0.75"/>
<circle cx="200.02" cy="194.24" r="0.85" fill="#4a5e9c" fill-opacity="0.75"/>
<circle cx="192.54" cy="191.26" r="0.85" fill="#4a5e9c" fill-opacity="0.75"/>
<circle cx="201.46" cy="196.63" r="0.85" fill="#4a5e9c" fill-opacity="0.75"/>
<circle cx="195.47" cy="193.88" r="0.85" fill="#4a5e9c" fill-opacity="0.75"/>
<circle cx="187.42" cy="194.25" r="0.85" fill="#4a5e9c" fill-opacity="0.75"/>
<circle cx="186.24" cy="195.41" r="0.85" fill="#4a5e9c" fill-opacity="0.75"/>
<circle cx="192.09" cy="194.24" r="0.85" fill="#4a5e9c" fill-opacity="0.75"/>
<circle cx="190.73" cy="192.02" r="0.85" fill="#4a5e9c" fill-opacity="0.75"/>
<circle cx="189.96" cy="195.07" r="0.85" fill="#4a5e9c" fill-opacity="0.75"/>
<circle cx="195.70" cy="194.30" r="0.85" fill="#4a5e9c" fill-opacity="0.75"/>
<circle cx="207.33" cy="194.86" r="0.85" fill="#4a5e9c" fill-opacity="0.75"/>
<circle cx="195.66" cy="192.91" r="0.85" fill="#4a5e9c" fill-opacity="0.75"/>
<circle cx="188.56" cy="193.72" r="0.85" fill="#4a5e9c" fill-opacity="0.75"/>
<circle cx="186.08" cy="193.14" r="0.85" fill="#4a5e9c" fill-opacity="0.75"/>
<circle cx="193.45" cy="192.46" r="0.85" fill="#4a5e9c" fill-opacity="0.75"/>
<circle cx="193.44" cy="193.39" r="0.85" fill="#4a5e9c" fill-opacity="0.75"/>
<circle cx="185.10" cy="194.64" r="0.85" fill="#4a5e9c" fill-opacity="0.75"/>
<circle cx="185.43" cy="192.37" r="0.85" fill="#4a5e9c" fill-opacity="0.75"/>
<circle cx="196.88" cy="193.30" r="0.85" fill="#4a5e9c" fill-opacity="0.75"/>
<circle cx="200.33" cy="194.49" r="0.85" fill="#4a5e9c" fill-opacity="0.75"/>
<circle cx="185.97" cy="195.96" r="0.85" fill="#4a5e9c" fill-opacity="0.75"/>
<circle cx="188.12" cy="194.42" r="0.85" fill="#4a5e9c" fill-opacity="0.75"/>
<circle cx="204.60" cy="193.29" r="0.85" fill="#4a5e9c" fill-opacity="0.75"/>
<circle cx="184.32" cy="194.23" r="0.85" fill="#4a5e9c" fill-opacity="0.75"/>
<circle cx="187.29" cy="193.04" r="0.85" fill="#4a5e9c" fill-opacity="0.75"/>
<circle cx="188.38" cy="193.42" r="0.85" fill="#4a5e9c" fill-opacity="0.75"/>
<circle cx="197.71" cy="194.15" r="0.85" fill="#4a5e9c" fill-opacity="0.75"/>
<circle cx="195.80" cy="191.13" r="0.85" fill="#4a5e9c" fill-opacity="0.75"/>
<circle cx="193.98" cy="193.51" r="0.85" fill="#4a5e9c" fill-opacity="0.75"/>
<circle cx="193.59" cy="195.97" r="0.85" fill="#4a5e9c" fill-opacity="0.75"/>
<circle cx="207.54" cy="194.83" r="0.85" fill="#4a5e9c" fill-opacity="0.75"/>
<circle cx="187.68" cy="194.14" r="0.85" fill="#4a5e9c" fill-opacity="0.75"/>
<circle cx="195.19" cy="192.02" r="0.85" fill="#4a5e9c" fill-opacity="0.75"/>
<circle cx="198.86" cy="193.72" r="0.85" fill="#4a5e9c" fill-opacity="0.75"/>
<circle cx="207.38" cy="193.99" r="0.85" fill="#4a5e9c" fill-opacity="0.75"/>
<circle cx="189.17" cy="195.13" r="0.85" fill="#4a5e9c" fill-opacity="0.75"/>
<circle cx="197.49" cy="195.07" r="0.85" fill="#4a5e9c" fill-opacity="0.75"/>
<circle cx="201.64" cy="195.17" r="0.85" fill="#4a5e9c" fill-opacity="0.75"/>
<circle cx="200.47" cy="193.23" r="0.85" fill="#4a5e9c" fill-opacity="0.75"/>
<circle cx="202.00" cy="193.39" r="0.85" fill="#4a5e9c" fill-opacity="0.75"/>
<circle cx="199.87" cy="195.75" r="0.85" fill="#4a5e9c" fill-opacity="0.75"/>
<circle cx="205.65" cy="194.26" r="0.85" fill="#4a5e9c" fill-opacity="0.75"/>
<circle cx="204.93" cy="194.02" r="0.85" fill="#4a5e9c" fill-opacity="0.75"/>
<circle cx="198.65" cy="192.90" r="0.85" fill="#4a5e9c" fill-opacity="0.75"/>
<circle cx="206.70" cy="194.73" r="0.85" fill="#4a5e9c" fill-opacity="0.75"/>
<circle cx="198.43" cy="192.42" r="0.85" fill="#4a5e9c" fill-opacity="0.75"/>
<circle cx="195.13" cy="197.24" r="0.85" fill="#4a5e9c" fill-opacity="0.75"/>
<circle cx="206.90" cy="196.66" r="0.85" fill="#4a5e9c" fill-opacity="0.75"/>
<circle cx="203.00" cy="196.39" r="0.85" fill="#4a5e9c" fill-opacity="0.75"/>
<circle cx="202.44" cy="192.76" r="0.85" fill="#4a5e9c" fill-opacity="0.75"/>
<circle cx="191.91" cy="194.25" r="0.85" fill="#4a5e9c" fill-opacity="0.75"/>
<circle cx="198.74" cy="192.33" r="0.85" fill="#4a5e9c" fill-opacity="0.75"/>
<circle cx="204.61" cy="191.71" r="0.85" fill="#4a5e9c" fill-opacity="0.75"/>
<circle cx="184.37" cy="195.55" r="0.85" fill="#4a5e9c" fill-opacity="0.75"/>
<circle cx="207.14" cy="196.21" r="0.85" fill="#4a5e9c" fill-opacity="0.75"/>
<circle cx="193.18" cy="192.06" r="0.85" fill="#4a5e9c" fill-opacity="0.75"/>
<circle cx="194.70" cy="195.71" r="0.85" fill="#4a5e9c" fill-opacity="0.75"/>
<circle cx="191.62" cy="193.80" r="0.85" fill="#4a5e9c" fill-opacity="0.75"/>
<circle cx="202.09" cy="194.77" r="0.85" fill="#4a5e9c" fill-opacity="0.75"/>
<circle cx="190.84" cy="195.90" r="0.85" fill="#4a5e9c" fill-opacity="0.75"/>
<circle cx="187.48" cy="196.34" r="0.85" fill="#4a5e9c" fill-opacity="0.75"/>
<circle cx="202.90" cy="191.42" r="0.85" fill="#4a5e9c" fill-opacity="0.75"/>
<circle cx="196.67" cy="193.13" r="0.85" fill="#4a5e9c" fill-opacity="0.75"/>
<circle cx="195.49" cy="191.96" r="0.85" fill="#4a5e9c" fill-opacity="0.75"/>
<circle cx="207.28" cy="195.69" r="0.85" fill="#4a5e9c" fill-opacity="0.75"/>
<circle cx="185.36" cy="192.03" r="0.85" fill="#4a5e9c" fill-opacity="0.75"/>
<circle cx="197.90" cy="190.10" r="0.85" fill="#4a5e9c" fill-opacity="0.75"/>
<circle cx="196.71" cy="195.14" r="0.85" fill="#4a5e9c" fill-opacity="0.75"/>
<circle cx="185.48" cy="192.44" r="0.85" fill="#4a5e9c" fill-opacity="0.75"/>
<circle cx="203.75" cy="194.99" r="0.85" fill="#4a5e9c" fill-opacity="0.75"/>
<circle cx="196.00" cy="194.21" r="0.85" fill="#4a5e9c" fill-opacity="0.75"/>
<circle cx="203.10" cy="194.89" r="0.85" fill="#4a5e9c" fill-opacity="0.75"/>
<circle cx="197.70" cy="192.25" r="0.85" fill="#4a5e9c" fill-opacity="0.75"/>
<circle cx="189.84" cy="195.92" r="0.85" fill="#4a5e9c" fill-opacity="0.75"/>
<circle cx="195.69" cy="194.87" r="0.85" fill="#4a5e9c" fill-opacity="0.75"/>
<circle cx="185.94" cy="192.82" r="0.85" fill="#4a5e9c" fill-opacity="0.75"/>
<circle cx="184.72" cy="193.51" r="0.85" fill="#4a5e9c" fill-opacity="0.75"/>
<circle cx="188.85" cy="195.91" r="0.85" fill="#4a5e9c" fill-opacity="0.75"/>
<circle cx="197.40" cy="193.01" r="0.85" fill="#4a5e9c" fill-opacity="0.75"/>
<circle cx="190.63" cy="193.36" r="0.85" fill="#4a5e9c" fill-opacity="0.75"/>
<circle cx="194.59" cy="192.19" r="0.85" fill="#4a5e9c" fill-opacity="0.75"/>
<circle cx="204.00" cy="192.77" r="0.85" fill="#4a5e9c" fill-opacity="0.75"/>
<circle cx="207.57" cy="191.75" r="0.85" fill="#4a5e9c" fill-opacity="0.75"/>
<circle cx="192.76" cy="193.42" r="0.85" fill="#4a5e9c" fill-opacity="0.75"/>
<circle cx="205.21" cy="192.23" r="0.85" fill="#4a5e9c" fill-opacity="0.75"/>
<circle cx="199.16" cy="195.97" r="0.85" fill="#4a5e9c" fill-opacity="0.75"/>
<circle cx="191.55" cy="192.80" r="0.85" fill="#4a5e9c" fill-opacity="0.75"/>
<circle cx="186.13" cy="195.47" r="0.85" fill="#4a5e9c" fill-opacity="0.75"/>
<circle cx="204.14" cy="193.05" r="0.85" fill="#4a5e9c" fill-opacity="0.75"/>
<circle cx="189.57" cy="193.73" r="0.85" fill="#4a5e9c" fill-opacity="0.75"/>
<circle cx="206.31" cy="192.99" r="0.85" fill="#4a5e9c" fill-opacity="0.75"/>
<circle cx="197.10" cy="197.21" r="0.85" fill="#4a5e9c" fill-opacity="0.75"/>
<circle cx="196.17" cy="194.48" r="0.85" fill="#4a5e9c" fill-opacity="0.75"/>
<line x1="184.10" y1="194.50" x2="207.60" y2="194.50" stroke="#1f3a7a" stroke-width="1.8"/>
<circle cx="211.88" cy="185.56" r="0.85" fill="#4a5e9c" fill-opacity="0.75"/>
<circle cx="208.33" cy="186.22" r="0.85" fill="#4a5e9c" fill-opacity="0.75"/>
<circle cx="211.82" cy="184.97" r="0.85" fill="#4a5e9c" fill-opacity="0.75"/>
<circle cx="210.51" cy="185.41" r="0.85" fill="#4a5e9c" fill-opacity="0.75"/>
<circle cx="210.13" cy="185.26" r="0.85" fill="#4a5e9c" fill-opacity="0.75"/>
<circle cx="212.10" cy="187.06" r="0.85" fill="#4a5e9c" fill-opacity="0.75"/>
<circle cx="212.49" cy="183.35" r="0.85" fill="#4a5e9c" fill-opacity="0.75"/>
<circle cx="209.04" cy="186.73" r="0.85" fill="#4a5e9c" fill-opacity="0.75"/>
<circle cx="208.67" cy="185.24" r="0.85" fill="#4a5e9c" fill-opacity="0.75"/>
<circle cx="211.96" cy="185.31" r="0.85" fill="#4a5e9c" fill-opacity="0.75"/>
<circle cx="212.65" cy="185.96" r="0.85" fill="#4a5e9c" fill-opacity="0.75"/>
<circle cx="212.87" cy="186.34" r="0.85" fill="#4a5e9c" fill-opacity="0.75"/>
<circle cx="209.40" cy="187.09" r="0.85" fill="#4a5e9c" fill-opacity="0.75"/>
<circle cx="211.76" cy="186.98" r="0.85" fill="#4a5e9c" fill-opacity="0.75"/>
<circle cx="210.42" cy="187.23" r="0.85" fill="#4a5e9c" fill-opacity="0.75"/>
<circle cx="210.27" cy="185.26" r="0.85" fill="#4a5e9c" fill-opacity="0.75"/>
<circle cx="208.42" cy="185.18" r="0.85" fill="#4a5e9c" fill-opacity="0.75"/>
<circle cx="209.53" cy="185.69" r="0.85" fill="#4a5e9c" fill-opacity="0.75"/>
<circle cx="210.44" cy="185.41" r="0.85" fill="#4a5e9c" fill-opacity="0.75"/>
<circle cx="211.27" cy="186.24" r="0.85" fill="#4a5e9c" fill-opacity="0.75"/>
<circle cx="212.65" cy="183.86" r="0.85" fill="#4a5e9c" fill-opacity="0.75"/>
<line x1="208.40" y1="186.76" x2="212.90" y2="186.76" stroke="#1f3a7a" stroke-width="1.8"/>
<circle cx="226.89" cy="201.59" r="0.85" fill="#4a5e9c" fill-opacity="0.75"/>
<circle cx="221.20" cy="202.43" r="0.85" fill="#4a5e9c" fill-opacity="0.75"/>
<circle cx="220.47" cy="203.46" r="0.85" fill="#4a5e9c" fill-opacity="0.75"/>
<circle cx="216.45" cy="204.28" r="0.85" fill="#4a5e9c" fill-opacity="0.75"/>
<circle cx="224.86" cy="199.37" r="0.85" fill="#4a5e9c" fill-opacity="0.75"/>
<circle cx="222.54" cy="201.10" r="0.85" fill="#4a5e9c" fill-opacity="0.75"/>
<circle cx="230.21" cy="202.40" r="0.85" fill="#4a5e9c" fill-opacity="0.75"/>
<circle cx="219.94" cy="203.79" r="0.85" fill="#4a5e9c" fill-opacity="0.75"/>
<circle cx="216.78" cy="202.84" r="0.85" fill="#4a5e9c" fill-opacity="0.75"/>
<circle cx="222.78" cy="202.60" r="0.85" fill="#4a5e9c" fill-opacity="0.75"/>
<circle cx="228.19" cy="203.30" r="0.85" fill="#4a5e9c" fill-opacity="0.75"/>
<circle cx="226.46" cy="202.56" r="0.85" fill="#4a5e9c" fill-opacity="0.75"/>
<circle cx="225.39" cy="201.69" r="0.85" fill="#4a5e9c" fill-opacity="0.75"/>
<circle cx="216.98" cy="202.43" r="0.85" fill="#4a5e9c" fill-opacity="0.75"/>
<circle cx="222.74" cy="202.67" r="0.85" fill="#4a5e9c" fill-opacity="0.75"/>
<circle cx="229.73" cy="201.31" r="0.85" fill="#4a5e9c" fill-opacity="0.75"/>
<circle cx="224.85" cy="202.36" r="0.85" fill="#4a5e9c" fill-opacity="0.75"/>
<circle cx="215.19" cy="200.64" r="0.85" fill="#4a5e9c" fill-opacity="0.75"/>
<circle cx="225.31" cy="203.69" r="0.85" fill="#4a5e9c" fill-opacity="0.75"/>
<circle cx="223.51" cy="202.85" r="0.85" fill="#4a5e9c" fill-opacity="0.75"/>
<circle cx="223.72" cy="202.47" r="0.85" fill="#4a5e9c" fill-opacity="0.75"/>
<circle cx="219.87" cy="205.62" r="0.85" fill="#4a5e9c" fill-opacity="0.75"/>
<circle cx="219.88" cy="201.08" r="0.85" fill="#4a5e9c" fill-opacity="0.75"/>
<circle cx="228.21" cy="204.43" r="0.85" fill="#4a5e9c" fill-opacity="0.75"/>
<circle cx="223.74" cy="201.32" r="0.85" fill="#4a5e9c" fill-opacity="0.75"/>
<circle cx="218.73" cy="204.14" r="0.85" fill="#4a5e9c" fill-opacity="0.75"/>
<circle cx="214.05" cy="203.82" r="0.85" fill="#4a5e9c" fill-opacity="0.75"/>
<circle cx="215.96" cy="202.52" r="0.85" fill="#4a5e9c" fill-opacity="0.75"/>
<circle cx="216.55" cy="203.06" r="0.85" fill="#4a5e9c" fill-opacity="0.75"/>
<circle cx="223.37" cy="202.75" r="0.85" fill="#4a5e9c" fill-opacity="0.75"/>
<circle cx="226.60" cy="202.43" r="0.85" fill="#4a5e9c" fill-opacity="0.75"/>
<circle cx="228.34" cy="201.55" r="0.85" fill="#4a5e9c" fill-opacity="0.75"/>
<circle cx="221.42" cy="201.40" r="0.85" fill="#4a5e9c" fill-opacity="0.75"/>
<circle cx="215.25" cy="202.95" r="0.85" fill="#4a5e9c" fill-opacity="0.75"/>
<circle cx="223.91" cy="203.44" r="0.85" fill="#4a5e9c" fill-opacity="0.75"/>
<circle cx="215.54" cy="204.45" r="0.85" fill="#4a5e9c" fill-opacity="0.75"/>
<circle cx="217.60" cy="204.37" r="0.85" fill="#4a5e9c" fill-opacity="0.75"/>
<circle cx="225.37" cy="201.23" r="0.85" fill="#4a5e9c" fill-opacity="0.75"/>
<circle cx="213.93" cy="202.81" r="0.85" fill="#4a5e9c" fill-opacity="0.75"/>
<circle cx="225.81" cy="198.93" r="0.85" fill="#4a5e9c" fill-opacity="0.75"/>
<circle cx="230.68" cy="203.67" r="0.85" fill="#4a5e9c" fill-opacity="0.75"/>
<circle cx="228.36" cy="202.90" r="0.85" fill="#4a5e9c" fill-opacity="0.75"/>
<circle cx="228.44" cy="199.01" r="0.85" fill="#4a5e9c" fill-opacity="0.75"/>
<circle cx="220.65" cy="201.01" r="0.85" fill="#4a5e9c" fill-opacity="0.75"/>
<circle cx="219.32" cy="203.69" r="0.85" fill="#4a5e9c" fill-opacity="0.75"/>
<circle cx="228.92" cy="204.06" r="0.85" fill="#4a5e9c" fill-opacity="0.75"/>
<circle cx="213.80" cy="203.15" r="0.85" fill="#4a5e9c" fill-opacity="0.75"/>
<circle cx="217.13" cy="203.03" r="0.85" fill="#4a5e9c" fill-opacity="0.75"/>
<circle cx="217.57" cy="201.35" r="0.85" fill="#4a5e9c" fill-opacity="0.75"/>
<circle cx="221.59" cy="204.11" r="0.85" fill="#4a5e9c" fill-opacity="0.75"/>
<circle cx="214.31" cy="202.07" r="0.85" fill="#4a5e9c" fill-opacity="0.75"/>
<circle cx="224.53" cy="204.08" r="0.85" fill="#4a5e9c" fill-opacity="0.75"/>
<circle cx="227.79" cy="200.72" r="0.85" fill="#4a5e9c" fill-opacity="0.75"/>
<circle cx="213.84" cy="202.89" r="0.85" fill="#4a5e9c" fill-opacity="0.75"/>
<circle cx="214.29" cy="203.41" r="0.85" fill="#4a5e9c" fill-opacity="0.75"/>
<circle cx="214.66" cy="203.28" r="0.85" fill="#4a5e9c" fill-opacity="0.75"/>
<circle cx="229.81" cy="202.94" r="0.85" fill="#4a5e9c" fill-opacity="0.75"/>
<circle cx="230.00" cy="202.18" r="0.85" fill="#4a5e9c" fill-opacity="0.75"/>
<circle cx="222.60" cy="204.67" r="0.85" fill="#4a5e9c" fill-opacity="0.75"/>
<circle cx="218.42" cy="200.59" r="0.85" fill="#4a5e9c" fill-opacity="0.75"/>
<circle cx="226.63" cy="202.17" r="0.85" fill="#4a5e9c" fill-opacity="0.75"/>
<circle cx="217.50" cy="203.89" r="0.85" fill="#4a5e9c" fill-opacity="0.75"/>
<circle cx="223.25" cy="200.66" r="0.85" fill="#4a5e9c" fill-opacity="0.75"/>
<circle cx="222.01" cy="204.54" r="0.85" fill="#4a5e9c" fill-opacity="0.75"/>
<circle cx="214.14" cy="202.08" r="0.85" fill="#4a5e9c" fill-opacity="0.75"/>
<circle cx="230.67" cy="203.23" r="0.85" fill="#4a5e9c" fill-opacity="0.75"/>
<circle cx="229.87" cy="204.18" r="0.85" fill="#4a5e9c" fill-opacity="0.75"/>
<circle cx="219.33" cy="205.23" r="0.85" fill="#4a5e9c" fill-opacity="0.75"/>
<circle cx="229.06" cy="200.60" r="0.85" fill="#4a5e9c" fill-opacity="0.75"/>
<circle cx="223.30" cy="201.55" r="0.85" fill="#4a5e9c" fill-opacity="0.75"/>
<circle cx="222.70" cy="201.76" r="0.85" fill="#4a5e9c" fill-opacity="0.75"/>
<circle cx="219.83" cy="202.63" r="0.85" fill="#4a5e9c" fill-opacity="0.75"/>
<line x1="213.70" y1="203.10" x2="231.10" y2="203.10" stroke="#1f3a7a" stroke-width="1.8"/>
<circle cx="245.62" cy="192.09" r="0.85" fill="#4a5e9c" fill-opacity="0.75"/>
<circle cx="240.30" cy="193.49" r="0.85" fill="#4a5e9c" fill-opacity="0.75"/>
<circle cx="244.26" cy="193.18" r="0.85" fill="#4a5e9c" fill-opacity="0.75"/>
<circle cx="248.91" cy="196.34" r="0.85" fill="#4a5e9c" fill-opacity="0.75"/>
<circle cx="252.11" cy="195.56" r="0.85" fill="#4a5e9c" fill-opacity="0.75"/>
<circle cx="244.67" cy="192.32" r="0.85" fill="#4a5e9c" fill-opacity="0.75"/>
<circle cx="233.91" cy="192.17" r="0.85" fill="#4a5e9c" fill-opacity="0.75"/>
<circle cx="243.02" cy="195.02" r="0.85" fill="#4a5e9c" fill-opacity="0.75"/>
<circle cx="234.85" cy="194.92" r="0.85" fill="#4a5e9c" fill-opacity="0.75"/>
<circle cx="237.50" cy="193.37" r="0.85" fill="#4a5e9c" fill-opacity="0.75"/>
<circle cx="245.93" cy="193.40" r="0.85" fill="#4a5e9c" fill-opacity="0.75"/>
<circle cx="238.99" cy="192.80" r="0.85" fill="#4a5e9c" fill-opacity="0.75"/>
<circle cx="245.02" cy="191.38" r="0.85" fill="#4a5e9c" fill-opacity="0.75"/>
<circle cx="239.57" cy="189.36" r="0.85" fill="#4a5e9c" fill-opacity="0.75"/>
<circle cx="242.75" cy="194.42" r="0.85" fill="#4a5e9c" fill-opacity="0.75"/>
<circle cx="236.53" cy="192.38" r="0.85" fill="#4a5e9c" fill-opacity="0.75"/>
<circle cx="238.53" cy="195.91" r="0.85" fill="#4a5e9c" fill-opacity="0.75"/>
<circle cx="238.45" cy="193.50" r="0.85" fill="#4a5e9c" fill-opacity="0.75"/>
<circle cx="249.98" cy="194.23" r="0.85" fill="#4a5e9c" fill-opacity="0.75"/>
<circle cx="250.08" cy="193.81" r="0.85" fill="#4a5e9c" fill-opacity="0.75"/>
<circle cx="242.74" cy="193.10" r="0.85" fill="#4a5e9c" fill-opacity="0.75"/>
<circle cx="248.64" cy="195.83" r="0.85" fill="#4a5e9c" fill-opacity="0.75"/>
<circle cx="240.57" cy="193.48" r="0.85" fill="#4a5e9c" fill-opacity="0.75"/>
<circle cx="241.04" cy="192.48" r="0.85" fill="#4a5e9c" fill-opacity="0.75"/>
<circle cx="240.15" cy="194.35" r="0.85" fill="#4a5e9c" fill-opacity="0.75"/>
<circle cx="245.03" cy="194.68" r="0.85" fill="#4a5e9c" fill-opacity="0.75"/>
<circle cx="240.39" cy="193.52" r="0.85" fill="#4a5e9c" fill-opacity="0.75"/>
<circle cx="247.45" cy="195.51" r="0.85" fill="#4a5e9c" fill-opacity="0.75"/>
<circle cx="247.03" cy="192.72" r="0.85" fill="#4a5e9c" fill-opacity="0.75"/>
<circle cx="239.20" cy="193.50" r="0.85" fill="#4a5e9c" fill-opacity="0.75"/>
<circle cx="235.38" cy="194.34" r="0.85" fill="#4a5e9c" fill-opacity="0.75"/>
<circle cx="237.82" cy="191.96" r="0.85" fill="#4a5e9c" fill-opacity="0.75"/>
<circle cx="251.61" cy="196.82" r="0.85" fill="#4a5e9c" fill-opacity="0.75"/>
<circle cx="242.49" cy="194.31" r="0.85" fill="#4a5e9c" fill-opacity="0.75"/>
<circle cx="240.21" cy="192.96" r="0.85" fill="#4a5e9c" fill-opacity="0.75"/>
<circle cx="243.33" cy="195.43" r="0.85" fill="#4a5e9c" fill-opacity="0.75"/>
<circle cx="246.55" cy="195.11" r="0.85" fill="#4a5e9c" fill-opacity="0.75"/>
<circle cx="232.02" cy="196.26" r="0.85" fill="#4a5e9c" fill-opacity="0.75"/>
<circle cx="250.51" cy="193.94" r="0.85" fill="#4a5e9c" fill-opacity="0.75"/>
<circle cx="233.81" cy="194.27" r="0.85" fill="#4a5e9c" fill-opacity="0.75"/>
<circle cx="247.49" cy="193.94" r="0.85" fill="#4a5e9c" fill-opacity="0.75"/>
<circle cx="249.57" cy="195.33" r="0.85" fill="#4a5e9c" fill-opacity="0.75"/>
<circle cx="235.85" cy="192.80" r="0.85" fill="#4a5e9c" fill-opacity="0.75"/>
<circle cx="234.77" cy="191.29" r="0.85" fill="#4a5e9c" fill-opacity="0.75"/>
<circle cx="233.35" cy="195.55" r="0.85" fill="#4a5e9c" fill-opacity="0.75"/>
<circle cx="240.58" cy="193.34" r="0.85" fill="#4a5e9c" fill-opacity="0.75"/>
<circle cx="245.06" cy="193.11" r="0.85" fill="#4a5e9c" fill-opacity="0.75"/>
<circle cx="236.66" cy="192.09" r="0.85" fill="#4a5e9c" fill-opacity="0.75"/>
<circle cx="232.47" cy="191.85" r="0.85" fill="#4a5e9c" fill-opacity="0.75"/>
<circle cx="233.09" cy="191.75" r="0.85" fill="#4a5e9c" fill-opacity="0.75"/>
<circle cx="244.53" cy="194.95" r="0.85" fill="#4a5e9c" fill-opacity="0.75"/>
<circle cx="247.39" cy="192.54" r="0.85" fill="#4a5e9c" fill-opacity="0.75"/>
<circle cx="236.35" cy="194.27" r="0.85" fill="#4a5e9c" fill-opacity="0.75"/>
<circle cx="243.77" cy="193.98" r="0.85" fill="#4a5e9c" fill-opacity="0.75"/>
<circle cx="241.09" cy="194.05" r="0.85" fill="#4a5e9c" fill-opacity="0.75"/>
<circle cx="236.94" cy="197.07" r="0.85" fill="#4a5e9c" fill-opacity="0.75"/>
<circle cx="245.62" cy="191.17" r="0.85" fill="#4a5e9c" fill-opacity="0.75"/>
<circle cx="243.73" cy="192.61" r="0.85" fill="#4a5e9c" fill-opacity="0.75"/>
<circle cx="232.26" cy="194.68" r="0.85" fill="#4a5e9c" fill-opacity="0.75"/>
<circle cx="233.58" cy="192.78" r="0.85" fill="#4a5e9c" fill-opacity="0.75"/>
<circle cx="249.80" cy="192.77" r="0.85" fill="#4a5e9c" fill-opacity="0.75"/>
<circle cx="249.58" cy="194.77" r="0.85" fill="#4a5e9c" fill-opacity="0.75"/>
<circle cx="245.09" cy="195.42" r="0.85" fill="#4a5e9c" fill-opacity="0.75"/>
<circle cx="243.10" cy="193.52" r="0.85" fill="#4a5e9c" fill-opacity="0.75"/>
<circle cx="241.33" cy="193.00" r="0.85" fill="#4a5e9c" fill-opacity="0.75"/>
<circle cx="232.32" cy="195.23" r="0.85" fill="#4a5e9c" fill-opacity="0.75"/>
<circle cx="236.73" cy="194.58" r="0.85" fill="#4a5e9c" fill-opacity="0.75"/>
<circle cx="247.86" cy="194.62" r="0.85" fill="#4a5e9c" fill-opacity="0.75"/>
<circle cx="241.33" cy="194.21" r="0.85" fill="#4a5e9c" fill-opacity="0.75"/>
<circle cx="236.22" cy="192.83" r="0.85" fill="#4a5e9c" fill-opacity="0.75"/>
<circle cx="244.64" cy="192.80" r="0.85" fill="#4a5e9c" fill-opacity="0.75"/>
<circle cx="235.97" cy="193.29" r="0.85" fill="#4a5e9c" fill-opacity="0.75"/>
<circle cx="245.58" cy="198.83" r="0.85" fill="#4a5e9c" fill-opacity="0.75"/>
<circle cx="240.78" cy="192.02" r="0.85" fill="#4a5e9c" fill-opacity="0.75"/>
<circle cx="242.71" cy="192.42" r="0.85" fill="#4a5e9c" fill-opacity="0.75"/>
<circle cx="247.11" cy="194.92" r="0.85" fill="#4a5e9c" fill-opacity="0.75"/>
<circle cx="233.67" cy="195.36" r="0.85" fill="#4a5e9c" fill-opacity="0.75"/>
<circle cx="232.39" cy="191.94" r="0.85" fill="#4a5e9c" fill-opacity="0.75"/>
<circle cx="234.76" cy="196.25" r="0.85" fill="#4a5e9c" fill-opacity="0.75"/>
<circle cx="247.63" cy="194.12" r="0.85" fill="#4a5e9c" fill-opacity="0.75"/>
<circle cx="235.64" cy="194.34" r="0.85" fill="#4a5e9c" fill-opacity="0.75"/>
<circle cx="248.23" cy="193.54" r="0.85" fill="#4a5e9c" fill-opacity="0.75"/>
<circle cx="235.73" cy="193.77" r="0.85" fill="#4a5e9c" fill-opacity="0.75"/>
<circle cx="248.46" cy="193.27" r="0.85" fill="#4a5e9c" fill-opacity="0.75"/>
<line x1="231.90" y1="194.50" x2="252.10" y2="194.50" stroke="#1f3a7a" stroke-width="1.8"/>
<circle cx="260.13" cy="203.31" r="0.85" fill="#4a5e9c" fill-opacity="0.75"/>
<circle cx="265.75" cy="201.30" r="0.85" fill="#4a5e9c" fill-opacity="0.75"/>
<circle cx="272.10" cy="203.05" r="0.85" fill="#4a5e9c" fill-opacity="0.75"/>
<circle cx="267.03" cy="203.61" r="0.85" fill="#4a5e9c" fill-opacity="0.75"/>
<circle cx="253.32" cy="202.09" r="0.85" fill="#4a5e9c" fill-opacity="0.75"/>
<circle cx="261.05" cy="201.11" r="0.85" fill="#4a5e9c" fill-opacity="0.75"/>
<circle cx="254.81" cy="202.23" r="0.85" fill="#4a5e9c" fill-opacity="0.75"/>
<circle cx="257.32" cy="203.50" r="0.85" fill="#4a5e9c" fill-opacity="0.75"/>
<circle cx="261.14" cy="201.43" r="0.85" fill="#4a5e9c" fill-opacity="0.75"/>
<circle cx="256.02" cy="201.63" r="0.85" fill="#4a5e9c" fill-opacity="0.75"/>
<circle cx="264.18" cy="200.37" r="0.85" fill="#4a5e9c" fill-opacity="0.75"/>
<circle cx="257.49" cy="200.25" r="0.85" fill="#4a5e9c" fill-opacity="0.75"/>
<circle cx="263.53" cy="204.23" r="0.85" fill="#4a5e9c" fill-opacity="0.75"/>
<circle cx="272.07" cy="201.63" r="0.85" fill="#4a5e9c" fill-opacity="0.75"/>
<circle cx="268.53" cy="200.93" r="0.85" fill="#4a5e9c" fill-opacity="0.75"/>
<circle cx="264.85" cy="200.18" r="0.85" fill="#4a5e9c" fill-opacity="0.75"/>
<circle cx="272.87" cy="202.35" r="0.85" fill="#4a5e9c" fill-opacity="0.75"/>
<circle cx="268.81" cy="202.18" r="0.85" fill="#4a5e9c" fill-opacity="0.75"/>
<circle cx="271.62" cy="200.64" r="0.85" fill="#4a5e9c" fill-opacity="0.75"/>
<circle cx="265.48" cy="203.57" r="0.85" fill="#4a5e9c" fill-opacity="0.75"/>
<circle cx="263.66" cy="200.65" r="0.85" fill="#4a5e9c" fill-opacity="0.75"/>
<circle cx="259.81" cy="205.08" r="0.85" fill="#4a5e9c" fill-opacity="0.75"/>
<circle cx="266.98" cy="203.47" r="0.85" fill="#4a5e9c" fill-opacity="0.75"/>
<circle cx="266.74" cy="200.95" r="0.85" fill="#4a5e9c" fill-opacity="0.75"/>
<circle cx="266.67" cy="203.79" r="0.85" fill="#4a5e9c" fill-opacity="0.75"/>
<circle cx="256.70" cy="200.65" r="0.85" fill="#4a5e9c" fill-opacity="0.75"/>
<circle cx="269.80" cy="201.75" r="0.85" fill="#4a5e9c" fill-opacity="0.75"/>
<circle cx="268.89" cy="202.21" r="0.85" fill="#4a5e9c" fill-opacity="0.75"/>
<circle cx="258.16" cy="203.27" r="0.85" fill="#4a5e9c" fill-opacity="0.75"/>
<circle cx="254.71" cy="202.32" r="0.85" fill="#4a5e9c" fill-opacity="0.75"/>
<circle cx="255.63" cy="201.91" r="0.85" fill="#4a5e9c" fill-opacity="0.75"/>
<circle cx="267.34" cy="199.81" r="0.85" fill="#4a5e9c" fill-opacity="0.75"/>
<circle cx="266.00" cy="201.85" r="0.85" fill="#4a5e9c" fill-opacity="0.75"/>
<circle cx="255.55" cy="202.05" r="0.85" fill="#4a5e9c" fill-opacity="0.75"/>
<circle cx="265.77" cy="200.83" r="0.85" fill="#4a5e9c" fill-opacity="0.75"/>
<circle cx="261.55" cy="204.32" r="0.85" fill="#4a5e9c" fill-opacity="0.75"/>
<circle cx="272.97" cy="201.79" r="0.85" fill="#4a5e9c" fill-opacity="0.75"/>
<circle cx="261.17" cy="202.31" r="0.85" fill="#4a5e9c" fill-opacity="0.75"/>
<circle cx="262.82" cy="205.16" r="0.85" fill="#4a5e9c" fill-opacity="0.75"/>
<circle cx="255.08" cy="203.24" r="0.85" fill="#4a5e9c" fill-opacity="0.75"/>
<circle cx="272.64" cy="203.25" r="0.85" fill="#4a5e9c" fill-opacity="0.75"/>
<circle cx="258.76" cy="203.70" r="0.85" fill="#4a5e9c" fill-opacity="0.75"/>
<circle cx="253.74" cy="198.94" r="0.85" fill="#4a5e9c" fill-opacity="0.75"/>
<circle cx="268.19" cy="203.21" r="0.85" fill="#4a5e9c" fill-opacity="0.75"/>
<circle cx="268.02" cy="202.33" r="0.85" fill="#4a5e9c" fill-opacity="0.75"/>
<circle cx="262.86" cy="204.36" r="0.85" fill="#4a5e9c" fill-opacity="0.75"/>
<circle cx="259.43" cy="202.14" r="0.85" fill="#4a5e9c" fill-opacity="0.75"/>
<circle cx="265.44" cy="202.94" r="0.85" fill="#4a5e9c" fill-opacity="0.75"/>
<circle cx="267.21" cy="202.20" r="0.85" fill="#4a5e9c" fill-opacity="0.75"/>
<circle cx="253.32" cy="202.07" r="0.85" fill="#4a5e9c" fill-opacity="0.75"/>
<circle cx="255.79" cy="200.26" r="0.85" fill="#4a5e9c" fill-opacity="0.75"/>
<circle cx="271.25" cy="204.95" r="0.85" fill="#4a5e9c" fill-opacity="0.75"/>
<circle cx="254.90" cy="202.28" r="0.85" fill="#4a5e9c" fill-opacity="0.75"/>
<circle cx="260.62" cy="201.40" r="0.85" fill="#4a5e9c" fill-opacity="0.75"/>
<circle cx="260.14" cy="202.59" r="0.85" fill="#4a5e9c" fill-opacity="0.75"/>
<circle cx="270.06" cy="203.20" r="0.85" fill="#4a5e9c" fill-opacity="0.75"/>
<circle cx="253.99" cy="204.33" r="0.85" fill="#4a5e9c" fill-opacity="0.75"/>
<circle cx="273.40" cy="203.96" r="0.85" fill="#4a5e9c" fill-opacity="0.75"/>
<circle cx="253.84" cy="202.79" r="0.85" fill="#4a5e9c" fill-opacity="0.75"/>
<circle cx="273.31" cy="203.83" r="0.85" fill="#4a5e9c" fill-opacity="0.75"/>
<circle cx="265.71" cy="203.09" r="0.85" fill="#4a5e9c" fill-opacity="0.75"/>
<circle cx="265.92" cy="203.23" r="0.85" fill="#4a5e9c" fill-opacity="0.75"/>
<circle cx="272.97" cy="203.38" r="0.85" fill="#4a5e9c" fill-opacity="0.75"/>
<circle cx="260.47" cy="197.92" r="0.85" fill="#4a5e9c" fill-opacity="0.75"/>
<circle cx="263.33" cy="200.92" r="0.85" fill="#4a5e9c" fill-opacity="0.75"/>
<circle cx="254.28" cy="204.43" r="0.85" fill="#4a5e9c" fill-opacity="0.75"/>
<circle cx="254.09" cy="201.00" r="0.85" fill="#4a5e9c" fill-opacity="0.75"/>
<circle cx="267.73" cy="202.28" r="0.85" fill="#4a5e9c" fill-opacity="0.75"/>
<circle cx="252.89" cy="203.15" r="0.85" fill="#4a5e9c" fill-opacity="0.75"/>
<circle cx="262.46" cy="200.66" r="0.85" fill="#4a5e9c" fill-opacity="0.75"/>
<circle cx="263.45" cy="201.05" r="0.85" fill="#4a5e9c" fill-opacity="0.75"/>
<circle cx="255.98" cy="203.20" r="0.85" fill="#4a5e9c" fill-opacity="0.75"/>
<circle cx="265.35" cy="204.56" r="0.85" fill="#4a5e9c" fill-opacity="0.75"/>
<circle cx="259.63" cy="203.66" r="0.85" fill="#4a5e9c" fill-opacity="0.75"/>
<circle cx="264.44" cy="201.40" r="0.85" fill="#4a5e9c" fill-opacity="0.75"/>
<circle cx="255.62" cy="203.09" r="0.85" fill="#4a5e9c" fill-opacity="0.75"/>
<circle cx="263.73" cy="200.82" r="0.85" fill="#4a5e9c" fill-opacity="0.75"/>
<circle cx="268.04" cy="200.62" r="0.85" fill="#4a5e9c" fill-opacity="0.75"/>
<circle cx="255.83" cy="201.05" r="0.85" fill="#4a5e9c" fill-opacity="0.75"/>
<circle cx="260.22" cy="201.71" r="0.85" fill="#4a5e9c" fill-opacity="0.75"/>
<circle cx="261.89" cy="202.44" r="0.85" fill="#4a5e9c" fill-opacity="0.75"/>
<circle cx="256.98" cy="203.43" r="0.85" fill="#4a5e9c" fill-opacity="0.75"/>
<circle cx="257.36" cy="203.48" r="0.85" fill="#4a5e9c" fill-opacity="0.75"/>
<circle cx="266.61" cy="200.89" r="0.85" fill="#4a5e9c" fill-opacity="0.75"/>
<line x1="252.90" y1="203.10" x2="273.30" y2="203.10" stroke="#1f3a7a" stroke-width="1.8"/>
<circle cx="275.97" cy="183.73" r="0.85" fill="#4a5e9c" fill-opacity="0.75"/>
<circle cx="280.40" cy="185.72" r="0.85" fill="#4a5e9c" fill-opacity="0.75"/>
<circle cx="278.93" cy="186.47" r="0.85" fill="#4a5e9c" fill-opacity="0.75"/>
<circle cx="275.17" cy="183.72" r="0.85" fill="#4a5e9c" fill-opacity="0.75"/>
<circle cx="278.41" cy="186.97" r="0.85" fill="#4a5e9c" fill-opacity="0.75"/>
<circle cx="282.36" cy="182.61" r="0.85" fill="#4a5e9c" fill-opacity="0.75"/>
<circle cx="278.00" cy="184.66" r="0.85" fill="#4a5e9c" fill-opacity="0.75"/>
<circle cx="275.67" cy="183.80" r="0.85" fill="#4a5e9c" fill-opacity="0.75"/>
<circle cx="274.81" cy="184.04" r="0.85" fill="#4a5e9c" fill-opacity="0.75"/>
<circle cx="274.41" cy="181.79" r="0.85" fill="#4a5e9c" fill-opacity="0.75"/>
<circle cx="278.00" cy="182.20" r="0.85" fill="#4a5e9c" fill-opacity="0.75"/>
<circle cx="275.18" cy="185.77" r="0.85" fill="#4a5e9c" fill-opacity="0.75"/>
<circle cx="275.75" cy="185.00" r="0.85" fill="#4a5e9c" fill-opacity="0.75"/>
<circle cx="280.34" cy="184.54" r="0.85" fill="#4a5e9c" fill-opacity="0.75"/>
<circle cx="281.00" cy="186.28" r="0.85" fill="#4a5e9c" fill-opacity="0.75"/>
<circle cx="274.10" cy="185.27" r="0.85" fill="#4a5e9c" fill-opacity="0.75"/>
<circle cx="278.56" cy="186.26" r="0.85" fill="#4a5e9c" fill-opacity="0.75"/>
<circle cx="278.25" cy="185.79" r="0.85" fill="#4a5e9c" fill-opacity="0.75"/>
<circle cx="276.85" cy="184.19" r="0.85" fill="#4a5e9c" fill-opacity="0.75"/>
<circle cx="274.30" cy="186.12" r="0.85" fill="#4a5e9c" fill-opacity="0.75"/>
<circle cx="280.04" cy="184.51" r="0.85" fill="#4a5e9c" fill-opacity="0.75"/>
<circle cx="280.88" cy="185.20" r="0.85" fill="#4a5e9c" fill-opacity="0.75"/>
<circle cx="274.64" cy="185.26" r="0.85" fill="#4a5e9c" fill-opacity="0.75"/>
<circle cx="281.60" cy="186.04" r="0.85" fill="#4a5e9c" fill-opacity="0.75"/>
<circle cx="281.27" cy="184.46" r="0.85" fill="#4a5e9c" fill-opacity="0.75"/>
<circle cx="280.62" cy="184.78" r="0.85" fill="#4a5e9c" fill-opacity="0.75"/>
<circle cx="277.86" cy="189.44" r="0.85" fill="#4a5e9c" fill-opacity="0.75"/>
<circle cx="278.21" cy="183.21" r="0.85" fill="#4a5e9c" fill-opacity="0.75"/>
<circle cx="279.40" cy="184.86" r="0.85" fill="#4a5e9c" fill-opacity="0.75"/>
<circle cx="279.22" cy="187.18" r="0.85" fill="#4a5e9c" fill-opacity="0.75"/>
<circle cx="277.90" cy="182.46" r="0.85" fill="#4a5e9c" fill-opacity="0.75"/>
<circle cx="282.33" cy="184.08" r="0.85" fill="#4a5e9c" fill-opacity="0.75"/>
<circle cx="276.71" cy="185.17" r="0.85" fill="#4a5e9c" fill-opacity="0.75"/>
<circle cx="279.43" cy="185.88" r="0.85" fill="#4a5e9c" fill-opacity="0.75"/>
<circle cx="276.88" cy="187.63" r="0.85" fill="#4a5e9c" fill-opacity="0.75"/>
<circle cx="282.16" cy="184.84" r="0.85" fill="#4a5e9c" fill-opacity="0.75"/>
<circle cx="275.97" cy="186.38" r="0.85" fill="#4a5e9c" fill-opacity="0.75"/>
<line x1="274.10" y1="185.90" x2="282.60" y2="185.90" stroke="#1f3a7a" stroke-width="1.8"/>
<circle cx="284.53" cy="188.18" r="0.85" fill="#4a5e9c" fill-opacity="0.75"/>
<circle cx="283.50" cy="188.44" r="0.85" fill="#4a5e9c" fill-opacity="0.75"/>
<circle cx="283.39" cy="190.82" r="0.85" fill="#4a5e9c" fill-opacity="0.75"/>
<circle cx="284.12" cy="189.53" r="0.85" fill="#4a5e9c" fill-opacity="0.75"/>
<circle cx="284.28" cy="192.02" r="0.85" fill="#4a5e9c" fill-opacity="0.75"/>
<circle cx="283.58" cy="188.17" r="0.85" fill="#4a5e9c" fill-opacity="0.75"/>
<circle cx="284.10" cy="191.47" r="0.85" fill="#4a5e9c" fill-opacity="0.75"/>
<circle cx="283.63" cy="190.94" r="0.85" fill="#4a5e9c" fill-opacity="0.75"/>
<line x1="283.40" y1="190.20" x2="284.60" y2="190.20" stroke="#1f3a7a" stroke-width="1.8"/>
<circle cx="286.18" cy="188.30" r="0.85" fill="#4a5e9c" fill-opacity="0.75"/>
<circle cx="287.55" cy="186.76" r="0.85" fill="#4a5e9c" fill-opacity="0.75"/>
<circle cx="286.82" cy="186.74" r="0.85" fill="#4a5e9c" fill-opacity="0.75"/>
<circle cx="289.67" cy="183.82" r="0.85" fill="#4a5e9c" fill-opacity="0.75"/>
<circle cx="290.78" cy="185.61" r="0.85" fill="#4a5e9c" fill-opacity="0.75"/>
<circle cx="290.32" cy="183.79" r="0.85" fill="#4a5e9c" fill-opacity="0.75"/>
<circle cx="286.24" cy="186.05" r="0.85" fill="#4a5e9c" fill-opacity="0.75"/>
<circle cx="287.81" cy="187.92" r="0.85" fill="#4a5e9c" fill-opacity="0.75"/>
<circle cx="290.09" cy="186.86" r="0.85" fill="#4a5e9c" fill-opacity="0.75"/>
<circle cx="289.76" cy="184.56" r="0.85" fill="#4a5e9c" fill-opacity="0.75"/>
<circle cx="288.85" cy="183.47" r="0.85" fill="#4a5e9c" fill-opacity="0.75"/>
<circle cx="286.48" cy="182.46" r="0.85" fill="#4a5e9c" fill-opacity="0.75"/>
<circle cx="288.93" cy="184.89" r="0.85" fill="#4a5e9c" fill-opacity="0.75"/>
<circle cx="291.32" cy="186.44" r="0.85" fill="#4a5e9c" fill-opacity="0.75"/>
<circle cx="289.77" cy="187.49" r="0.85" fill="#4a5e9c" fill-opacity="0.75"/>
<circle cx="286.39" cy="184.13" r="0.85" fill="#4a5e9c" fill-opacity="0.75"/>
<circle cx="288.69" cy="185.40" r="0.85" fill="#4a5e9c" fill-opacity="0.75"/>
<circle cx="285.42" cy="179.90" r="0.85" fill="#4a5e9c" fill-opacity="0.75"/>
<circle cx="287.05" cy="186.18" r="0.85" fill="#4a5e9c" fill-opacity="0.75"/>
<circle cx="285.92" cy="185.32" r="0.85" fill="#4a5e9c" fill-opacity="0.75"/>
<circle cx="285.60" cy="185.74" r="0.85" fill="#4a5e9c" fill-opacity="0.75"/>
<circle cx="290.36" cy="181.81" r="0.85" fill="#4a5e9c" fill-opacity="0.75"/>
<circle cx="286.98" cy="185.16" r="0.85" fill="#4a5e9c" fill-opacity="0.75"/>
<circle cx="285.47" cy="185.12" r="0.85" fill="#4a5e9c" fill-opacity="0.75"/>
<circle cx="290.68" cy="186.78" r="0.85" fill="#4a5e9c" fill-opacity="0.75"/>
<circle cx="290.26" cy="185.55" r="0.85" fill="#4a5e9c" fill-opacity="0.75"/>
<circle cx="290.65" cy="185.46" r="0.85" fill="#4a5e9c" fill-opacity="0.75"/>
<line x1="285.40" y1="185.90" x2="291.40" y2="185.90" stroke="#1f3a7a" stroke-width="1.8"/>
<circle cx="305.76" cy="193.29" r="0.85" fill="#4a5e9c" fill-opacity="0.75"/>
<circle cx="299.13" cy="190.38" r="0.85" fill="#4a5e9c" fill-opacity="0.75"/>
<circle cx="297.68" cy="193.16" r="0.85" fill="#4a5e9c" fill-opacity="0.75"/>
<circle cx="304.60" cy="192.83" r="0.85" fill="#4a5e9c" fill-opacity="0.75"/>
<circle cx="294.86" cy="194.92" r="0.85" fill="#4a5e9c" fill-opacity="0.75"/>
<circle cx="306.89" cy="194.02" r="0.85" fill="#4a5e9c" fill-opacity="0.75"/>
<circle cx="298.47" cy="192.64" r="0.85" fill="#4a5e9c" fill-opacity="0.75"/>
<circle cx="294.80" cy="195.78" r="0.85" fill="#4a5e9c" fill-opacity="0.75"/>
<circle cx="302.22" cy="194.16" r="0.85" fill="#4a5e9c" fill-opacity="0.75"/>
<circle cx="300.51" cy="190.19" r="0.85" fill="#4a5e9c" fill-opacity="0.75"/>
<circle cx="301.77" cy="192.16" r="0.85" fill="#4a5e9c" fill-opacity="0.75"/>
<circle cx="301.94" cy="192.71" r="0.85" fill="#4a5e9c" fill-opacity="0.75"/>
<circle cx="296.55" cy="195.31" r="0.85" fill="#4a5e9c" fill-opacity="0.75"/>
<circle cx="293.86" cy="195.40" r="0.85" fill="#4a5e9c" fill-opacity="0.75"/>
<circle cx="303.17" cy="190.06" r="0.85" fill="#4a5e9c" fill-opacity="0.75"/>
<circle cx="309.33" cy="195.84" r="0.85" fill="#4a5e9c" fill-opacity="0.75"/>
<circle cx="301.66" cy="193.09" r="0.85" fill="#4a5e9c" fill-opacity="0.75"/>
<circle cx="305.78" cy="193.78" r="0.85" fill="#4a5e9c" fill-opacity="0.75"/>
<circle cx="307.99" cy="195.94" r="0.85" fill="#4a5e9c" fill-opacity="0.75"/>
<circle cx="307.16" cy="194.23" r="0.85" fill="#4a5e9c" fill-opacity="0.75"/>
<circle cx="304.59" cy="192.09" r="0.85" fill="#4a5e9c" fill-opacity="0.75"/>
<circle cx="307.23" cy="194.66" r="0.85" fill="#4a5e9c" fill-opacity="0.75"/>
<circle cx="298.95" cy="197.12" r="0.85" fill="#4a5e9c" fill-opacity="0.75"/>
<circle cx="306.00" cy="191.86" r="0.85" fill="#4a5e9c" fill-opacity="0.75"/>
<circle cx="306.30" cy="195.82" r="0.85" fill="#4a5e9c" fill-opacity="0.75"/>
<circle cx="296.11" cy="192.74" r="0.85" fill="#4a5e9c" fill-opacity="0.75"/>
<circle cx="308.06" cy="192.34" r="0.85" fill="#4a5e9c" fill-opacity="0.75"/>
<circle cx="292.64" cy="191.22" r="0.85" fill="#4a5e9c" fill-opacity="0.75"/>
<circle cx="298.34" cy="192.82" r="0.85" fill="#4a5e9c" fill-opacity="0.75"/>
<circle cx="299.59" cy="193.35" r="0.85" fill="#4a5e9c" fill-opacity="0.75"/>
<circle cx="309.37" cy="196.94" r="0.85" fill="#4a5e9c" fill-opacity="0.75"/>
<circle cx="300.50" cy="196.25" r="0.85" fill="#4a5e9c" fill-opacity="0.75"/>
<circle cx="294.50" cy="192.86" r="0.85" fill="#4a5e9c" fill-opacity="0.75"/>
<circle cx="293.66" cy="196.94" r="0.85" fill="#4a5e9c" fill-opacity="0.75"/>
<circle cx="297.73" cy="193.98" r="0.85" fill="#4a5e9c" fill-opacity="0.75"/>
<circle cx="308.94" cy="194.02" r="0.85" fill="#4a5e9c" fill-opacity="0.75"/>
<circle cx="307.08" cy="194.38" r="0.85" fill="#4a5e9c" fill-opacity="0.75"/>
<circle cx="292.91" cy="194.14" r="0.85" fill="#4a5e9c" fill-opacity="0.75"/>
<circle cx="294.56" cy="192.31" r="0.85" fill="#4a5e9c" fill-opacity="0.75"/>
<circle cx="304.16" cy="194.19" r="0.85" fill="#4a5e9c" fill-opacity="0.75"/>
<circle cx="294.45" cy="193.09" r="0.85" fill="#4a5e9c" fill-opacity="0.75"/>
<circle cx="300.95" cy="192.41" r="0.85" fill="#4a5e9c" fill-opacity="0.75"/>
<circle cx="299.09" cy="195.91" r="0.85" fill="#4a5e9c" fill-opacity="0.75"/>
<circle cx="303.40" cy="193.14" r="0.85" fill="#4a5e9c" fill-opacity="0.75"/>
<circle cx="307.85" cy="192.60" r="0.85" fill="#4a5e9c" fill-opacity="0.75"/>
<circle cx="295.64" cy="193.72" r="0.85" fill="#4a5e9c" fill-opacity="0.75"/>
<circle cx="302.58" cy="193.71" r="0.85" fill="#4a5e9c" fill-opacity="0.75"/>
<circle cx="304.39" cy="193.84" r="0.85" fill="#4a5e9c" fill-opacity="0.75"/>
<circle cx="293.24" cy="193.43" r="0.85" fill="#4a5e9c" fill-opacity="0.75"/>
<circle cx="308.95" cy="191.16" r="0.85" fill="#4a5e9c" fill-opacity="0.75"/>
<circle cx="296.04" cy="191.84" r="0.85" fill="#4a5e9c" fill-opacity="0.75"/>
<circle cx="309.58" cy="193.37" r="0.85" fill="#4a5e9c" fill-opacity="0.75"/>
<circle cx="306.88" cy="194.48" r="0.85" fill="#4a5e9c" fill-opacity="0.75"/>
<circle cx="307.12" cy="193.74" r="0.85" fill="#4a5e9c" fill-opacity="0.75"/>
<circle cx="296.04" cy="192.53" r="0.85" fill="#4a5e9c" fill-opacity="0.75"/>
<circle cx="296.83" cy="191.29" r="0.85" fill="#4a5e9c" fill-opacity="0.75"/>
<circle cx="306.00" cy="195.03" r="0.85" fill="#4a5e9c" fill-opacity="0.75"/>
<circle cx="292.83" cy="193.55" r="0.85" fill="#4a5e9c" fill-opacity="0.75"/>
<circle cx="297.07" cy="193.15" r="0.85" fill="#4a5e9c" fill-opacity="0.75"/>
<circle cx="305.22" cy="195.25" r="0.85" fill="#4a5e9c" fill-opacity="0.75"/>
<circle cx="299.53" cy="192.47" r="0.85" fill="#4a5e9c" fill-opacity="0.75"/>
<circle cx="305.49" cy="193.53" r="0.85" fill="#4a5e9c" fill-opacity="0.75"/>
<circle cx="306.25" cy="195.61" r="0.85" fill="#4a5e9c" fill-opacity="0.75"/>
<circle cx="300.92" cy="192.63" r="0.85" fill="#4a5e9c" fill-opacity="0.75"/>
<circle cx="304.31" cy="193.32" r="0.85" fill="#4a5e9c" fill-opacity="0.75"/>
<circle cx="303.78" cy="189.33" r="0.85" fill="#4a5e9c" fill-opacity="0.75"/>
<circle cx="303.03" cy="196.23" r="0.85" fill="#4a5e9c" fill-opacity="0.75"/>
<circle cx="301.93" cy="194.40" r="0.85" fill="#4a5e9c" fill-opacity="0.75"/>
<circle cx="299.89" cy="193.09" r="0.85" fill="#4a5e9c" fill-opacity="0.75"/>
<circle cx="300.43" cy="192.46" r="0.85" fill="#4a5e9c" fill-opacity="0.75"/>
<circle cx="300.38" cy="192.87" r="0.85" fill="#4a5e9c" fill-opacity="0.75"/>
<circle cx="306.62" cy="195.48" r="0.85" fill="#4a5e9c" fill-opacity="0.75"/>
<line x1="292.20" y1="194.50" x2="309.60" y2="194.50" stroke="#1f3a7a" stroke-width="1.8"/>
<circle cx="324.82" cy="193.56" r="0.85" fill="#4a5e9c" fill-opacity="0.75"/>
<circle cx="314.75" cy="194.33" r="0.85" fill="#4a5e9c" fill-opacity="0.75"/>
<circle cx="324.10" cy="196.31" r="0.85" fill="#4a5e9c" fill-opacity="0.75"/>
<circle cx="325.73" cy="195.07" r="0.85" fill="#4a5e9c" fill-opacity="0.75"/>
<circle cx="314.68" cy="195.50" r="0.85" fill="#4a5e9c" fill-opacity="0.75"/>
<circle cx="320.14" cy="191.41" r="0.85" fill="#4a5e9c" fill-opacity="0.75"/>
<circle cx="326.99" cy="196.21" r="0.85" fill="#4a5e9c" fill-opacity="0.75"/>
<circle cx="313.72" cy="194.91" r="0.85" fill="#4a5e9c" fill-opacity="0.75"/>
<circle cx="316.41" cy="193.50" r="0.85" fill="#4a5e9c" fill-opacity="0.75"/>
<circle cx="313.27" cy="193.13" r="0.85" fill="#4a5e9c" fill-opacity="0.75"/>
<circle cx="324.59" cy="192.00" r="0.85" fill="#4a5e9c" fill-opacity="0.75"/>
<circle cx="316.34" cy="191.21" r="0.85" fill="#4a5e9c" fill-opacity="0.75"/>
<circle cx="317.45" cy="191.93" r="0.85" fill="#4a5e9c" fill-opacity="0.75"/>
<circle cx="316.39" cy="195.15" r="0.85" fill="#4a5e9c" fill-opacity="0.75"/>
<circle cx="319.03" cy="193.19" r="0.85" fill="#4a5e9c" fill-opacity="0.75"/>
<circle cx="315.15" cy="195.99" r="0.85" fill="#4a5e9c" fill-opacity="0.75"/>
<circle cx="312.17" cy="192.29" r="0.85" fill="#4a5e9c" fill-opacity="0.75"/>
<circle cx="318.94" cy="192.69" r="0.85" fill="#4a5e9c" fill-opacity="0.75"/>
<circle cx="321.33" cy="195.17" r="0.85" fill="#4a5e9c" fill-opacity="0.75"/>
<circle cx="319.04" cy="194.26" r="0.85" fill="#4a5e9c" fill-opacity="0.75"/>
<circle cx="310.31" cy="192.81" r="0.85" fill="#4a5e9c" fill-opacity="0.75"/>
<circle cx="320.16" cy="193.25" r="0.85" fill="#4a5e9c" fill-opacity="0.75"/>
<circle cx="314.57" cy="195.66" r="0.85" fill="#4a5e9c" fill-opacity="0.75"/>
<circle cx="317.62" cy="192.17" r="0.85" fill="#4a5e9c" fill-opacity="0.75"/>
<circle cx="312.44" cy="193.62" r="0.85" fill="#4a5e9c" fill-opacity="0.75"/>
<circle cx="315.15" cy="194.55" r="0.85" fill="#4a5e9c" fill-opacity="0.75"/>
<circle cx="316.57" cy="191.58" r="0.85" fill="#4a5e9c" fill-opacity="0.75"/>
<circle cx="317.50" cy="189.93" r="0.85" fill="#4a5e9c" fill-opacity="0.75"/>
<circle cx="314.59" cy="194.11" r="0.85" fill="#4a5e9c" fill-opacity="0.75"/>
<circle cx="320.63" cy="196.81" r="0.85" fill="#4a5e9c" fill-opacity="0.75"/>
<circle cx="324.52" cy="193.42" r="0.85" fill="#4a5e9c" fill-opacity="0.75"/>
<circle cx="324.66" cy="193.64" r="0.85" fill="#4a5e9c" fill-opacity="0.75"/>
<circle cx="317.74" cy="192.68" r="0.85" fill="#4a5e9c" fill-opacity="0.75"/>
<circle cx="321.04" cy="194.86" r="0.85" fill="#4a5e9c" fill-opacity="0.75"/>
<circle cx="312.10" cy="190.67" r="0.85" fill="#4a5e9c" fill-opacity="0.75"/>
<circle cx="317.58" cy="192.54" r="0.85" fill="#4a5e9c" fill-opacity="0.75"/>
<circle cx="313.24" cy="195.29" r="0.85" fill="#4a5e9c" fill-opacity="0.75"/>
<circle cx="322.87" cy="191.61" r="0.85" fill="#4a5e9c" fill-opacity="0.75"/>
<circle cx="319.35" cy="194.90" r="0.85" fill="#4a5e9c" fill-opacity="0.75"/>
<circle cx="315.21" cy="193.18" r="0.85" fill="#4a5e9c" fill-opacity="0.75"/>
<circle cx="311.80" cy="195.20" r="0.85" fill="#4a5e9c" fill-opacity="0.75"/>
<circle cx="319.84" cy="195.65" r="0.85" fill="#4a5e9c" fill-opacity="0.75"/>
<circle cx="313.90" cy="194.07" r="0.85" fill="#4a5e9c" fill-opacity="0.75"/>
<circle cx="324.06" cy="194.32" r="0.85" fill="#4a5e9c" fill-opacity="0.75"/>
<circle cx="319.49" cy="195.19" r="0.85" fill="#4a5e9c" fill-opacity="0.75"/>
<circle cx="324.39" cy="194.88" r="0.85" fill="#4a5e9c" fill-opacity="0.75"/>
<circle cx="320.76" cy="195.08" r="0.85" fill="#4a5e9c" fill-opacity="0.75"/>
<circle cx="313.48" cy="194.86" r="0.85" fill="#4a5e9c" fill-opacity="0.75"/>
<circle cx="318.98" cy="193.79" r="0.85" fill="#4a5e9c" fill-opacity="0.75"/>
<circle cx="316.71" cy="193.25" r="0.85" fill="#4a5e9c" fill-opacity="0.75"/>
<circle cx="325.09" cy="192.82" r="0.85" fill="#4a5e9c" fill-opacity="0.75"/>
<circle cx="315.42" cy="193.91" r="0.85" fill="#4a5e9c" fill-opacity="0.75"/>
<circle cx="319.31" cy="195.37" r="0.85" fill="#4a5e9c" fill-opacity="0.75"/>
<circle cx="312.50" cy="194.48" r="0.85" fill="#4a5e9c" fill-opacity="0.75"/>
<circle cx="321.26" cy="196.00" r="0.85" fill="#4a5e9c" fill-opacity="0.75"/>
<circle cx="312.66" cy="195.14" r="0.85" fill="#4a5e9c" fill-opacity="0.75"/>
<circle cx="322.11" cy="193.32" r="0.85" fill="#4a5e9c" fill-opacity="0.75"/>
<circle cx="322.48" cy="194.46" r="0.85" fill="#4a5e9c" fill-opacity="0.75"/>
<circle cx="324.05" cy="191.81" r="0.85" fill="#4a5e9c" fill-opacity="0.75"/>
<circle cx="313.65" cy="195.48" r="0.85" fill="#4a5e9c" fill-opacity="0.75"/>
<circle cx="326.55" cy="192.72" r="0.85" fill="#4a5e9c" fill-opacity="0.75"/>
<circle cx="313.70" cy="192.92" r="0.85" fill="#4a5e9c" fill-opacity="0.75"/>
<circle cx="313.31" cy="194.39" r="0.85" fill="#4a5e9c" fill-opacity="0.75"/>
<circle cx="324.99" cy="193.30" r="0.85" fill="#4a5e9c" fill-opacity="0.75"/>
<circle cx="318.60" cy="196.29" r="0.85" fill="#4a5e9c" fill-opacity="0.75"/>
<circle cx="313.04" cy="194.11" r="0.85" fill="#4a5e9c" fill-opacity="0.75"/>
<circle cx="322.33" cy="193.88" r="0.85" fill="#4a5e9c" fill-opacity="0.75"/>
<circle cx="312.95" cy="191.20" r="0.85" fill="#4a5e9c" fill-opacity="0.75"/>
<circle cx="322.25" cy="192.23" r="0.85" fill="#4a5e9c" fill-opacity="0.75"/>
<line x1="310.40" y1="194.50" x2="326.90" y2="194.50" stroke="#1f3a7a" stroke-width="1.8"/>
<circle cx="329.05" cy="193.73" r="0.85" fill="#4a5e9c" fill-opacity="0.75"/>
<circle cx="331.14" cy="195.08" r="0.85" fill="#4a5e9c" fill-opacity="0.75"/>
<circle cx="334.31" cy="191.87" r="0.85" fill="#4a5e9c" fill-opacity="0.75"/>
<circle cx="342.20" cy="194.49" r="0.85" fill="#4a5e9c" fill-opacity="0.75"/>
<circle cx="339.58" cy="194.56" r="0.85" fill="#4a5e9c" fill-opacity="0.75"/>
<circle cx="340.20" cy="193.26" r="0.85" fill="#4a5e9c" fill-opacity="0.75"/>
<circle cx="331.68" cy="191.60" r="0.85" fill="#4a5e9c" fill-opacity="0.75"/>
<circle cx="330.99" cy="195.99" r="0.85" fill="#4a5e9c" fill-opacity="0.75"/>
<circle cx="342.99" cy="193.16" r="0.85" fill="#4a5e9c" fill-opacity="0.75"/>
<circle cx="330.06" cy="193.34" r="0.85" fill="#4a5e9c" fill-opacity="0.75"/>
<circle cx="330.73" cy="196.02" r="0.85" fill="#4a5e9c" fill-opacity="0.75"/>
<circle cx="330.51" cy="192.82" r="0.85" fill="#4a5e9c" fill-opacity="0.75"/>
<circle cx="333.16" cy="193.33" r="0.85" fill="#4a5e9c" fill-opacity="0.75"/>
<circle cx="335.88" cy="193.04" r="0.85" fill="#4a5e9c" fill-opacity="0.75"/>
<circle cx="335.34" cy="196.50" r="0.85" fill="#4a5e9c" fill-opacity="0.75"/>
<circle cx="342.02" cy="194.19" r="0.85" fill="#4a5e9c" fill-opacity="0.75"/>
<circle cx="332.02" cy="193.25" r="0.85" fill="#4a5e9c" fill-opacity="0.75"/>
<circle cx="330.78" cy="195.78" r="0.85" fill="#4a5e9c" fill-opacity="0.75"/>
<circle cx="339.73" cy="194.21" r="0.85" fill="#4a5e9c" fill-opacity="0.75"/>
<circle cx="332.34" cy="190.67" r="0.85" fill="#4a5e9c" fill-opacity="0.75"/>
<circle cx="329.19" cy="194.89" r="0.85" fill="#4a5e9c" fill-opacity="0.75"/>
<circle cx="332.34" cy="193.91" r="0.85" fill="#4a5e9c" fill-opacity="0.75"/>
<circle cx="333.13" cy="192.57" r="0.85" fill="#4a5e9c" fill-opacity="0.75"/>
<circle cx="329.33" cy="194.06" r="0.85" fill="#4a5e9c" fill-opacity="0.75"/>
<circle cx="340.38" cy="193.63" r="0.85" fill="#4a5e9c" fill-opacity="0.75"/>
<circle cx="329.38" cy="192.27" r="0.85" fill="#4a5e9c" fill-opacity="0.75"/>
<circle cx="333.81" cy="194.32" r="0.85" fill="#4a5e9c" fill-opacity="0.75"/>
<circle cx="334.13" cy="194.00" r="0.85" fill="#4a5e9c" fill-opacity="0.75"/>
<circle cx="334.16" cy="194.21" r="0.85" fill="#4a5e9c" fill-opacity="0.75"/>
<circle cx="339.20" cy="193.39" r="0.85" fill="#4a5e9c" fill-opacity="0.75"/>
<circle cx="338.07" cy="194.03" r="0.85" fill="#4a5e9c" fill-opacity="0.75"/>
<circle cx="340.82" cy="193.98" r="0.85" fill="#4a5e9c" fill-opacity="0.75"/>
<circle cx="331.73" cy="194.77" r="0.85" fill="#4a5e9c" fill-opacity="0.75"/>
<circle cx="331.87" cy="194.59" r="0.85" fill="#4a5e9c" fill-opacity="0.75"/>
<circle cx="332.72" cy="193.44" r="0.85" fill="#4a5e9c" fill-opacity="0.75"/>
<circle cx="331.65" cy="195.06" r="0.85" fill="#4a5e9c" fill-opacity="0.75"/>
<circle cx="343.21" cy="193.52" r="0.85" fill="#4a5e9c" fill-opacity="0.75"/>
<circle cx="339.08" cy="192.82" r="0.85" fill="#4a5e9c" fill-opacity="0.75"/>
<circle cx="329.27" cy="193.66" r="0.85" fill="#4a5e9c" fill-opacity="0.75"/>
<circle cx="340.11" cy="193.59" r="0.85" fill="#4a5e9c" fill-opacity="0.75"/>
<circle cx="328.98" cy="192.92" r="0.85" fill="#4a5e9c" fill-opacity="0.75"/>
<circle cx="340.89" cy="195.48" r="0.85" fill="#4a5e9c" fill-opacity="0.75"/>
<circle cx="329.33" cy="193.88" r="0.85" fill="#4a5e9c" fill-opacity="0.75"/>
<circle cx="329.51" cy="193.36" r="0.85" fill="#4a5e9c" fill-opacity="0.75"/>
<circle cx="339.84" cy="193.00" r="0.85" fill="#4a5e9c" fill-opacity="0.75"/>
<circle cx="340.54" cy="194.15" r="0.85" fill="#4a5e9c" fill-opacity="0.75"/>
<circle cx="329.15" cy="193.37" r="0.85" fill="#4a5e9c" fill-opacity="0.75"/>
<circle cx="339.81" cy="194.48" r="0.85" fill="#4a5e9c" fill-opacity="0.75"/>
<circle cx="339.59" cy="195.04" r="0.85" fill="#4a5e9c" fill-opacity="0.75"/>
<circle cx="330.49" cy="192.47" r="0.85" fill="#4a5e9c" fill-opacity="0.75"/>
<circle cx="328.11" cy="197.06" r="0.85" fill="#4a5e9c" fill-opacity="0.75"/>
<circle cx="329.94" cy="193.00" r="0.85" fill="#4a5e9c" fill-opacity="0.75"/>
<circle cx="339.77" cy="193.84" r="0.85" fill="#4a5e9c" fill-opacity="0.75"/>
<circle cx="342.21" cy="192.98" r="0.85" fill="#4a5e9c" fill-opacity="0.75"/>
<circle cx="327.64" cy="191.73" r="0.85" fill="#4a5e9c" fill-opacity="0.75"/>
<circle cx="328.20" cy="192.57" r="0.85" fill="#4a5e9c" fill-opacity="0.75"/>
<circle cx="337.14" cy="193.69" r="0.85" fill="#4a5e9c" fill-opacity="0.75"/>
<circle cx="341.29" cy="195.26" r="0.85" fill="#4a5e9c" fill-opacity="0.75"/>
<circle cx="337.88" cy="194.34" r="0.85" fill="#4a5e9c" fill-opacity="0.75"/>
<circle cx="336.81" cy="194.47" r="0.85" fill="#4a5e9c" fill-opacity="0.75"/>
<circle cx="335.44" cy="192.25" r="0.85" fill="#4a5e9c" fill-opacity="0.75"/>
<circle cx="338.56" cy="193.74" r="0.85" fill="#4a5e9c" fill-opacity="0.75"/>
<circle cx="340.06" cy="194.37" r="0.85" fill="#4a5e9c" fill-opacity="0.75"/>
<circle cx="330.20" cy="192.28" r="0.85" fill="#4a5e9c" fill-opacity="0.75"/>
<circle cx="335.70" cy="195.31" r="0.85" fill="#4a5e9c" fill-opacity="0.75"/>
<line x1="327.70" y1="194.50" x2="343.30" y2="194.50" stroke="#1f3a7a" stroke-width="1.8"/>
<circle cx="345.01" cy="199.75" r="0.85" fill="#4a5e9c" fill-opacity="0.75"/>
<circle cx="345.33" cy="199.26" r="0.85" fill="#4a5e9c" fill-opacity="0.75"/>
<circle cx="345.28" cy="201.33" r="0.85" fill="#4a5e9c" fill-opacity="0.75"/>
<circle cx="344.95" cy="199.99" r="0.85" fill="#4a5e9c" fill-opacity="0.75"/>
<circle cx="344.98" cy="203.27" r="0.85" fill="#4a5e9c" fill-opacity="0.75"/>
<circle cx="345.13" cy="199.67" r="0.85" fill="#4a5e9c" fill-opacity="0.75"/>
<circle cx="345.07" cy="200.96" r="0.85" fill="#4a5e9c" fill-opacity="0.75"/>
<circle cx="345.61" cy="199.60" r="0.85" fill="#4a5e9c" fill-opacity="0.75"/>
<circle cx="345.14" cy="201.28" r="0.85" fill="#4a5e9c" fill-opacity="0.75"/>
<line x1="344.10" y1="201.38" x2="345.60" y2="201.38" stroke="#1f3a7a" stroke-width="1.8"/>
<circle cx="352.70" cy="191.76" r="0.85" fill="#4a5e9c" fill-opacity="0.75"/>
<circle cx="350.81" cy="190.97" r="0.85" fill="#4a5e9c" fill-opacity="0.75"/>
<circle cx="353.43" cy="191.66" r="0.85" fill="#4a5e9c" fill-opacity="0.75"/>
<circle cx="350.79" cy="195.05" r="0.85" fill="#4a5e9c" fill-opacity="0.75"/>
<circle cx="352.21" cy="195.39" r="0.85" fill="#4a5e9c" fill-opacity="0.75"/>
<circle cx="346.79" cy="191.49" r="0.85" fill="#4a5e9c" fill-opacity="0.75"/>
<circle cx="359.64" cy="197.92" r="0.85" fill="#4a5e9c" fill-opacity="0.75"/>
<circle cx="354.37" cy="193.95" r="0.85" fill="#4a5e9c" fill-opacity="0.75"/>
<circle cx="351.93" cy="194.95" r="0.85" fill="#4a5e9c" fill-opacity="0.75"/>
<circle cx="352.15" cy="193.47" r="0.85" fill="#4a5e9c" fill-opacity="0.75"/>
<circle cx="351.57" cy="194.64" r="0.85" fill="#4a5e9c" fill-opacity="0.75"/>
<circle cx="359.53" cy="195.15" r="0.85" fill="#4a5e9c" fill-opacity="0.75"/>
<circle cx="359.44" cy="193.58" r="0.85" fill="#4a5e9c" fill-opacity="0.75"/>
<circle cx="355.40" cy="196.35" r="0.85" fill="#4a5e9c" fill-opacity="0.75"/>
<circle cx="346.44" cy="190.81" r="0.85" fill="#4a5e9c" fill-opacity="0.75"/>
<circle cx="347.86" cy="193.95" r="0.85" fill="#4a5e9c" fill-opacity="0.75"/>
<circle cx="357.35" cy="195.84" r="0.85" fill="#4a5e9c" fill-opacity="0.75"/>
<circle cx="361.07" cy="193.66" r="0.85" fill="#4a5e9c" fill-opacity="0.75"/>
<circle cx="348.33" cy="191.40" r="0.85" fill="#4a5e9c" fill-opacity="0.75"/>
<circle cx="350.10" cy="192.34" r="0.85" fill="#4a5e9c" fill-opacity="0.75"/>
<circle cx="350.30" cy="194.81" r="0.85" fill="#4a5e9c" fill-opacity="0.75"/>
<circle cx="350.88" cy="193.32" r="0.85" fill="#4a5e9c" fill-opacity="0.75"/>
<circle cx="358.43" cy="191.69" r="0.85" fill="#4a5e9c" fill-opacity="0.75"/>
<circle cx="356.12" cy="191.60" r="0.85" fill="#4a5e9c" fill-opacity="0.75"/>
<circle cx="359.43" cy="194.48" r="0.85" fill="#4a5e9c" fill-opacity="0.75"/>
<circle cx="350.97" cy="193.41" r="0.85" fill="#4a5e9c" fill-opacity="0.75"/>
<circle cx="348.58" cy="192.60" r="0.85" fill="#4a5e9c" fill-opacity="0.75"/>
<circle cx="353.54" cy="192.60" r="0.85" fill="#4a5e9c" fill-opacity="0.75"/>
<circle cx="349.11" cy="193.44" r="0.85" fill="#4a5e9c" fill-opacity="0.75"/>
<circle cx="353.92" cy="194.83" r="0.85" fill="#4a5e9c" fill-opacity="0.75"/>
<circle cx="361.03" cy="193.89" r="0.85" fill="#4a5e9c" fill-opacity="0.75"/>
<circle cx="349.93" cy="193.95" r="0.85" fill="#4a5e9c" fill-opacity="0.75"/>
<circle cx="352.41" cy="193.56" r="0.85" fill="#4a5e9c" fill-opacity="0.75"/>
<circle cx="360.55" cy="192.78" r="0.85" fill="#4a5e9c" fill-opacity="0.75"/>
<circle cx="351.70" cy="192.56" r="0.85" fill="#4a5e9c" fill-opacity="0.75"/>
<circle cx="351.16" cy="189.98" r="0.85" fill="#4a5e9c" fill-opacity="0.75"/>
<circle cx="354.29" cy="194.69" r="0.85" fill="#4a5e9c" fill-opacity="0.75"/>
<circle cx="347.22" cy="193.28" r="0.85" fill="#4a5e9c" fill-opacity="0.75"/>
<circle cx="354.11" cy="192.53" r="0.85" fill="#4a5e9c" fill-opacity="0.75"/>
<circle cx="360.87" cy="190.93" r="0.85" fill="#4a5e9c" fill-opacity="0.75"/>
<circle cx="351.70" cy="193.48" r="0.85" fill="#4a5e9c" fill-opacity="0.75"/>
<circle cx="353.42" cy="192.78" r="0.85" fill="#4a5e9c" fill-opacity="0.75"/>
<circle cx="360.22" cy="192.04" r="0.85" fill="#4a5e9c" fill-opacity="0.75"/>
<circle cx="351.09" cy="195.20" r="0.85" fill="#4a5e9c" fill-opacity="0.75"/>
<circle cx="353.39" cy="196.50" r="0.85" fill="#4a5e9c" fill-opacity="0.75"/>
<circle cx="353.82" cy="196.12" r="0.85" fill="#4a5e9c" fill-opacity="0.75"/>
<circle cx="348.70" cy="194.25" r="0.85" fill="#4a5e9c" fill-opacity="0.75"/>
<circle cx="354.34" cy="193.62" r="0.85" fill="#4a5e9c" fill-opacity="0.75"/>
<circle cx="359.02" cy="193.39" r="0.85" fill="#4a5e9c" fill-opacity="0.75"/>
<circle cx="357.06" cy="194.22" r="0.85" fill="#4a5e9c" fill-opacity="0.75"/>
<circle cx="358.46" cy="194.35" r="0.85" fill="#4a5e9c" fill-opacity="0.75"/>
<circle cx="346.48" cy="193.29" r="0.85" fill="#4a5e9c" fill-opacity="0.75"/>
<circle cx="356.77" cy="193.20" r="0.85" fill="#4a5e9c" fill-opacity="0.75"/>
<circle cx="361.01" cy="195.81" r="0.85" fill="#4a5e9c" fill-opacity="0.75"/>
<circle cx="359.43" cy="195.58" r="0.85" fill="#4a5e9c" fill-opacity="0.75"/>
<circle cx="358.82" cy="195.06" r="0.85" fill="#4a5e9c" fill-opacity="0.75"/>
<circle cx="360.25" cy="194.37" r="0.85" fill="#4a5e9c" fill-opacity="0.75"/>
<circle cx="357.44" cy="194.71" r="0.85" fill="#4a5e9c" fill-opacity="0.75"/>
<circle cx="352.36" cy="195.34" r="0.85" fill="#4a5e9c" fill-opacity="0.75"/>
<circle cx="352.30" cy="191.68" r="0.85" fill="#4a5e9c" fill-opacity="0.75"/>
<circle cx="351.35" cy="195.47" r="0.85" fill="#4a5e9c" fill-opacity="0.75"/>
<circle cx="357.33" cy="192.12" r="0.85" fill="#4a5e9c" fill-opacity="0.75"/>
<line x1="346.40" y1="194.50" x2="361.20" y2="194.50" stroke="#1f3a7a" stroke-width="1.8"/>
<circle cx="375.53" cy="201.85" r="0.85" fill="#4a5e9c" fill-opacity="0.75"/>
<circle cx="375.49" cy="202.94" r="0.85" fill="#4a5e9c" fill-opacity="0.75"/>
<circle cx="361.95" cy="201.22" r="0.85" fill="#4a5e9c" fill-opacity="0.75"/>
<circle cx="365.04" cy="201.64" r="0.85" fill="#4a5e9c" fill-opacity="0.75"/>
<circle cx="373.44" cy="200.98" r="0.85" fill="#4a5e9c" fill-opacity="0.75"/>
<circle cx="365.17" cy="199.77" r="0.85" fill="#4a5e9c" fill-opacity="0.75"/>
<circle cx="365.41" cy="200.53" r="0.85" fill="#4a5e9c" fill-opacity="0.75"/>
<circle cx="376.16" cy="203.22" r="0.85" fill="#4a5e9c" fill-opacity="0.75"/>
<circle cx="371.42" cy="201.53" r="0.85" fill="#4a5e9c" fill-opacity="0.75"/>
<circle cx="367.55" cy="203.70" r="0.85" fill="#4a5e9c" fill-opacity="0.75"/>
<circle cx="370.79" cy="200.83" r="0.85" fill="#4a5e9c" fill-opacity="0.75"/>
<circle cx="370.83" cy="202.99" r="0.85" fill="#4a5e9c" fill-opacity="0.75"/>
<circle cx="370.26" cy="201.43" r="0.85" fill="#4a5e9c" fill-opacity="0.75"/>
<circle cx="363.06" cy="203.62" r="0.85" fill="#4a5e9c" fill-opacity="0.75"/>
<circle cx="375.92" cy="202.30" r="0.85" fill="#4a5e9c" fill-opacity="0.75"/>
<circle cx="368.63" cy="202.19" r="0.85" fill="#4a5e9c" fill-opacity="0.75"/>
<circle cx="376.27" cy="200.66" r="0.85" fill="#4a5e9c" fill-opacity="0.75"/>
<circle cx="370.66" cy="203.65" r="0.85" fill="#4a5e9c" fill-opacity="0.75"/>
<circle cx="369.01" cy="202.40" r="0.85" fill="#4a5e9c" fill-opacity="0.75"/>
<circle cx="375.66" cy="203.63" r="0.85" fill="#4a5e9c" fill-opacity="0.75"/>
<circle cx="370.08" cy="201.72" r="0.85" fill="#4a5e9c" fill-opacity="0.75"/>
<circle cx="366.04" cy="203.75" r="0.85" fill="#4a5e9c" fill-opacity="0.75"/>
<circle cx="365.18" cy="201.79" r="0.85" fill="#4a5e9c" fill-opacity="0.75"/>
<circle cx="373.82" cy="201.93" r="0.85" fill="#4a5e9c" fill-opacity="0.75"/>
<circle cx="365.92" cy="203.32" r="0.85" fill="#4a5e9c" fill-opacity="0.75"/>
<circle cx="363.55" cy="199.58" r="0.85" fill="#4a5e9c" fill-opacity="0.75"/>
<circle cx="371.70" cy="204.13" r="0.85" fill="#4a5e9c" fill-opacity="0.75"/>
<circle cx="362.70" cy="200.96" r="0.85" fill="#4a5e9c" fill-opacity="0.75"/>
<circle cx="365.60" cy="203.23" r="0.85" fill="#4a5e9c" fill-opacity="0.75"/>
<circle cx="370.36" cy="198.95" r="0.85" fill="#4a5e9c" fill-opacity="0.75"/>
<circle cx="370.98" cy="203.50" r="0.85" fill="#4a5e9c" fill-opacity="0.75"/>
<circle cx="370.95" cy="202.67" r="0.85" fill="#4a5e9c" fill-opacity="0.75"/>
<circle cx="363.02" cy="202.58" r="0.85" fill="#4a5e9c" fill-opacity="0.75"/>
<circle cx="362.14" cy="202.46" r="0.85" fill="#4a5e9c" fill-opacity="0.75"/>
<circle cx="373.27" cy="199.81" r="0.85" fill="#4a5e9c" fill-opacity="0.75"/>
<circle cx="373.01" cy="202.64" r="0.85" fill="#4a5e9c" fill-opacity="0.75"/>
<circle cx="362.24" cy="201.14" r="0.85" fill="#4a5e9c" fill-opacity="0.75"/>
<circle cx="370.91" cy="203.28" r="0.85" fill="#4a5e9c" fill-opacity="0.75"/>
<circle cx="374.18" cy="202.19" r="0.85" fill="#4a5e9c" fill-opacity="0.75"/>
<circle cx="372.89" cy="200.46" r="0.85" fill="#4a5e9c" fill-opacity="0.75"/>
<circle cx="370.21" cy="201.68" r="0.85" fill="#4a5e9c" fill-opacity="0.75"/>
<circle cx="367.11" cy="203.75" r="0.85" fill="#4a5e9c" fill-opacity="0.75"/>
<circle cx="368.09" cy="199.08" r="0.85" fill="#4a5e9c" fill-opacity="0.75"/>
<circle cx="366.94" cy="199.89" r="0.85" fill="#4a5e9c" fill-opacity="0.75"/>
<circle cx="367.25" cy="203.19" r="0.85" fill="#4a5e9c" fill-opacity="0.75"/>
<circle cx="366.86" cy="201.07" r="0.85" fill="#4a5e9c" fill-opacity="0.75"/>
<circle cx="375.09" cy="204.57" r="0.85" fill="#4a5e9c" fill-opacity="0.75"/>
<circle cx="365.59" cy="201.69" r="0.85" fill="#4a5e9c" fill-opacity="0.75"/>
<circle cx="367.10" cy="200.37" r="0.85" fill="#4a5e9c" fill-opacity="0.75"/>
<circle cx="365.99" cy="199.52" r="0.85" fill="#4a5e9c" fill-opacity="0.75"/>
<circle cx="369.53" cy="202.39" r="0.85" fill="#4a5e9c" fill-opacity="0.75"/>
<circle cx="375.08" cy="200.00" r="0.85" fill="#4a5e9c" fill-opacity="0.75"/>
<circle cx="363.93" cy="203.68" r="0.85" fill="#4a5e9c" fill-opacity="0.75"/>
<circle cx="362.31" cy="203.42" r="0.85" fill="#4a5e9c" fill-opacity="0.75"/>
<circle cx="376.21" cy="204.01" r="0.85" fill="#4a5e9c" fill-opacity="0.75"/>
<circle cx="370.32" cy="203.23" r="0.85" fill="#4a5e9c" fill-opacity="0.75"/>
<circle cx="374.52" cy="201.19" r="0.85" fill="#4a5e9c" fill-opacity="0.75"/>
<circle cx="373.20" cy="203.48" r="0.85" fill="#4a5e9c" fill-opacity="0.75"/>
<circle cx="362.01" cy="202.41" r="0.85" fill="#4a5e9c" fill-opacity="0.75"/>
<circle cx="363.34" cy="203.24" r="0.85" fill="#4a5e9c" fill-opacity="0.75"/>
<circle cx="375.79" cy="200.50" r="0.85" fill="#4a5e9c" fill-opacity="0.75"/>
<line x1="362.00" y1="202.67" x2="376.50" y2="202.67" stroke="#1f3a7a" stroke-width="1.8"/>
<circle cx="386.45" cy="194.62" r="0.85" fill="#4a5e9c" fill-opacity="0.75"/>
<circle cx="387.48" cy="191.74" r="0.85" fill="#4a5e9c" fill-opacity="0.75"/>
<circle cx="379.48" cy="192.88" r="0.85" fill="#4a5e9c" fill-opacity="0.75"/>
<circle cx="388.84" cy="196.28" r="0.85" fill="#4a5e9c" fill-opacity="0.75"/>
<circle cx="389.09" cy="193.75" r="0.85" fill="#4a5e9c" fill-opacity="0.75"/>
<circle cx="378.80" cy="192.43" r="0.85" fill="#4a5e9c" fill-opacity="0.75"/>
<circle cx="388.00" cy="193.92" r="0.85" fill="#4a5e9c" fill-opacity="0.75"/>
<circle cx="377.27" cy="191.63" r="0.85" fill="#4a5e9c" fill-opacity="0.75"/>
<circle cx="387.17" cy="192.90" r="0.85" fill="#4a5e9c" fill-opacity="0.75"/>
<circle cx="380.48" cy="190.95" r="0.85" fill="#4a5e9c" fill-opacity="0.75"/>
<circle cx="383.50" cy="190.99" r="0.85" fill="#4a5e9c" fill-opacity="0.75"/>
<circle cx="387.67" cy="189.65" r="0.85" fill="#4a5e9c" fill-opacity="0.75"/>
<circle cx="382.79" cy="189.82" r="0.85" fill="#4a5e9c" fill-opacity="0.75"/>
<circle cx="390.11" cy="194.24" r="0.85" fill="#4a5e9c" fill-opacity="0.75"/>
<circle cx="389.11" cy="194.59" r="0.85" fill="#4a5e9c" fill-opacity="0.75"/>
<circle cx="385.51" cy="194.38" r="0.85" fill="#4a5e9c" fill-opacity="0.75"/>
<circle cx="384.08" cy="195.32" r="0.85" fill="#4a5e9c" fill-opacity="0.75"/>
<circle cx="378.17" cy="191.12" r="0.85" fill="#4a5e9c" fill-opacity="0.75"/>
<circle cx="384.78" cy="193.39" r="0.85" fill="#4a5e9c" fill-opacity="0.75"/>
<circle cx="387.89" cy="191.62" r="0.85" fill="#4a5e9c" fill-opacity="0.75"/>
<circle cx="385.50" cy="193.35" r="0.85" fill="#4a5e9c" fill-opacity="0.75"/>
<circle cx="386.25" cy="192.95" r="0.85" fill="#4a5e9c" fill-opacity="0.75"/>
<circle cx="384.04" cy="193.52" r="0.85" fill="#4a5e9c" fill-opacity="0.75"/>
<circle cx="380.02" cy="193.26" r="0.85" fill="#4a5e9c" fill-opacity="0.75"/>
<circle cx="390.47" cy="191.54" r="0.85" fill="#4a5e9c" fill-opacity="0.75"/>
<circle cx="378.37" cy="191.66" r="0.85" fill="#4a5e9c" fill-opacity="0.75"/>
<circle cx="380.43" cy="193.62" r="0.85" fill="#4a5e9c" fill-opacity="0.75"/>
<circle cx="390.48" cy="194.91" r="0.85" fill="#4a5e9c" fill-opacity="0.75"/>
<circle cx="381.19" cy="194.54" r="0.85" fill="#4a5e9c" fill-opacity="0.75"/>
<circle cx="384.98" cy="193.40" r="0.85" fill="#4a5e9c" fill-opacity="0.75"/>
<circle cx="377.79" cy="194.74" r="0.85" fill="#4a5e9c" fill-opacity="0.75"/>
<circle cx="387.56" cy="194.23" r="0.85" fill="#4a5e9c" fill-opacity="0.75"/>
<circle cx="389.67" cy="195.34" r="0.85" fill="#4a5e9c" fill-opacity="0.75"/>
<circle cx="380.05" cy="194.04" r="0.85" fill="#4a5e9c" fill-opacity="0.75"/>
<circle cx="377.49" cy="191.40" r="0.85" fill="#4a5e9c" fill-opacity="0.75"/>
<circle cx="387.04" cy="193.51" r="0.85" fill="#4a5e9c" fill-opacity="0.75"/>
<circle cx="388.02" cy="193.19" r="0.85" fill="#4a5e9c" fill-opacity="0.75"/>
<circle cx="385.55" cy="193.59" r="0.85" fill="#4a5e9c" fill-opacity="0.75"/>
<circle cx="387.83" cy="195.01" r="0.85" fill="#4a5e9c" fill-opacity="0.75"/>
<circle cx="377.58" cy="193.24" r="0.85" fill="#4a5e9c" fill-opacity="0.75"/>
<circle cx="389.98" cy="194.50" r="0.85" fill="#4a5e9c" fill-opacity="0.75"/>
<circle cx="383.59" cy="192.10" r="0.85" fill="#4a5e9c" fill-opacity="0.75"/>
<circle cx="381.60" cy="192.15" r="0.85" fill="#4a5e9c" fill-opacity="0.75"/>
<circle cx="377.38" cy="192.57" r="0.85" fill="#4a5e9c" fill-opacity="0.75"/>
<circle cx="382.02" cy="193.58" r="0.85" fill="#4a5e9c" fill-opacity="0.75"/>
<circle cx="377.22" cy="194.05" r="0.85" fill="#4a5e9c" fill-opacity="0.75"/>
<circle cx="378.27" cy="192.80" r="0.85" fill="#4a5e9c" fill-opacity="0.75"/>
<circle cx="377.68" cy="194.84" r="0.85" fill="#4a5e9c" fill-opacity="0.75"/>
<circle cx="378.07" cy="192.63" r="0.85" fill="#4a5e9c" fill-opacity="0.75"/>
<circle cx="383.38" cy="194.02" r="0.85" fill="#4a5e9c" fill-opacity="0.75"/>
<circle cx="380.51" cy="194.38" r="0.85" fill="#4a5e9c" fill-opacity="0.75"/>
<circle cx="389.77" cy="191.32" r="0.85" fill="#4a5e9c" fill-opacity="0.75"/>
<circle cx="385.95" cy="193.59" r="0.85" fill="#4a5e9c" fill-opacity="0.75"/>
<circle cx="387.39" cy="195.69" r="0.85" fill="#4a5e9c" fill-opacity="0.75"/>
<circle cx="378.80" cy="192.34" r="0.85" fill="#4a5e9c" fill-opacity="0.75"/>
<circle cx="385.44" cy="193.22" r="0.85" fill="#4a5e9c" fill-opacity="0.75"/>
<line x1="377.30" y1="194.50" x2="390.60" y2="194.50" stroke="#1f3a7a" stroke-width="1.8"/>
<circle cx="392.55" cy="201.55" r="0.85" fill="#4a5e9c" fill-opacity="0.75"/>
<circle cx="392.80" cy="202.62" r="0.85" fill="#4a5e9c" fill-opacity="0.75"/>
<circle cx="394.12" cy="201.93" r="0.85" fill="#4a5e9c" fill-opacity="0.75"/>
<circle cx="394.19" cy="202.03" r="0.85" fill="#4a5e9c" fill-opacity="0.75"/>
<circle cx="391.60" cy="201.35" r="0.85" fill="#4a5e9c" fill-opacity="0.75"/>
<circle cx="391.64" cy="201.86" r="0.85" fill="#4a5e9c" fill-opacity="0.75"/>
<circle cx="391.63" cy="200.47" r="0.85" fill="#4a5e9c" fill-opacity="0.75"/>
<circle cx="394.48" cy="201.14" r="0.85" fill="#4a5e9c" fill-opacity="0.75"/>
<circle cx="395.35" cy="200.82" r="0.85" fill="#4a5e9c" fill-opacity="0.75"/>
<circle cx="395.26" cy="202.03" r="0.85" fill="#4a5e9c" fill-opacity="0.75"/>
<circle cx="392.06" cy="203.37" r="0.85" fill="#4a5e9c" fill-opacity="0.75"/>
<circle cx="395.16" cy="203.00" r="0.85" fill="#4a5e9c" fill-opacity="0.75"/>
<circle cx="392.21" cy="200.96" r="0.85" fill="#4a5e9c" fill-opacity="0.75"/>
<circle cx="394.75" cy="202.77" r="0.85" fill="#4a5e9c" fill-opacity="0.75"/>
<circle cx="392.78" cy="202.62" r="0.85" fill="#4a5e9c" fill-opacity="0.75"/>
<circle cx="395.02" cy="202.58" r="0.85" fill="#4a5e9c" fill-opacity="0.75"/>
<circle cx="394.21" cy="202.32" r="0.85" fill="#4a5e9c" fill-opacity="0.75"/>
<circle cx="392.46" cy="203.50" r="0.85" fill="#4a5e9c" fill-opacity="0.75"/>
<circle cx="391.55" cy="202.49" r="0.85" fill="#4a5e9c" fill-opacity="0.75"/>
<circle cx="391.69" cy="201.67" r="0.85" fill="#4a5e9c" fill-opacity="0.75"/>
<line x1="391.40" y1="202.67" x2="395.60" y2="202.67" stroke="#1f3a7a" stroke-width="1.8"/>
<circle cx="398.02" cy="193.63" r="0.85" fill="#4a5e9c" fill-opacity="0.75"/>
<circle cx="402.29" cy="192.75" r="0.85" fill="#4a5e9c" fill-opacity="0.75"/>
<circle cx="398.66" cy="195.38" r="0.85" fill="#4a5e9c" fill-opacity="0.75"/>
<circle cx="398.67" cy="195.01" r="0.85" fill="#4a5e9c" fill-opacity="0.75"/>
<circle cx="402.12" cy="195.81" r="0.85" fill="#4a5e9c" fill-opacity="0.75"/>
<circle cx="401.17" cy="194.24" r="0.85" fill="#4a5e9c" fill-opacity="0.75"/>
<circle cx="401.97" cy="193.75" r="0.85" fill="#4a5e9c" fill-opacity="0.75"/>
<circle cx="401.76" cy="194.08" r="0.85" fill="#4a5e9c" fill-opacity="0.75"/>
<circle cx="396.35" cy="197.07" r="0.85" fill="#4a5e9c" fill-opacity="0.75"/>
<circle cx="398.72" cy="193.07" r="0.85" fill="#4a5e9c" fill-opacity="0.75"/>
<circle cx="399.42" cy="194.79" r="0.85" fill="#4a5e9c" fill-opacity="0.75"/>
<circle cx="399.85" cy="192.37" r="0.85" fill="#4a5e9c" fill-opacity="0.75"/>
<circle cx="402.21" cy="193.98" r="0.85" fill="#4a5e9c" fill-opacity="0.75"/>
<circle cx="399.03" cy="194.81" r="0.85" fill="#4a5e9c" fill-opacity="0.75"/>
<circle cx="399.14" cy="194.26" r="0.85" fill="#4a5e9c" fill-opacity="0.75"/>
<circle cx="398.47" cy="195.58" r="0.85" fill="#4a5e9c" fill-opacity="0.75"/>
<circle cx="397.68" cy="194.53" r="0.85" fill="#4a5e9c" fill-opacity="0.75"/>
<circle cx="402.70" cy="195.21" r="0.85" fill="#4a5e9c" fill-opacity="0.75"/>
<circle cx="399.06" cy="193.27" r="0.85" fill="#4a5e9c" fill-opacity="0.75"/>
<circle cx="399.64" cy="192.59" r="0.85" fill="#4a5e9c" fill-opacity="0.75"/>
<circle cx="399.36" cy="193.81" r="0.85" fill="#4a5e9c" fill-opacity="0.75"/>
<circle cx="402.36" cy="194.07" r="0.85" fill="#4a5e9c" fill-opacity="0.75"/>
<circle cx="400.34" cy="193.12" r="0.85" fill="#4a5e9c" fill-opacity="0.75"/>
<circle cx="398.10" cy="194.04" r="0.85" fill="#4a5e9c" fill-opacity="0.75"/>
<circle cx="399.34" cy="193.35" r="0.85" fill="#4a5e9c" fill-opacity="0.75"/>
<circle cx="399.56" cy="191.99" r="0.85" fill="#4a5e9c" fill-opacity="0.75"/>
<circle cx="400.42" cy="191.93" r="0.85" fill="#4a5e9c" fill-opacity="0.75"/>
<circle cx="396.51" cy="192.36" r="0.85" fill="#4a5e9c" fill-opacity="0.75"/>
<line x1="396.40" y1="194.50" x2="402.60" y2="194.50" stroke="#1f3a7a" stroke-width="1.8"/>
<circle cx="404.86" cy="196.40" r="0.85" fill="#4a5e9c" fill-opacity="0.75"/>
<circle cx="407.64" cy="194.94" r="0.85" fill="#4a5e9c" fill-opacity="0.75"/>
<circle cx="412.90" cy="197.15" r="0.85" fill="#4a5e9c" fill-opacity="0.75"/>
<circle cx="403.48" cy="196.63" r="0.85" fill="#4a5e9c" fill-opacity="0.75"/>
<circle cx="411.41" cy="195.79" r="0.85" fill="#4a5e9c" fill-opacity="0.75"/>
<circle cx="414.23" cy="198.99" r="0.85" fill="#4a5e9c" fill-opacity="0.75"/>
<circle cx="406.71" cy="197.86" r="0.85" fill="#4a5e9c" fill-opacity="0.75"/>
<circle cx="403.58" cy="199.00" r="0.85" fill="#4a5e9c" fill-opacity="0.75"/>
<circle cx="407.33" cy="197.72" r="0.85" fill="#4a5e9c" fill-opacity="0.75"/>
<circle cx="412.86" cy="198.25" r="0.85" fill="#4a5e9c" fill-opacity="0.75"/>
<circle cx="410.83" cy="198.86" r="0.85" fill="#4a5e9c" fill-opacity="0.75"/>
<circle cx="408.57" cy="200.95" r="0.85" fill="#4a5e9c" fill-opacity="0.75"/>
<circle cx="412.08" cy="197.74" r="0.85" fill="#4a5e9c" fill-opacity="0.75"/>
<circle cx="403.66" cy="201.70" r="0.85" fill="#4a5e9c" fill-opacity="0.75"/>
<circle cx="407.93" cy="197.77" r="0.85" fill="#4a5e9c" fill-opacity="0.75"/>
<circle cx="405.97" cy="196.57" r="0.85" fill="#4a5e9c" fill-opacity="0.75"/>
<circle cx="405.03" cy="198.87" r="0.85" fill="#4a5e9c" fill-opacity="0.75"/>
<circle cx="409.44" cy="196.56" r="0.85" fill="#4a5e9c" fill-opacity="0.75"/>
<circle cx="406.22" cy="197.24" r="0.85" fill="#4a5e9c" fill-opacity="0.75"/>
<circle cx="413.50" cy="197.80" r="0.85" fill="#4a5e9c" fill-opacity="0.75"/>
<circle cx="404.81" cy="197.26" r="0.85" fill="#4a5e9c" fill-opacity="0.75"/>
<circle cx="408.04" cy="200.16" r="0.85" fill="#4a5e9c" fill-opacity="0.75"/>
<circle cx="412.48" cy="198.45" r="0.85" fill="#4a5e9c" fill-opacity="0.75"/>
<circle cx="405.80" cy="197.24" r="0.85" fill="#4a5e9c" fill-opacity="0.75"/>
<circle cx="411.64" cy="200.21" r="0.85" fill="#4a5e9c" fill-opacity="0.75"/>
<circle cx="408.18" cy="197.79" r="0.85" fill="#4a5e9c" fill-opacity="0.75"/>
<circle cx="414.14" cy="198.61" r="0.85" fill="#4a5e9c" fill-opacity="0.75"/>
<circle cx="405.26" cy="197.92" r="0.85" fill="#4a5e9c" fill-opacity="0.75"/>
<circle cx="404.12" cy="197.41" r="0.85" fill="#4a5e9c" fill-opacity="0.75"/>
<circle cx="411.20" cy="198.97" r="0.85" fill="#4a5e9c" fill-opacity="0.75"/>
<circle cx="408.30" cy="196.60" r="0.85" fill="#4a5e9c" fill-opacity="0.75"/>
<circle cx="407.44" cy="198.20" r="0.85" fill="#4a5e9c" fill-opacity="0.75"/>
<circle cx="409.55" cy="196.60" r="0.85" fill="#4a5e9c" fill-opacity="0.75"/>
<circle cx="407.58" cy="198.88" r="0.85" fill="#4a5e9c" fill-opacity="0.75"/>
<circle cx="414.01" cy="197.37" r="0.85" fill="#4a5e9c" fill-opacity="0.75"/>
<circle cx="406.18" cy="197.15" r="0.85" fill="#4a5e9c" fill-opacity="0.75"/>
<circle cx="411.15" cy="200.04" r="0.85" fill="#4a5e9c" fill-opacity="0.75"/>
<circle cx="406.97" cy="198.89" r="0.85" fill="#4a5e9c" fill-opacity="0.75"/>
<circle cx="408.28" cy="197.02" r="0.85" fill="#4a5e9c" fill-opacity="0.75"/>
<circle cx="413.27" cy="200.06" r="0.85" fill="#4a5e9c" fill-opacity="0.75"/>
<circle cx="406.93" cy="201.74" r="0.85" fill="#4a5e9c" fill-opacity="0.75"/>
<circle cx="414.17" cy="197.55" r="0.85" fill="#4a5e9c" fill-opacity="0.75"/>
<circle cx="407.79" cy="199.64" r="0.85" fill="#4a5e9c" fill-opacity="0.75"/>
<circle cx="411.23" cy="199.81" r="0.85" fill="#4a5e9c" fill-opacity="0.75"/>
<circle cx="408.84" cy="195.21" r="0.85" fill="#4a5e9c" fill-opacity="0.75"/>
<circle cx="413.14" cy="201.60" r="0.85" fill="#4a5e9c" fill-opacity="0.75"/>
<circle cx="409.01" cy="199.55" r="0.85" fill="#4a5e9c" fill-opacity="0.75"/>
<line x1="403.40" y1="198.80" x2="414.40" y2="198.80" stroke="#1f3a7a" stroke-width="1.8"/>
<circle cx="419.42" cy="192.52" r="0.85" fill="#4a5e9c" fill-opacity="0.75"/>
<circle cx="418.15" cy="192.57" r="0.85" fill="#4a5e9c" fill-opacity="0.75"/>
<circle cx="417.99" cy="193.53" r="0.85" fill="#4a5e9c" fill-opacity="0.75"/>
<circle cx="421.48" cy="192.73" r="0.85" fill="#4a5e9c" fill-opacity="0.75"/>
<circle cx="416.18" cy="191.56" r="0.85" fill="#4a5e9c" fill-opacity="0.75"/>
<circle cx="417.79" cy="192.94" r="0.85" fill="#4a5e9c" fill-opacity="0.75"/>
<circle cx="420.55" cy="193.59" r="0.85" fill="#4a5e9c" fill-opacity="0.75"/>
<circle cx="418.50" cy="195.18" r="0.85" fill="#4a5e9c" fill-opacity="0.75"/>
<circle cx="415.70" cy="192.15" r="0.85" fill="#4a5e9c" fill-opacity="0.75"/>
<circle cx="421.23" cy="193.95" r="0.85" fill="#4a5e9c" fill-opacity="0.75"/>
<circle cx="420.58" cy="193.44" r="0.85" fill="#4a5e9c" fill-opacity="0.75"/>
<circle cx="420.26" cy="196.54" r="0.85" fill="#4a5e9c" fill-opacity="0.75"/>
<circle cx="415.89" cy="194.39" r="0.85" fill="#4a5e9c" fill-opacity="0.75"/>
<circle cx="416.70" cy="195.37" r="0.85" fill="#4a5e9c" fill-opacity="0.75"/>
<circle cx="417.27" cy="192.06" r="0.85" fill="#4a5e9c" fill-opacity="0.75"/>
<circle cx="416.92" cy="194.22" r="0.85" fill="#4a5e9c" fill-opacity="0.75"/>
<circle cx="415.77" cy="193.17" r="0.85" fill="#4a5e9c" fill-opacity="0.75"/>
<circle cx="423.15" cy="194.91" r="0.85" fill="#4a5e9c" fill-opacity="0.75"/>
<circle cx="423.63" cy="193.80" r="0.85" fill="#4a5e9c" fill-opacity="0.75"/>
<circle cx="415.58" cy="195.07" r="0.85" fill="#4a5e9c" fill-opacity="0.75"/>
<circle cx="416.31" cy="194.80" r="0.85" fill="#4a5e9c" fill-opacity="0.75"/>
<circle cx="416.40" cy="192.91" r="0.85" fill="#4a5e9c" fill-opacity="0.75"/>
<circle cx="424.20" cy="194.75" r="0.85" fill="#4a5e9c" fill-opacity="0.75"/>
<circle cx="418.99" cy="191.55" r="0.85" fill="#4a5e9c" fill-opacity="0.75"/>
<circle cx="415.25" cy="193.68" r="0.85" fill="#4a5e9c" fill-opacity="0.75"/>
<circle cx="415.70" cy="194.44" r="0.85" fill="#4a5e9c" fill-opacity="0.75"/>
<circle cx="422.40" cy="192.29" r="0.85" fill="#4a5e9c" fill-opacity="0.75"/>
<circle cx="420.83" cy="194.40" r="0.85" fill="#4a5e9c" fill-opacity="0.75"/>
<circle cx="419.44" cy="193.68" r="0.85" fill="#4a5e9c" fill-opacity="0.75"/>
<circle cx="417.09" cy="194.00" r="0.85" fill="#4a5e9c" fill-opacity="0.75"/>
<circle cx="419.31" cy="193.91" r="0.85" fill="#4a5e9c" fill-opacity="0.75"/>
<circle cx="418.15" cy="192.13" r="0.85" fill="#4a5e9c" fill-opacity="0.75"/>
<circle cx="417.20" cy="195.68" r="0.85" fill="#4a5e9c" fill-opacity="0.75"/>
<circle cx="421.70" cy="194.16" r="0.85" fill="#4a5e9c" fill-opacity="0.75"/>
<circle cx="416.87" cy="195.67" r="0.85" fill="#4a5e9c" fill-opacity="0.75"/>
<circle cx="423.37" cy="197.92" r="0.85" fill="#4a5e9c" fill-opacity="0.75"/>
<circle cx="415.67" cy="192.57" r="0.85" fill="#4a5e9c" fill-opacity="0.75"/>
<circle cx="421.37" cy="194.21" r="0.85" fill="#4a5e9c" fill-opacity="0.75"/>
<circle cx="422.51" cy="192.45" r="0.85" fill="#4a5e9c" fill-opacity="0.75"/>
<line x1="415.20" y1="194.50" x2="424.20" y2="194.50" stroke="#1f3a7a" stroke-width="1.8"/>
<circle cx="432.10" cy="195.00" r="0.85" fill="#4a5e9c" fill-opacity="0.75"/>
<circle cx="427.63" cy="193.40" r="0.85" fill="#4a5e9c" fill-opacity="0.75"/>
<circle cx="430.75" cy="194.88" r="0.85" fill="#4a5e9c" fill-opacity="0.75"/>
<circle cx="425.18" cy="192.77" r="0.85" fill="#4a5e9c" fill-opacity="0.75"/>
<circle cx="432.99" cy="196.28" r="0.85" fill="#4a5e9c" fill-opacity="0.75"/>
<circle cx="429.33" cy="193.68" r="0.85" fill="#4a5e9c" fill-opacity="0.75"/>
<circle cx="430.70" cy="194.45" r="0.85" fill="#4a5e9c" fill-opacity="0.75"/>
<circle cx="425.52" cy="194.49" r="0.85" fill="#4a5e9c" fill-opacity="0.75"/>
<circle cx="432.83" cy="192.20" r="0.85" fill="#4a5e9c" fill-opacity="0.75"/>
<circle cx="428.79" cy="193.38" r="0.85" fill="#4a5e9c" fill-opacity="0.75"/>
<circle cx="431.64" cy="192.12" r="0.85" fill="#4a5e9c" fill-opacity="0.75"/>
<circle cx="425.37" cy="193.98" r="0.85" fill="#4a5e9c" fill-opacity="0.75"/>
<circle cx="426.14" cy="193.26" r="0.85" fill="#4a5e9c" fill-opacity="0.75"/>
<circle cx="433.67" cy="193.39" r="0.85" fill="#4a5e9c" fill-opacity="0.75"/>
<circle cx="425.23" cy="193.71" r="0.85" fill="#4a5e9c" fill-opacity="0.75"/>
<circle cx="432.83" cy="193.17" r="0.85" fill="#4a5e9c" fill-opacity="0.75"/>
<circle cx="426.25" cy="192.74" r="0.85" fill="#4a5e9c" fill-opacity="0.75"/>
<circle cx="431.56" cy="193.87" r="0.85" fill="#4a5e9c" fill-opacity="0.75"/>
<circle cx="431.13" cy="193.52" r="0.85" fill="#4a5e9c" fill-opacity="0.75"/>
<circle cx="431.41" cy="192.78" r="0.85" fill="#4a5e9c" fill-opacity="0.75"/>
<circle cx="428.68" cy="196.44" r="0.85" fill="#4a5e9c" fill-opacity="0.75"/>
<circle cx="428.50" cy="194.72" r="0.85" fill="#4a5e9c" fill-opacity="0.75"/>
<circle cx="433.19" cy="191.70" r="0.85" fill="#4a5e9c" fill-opacity="0.75"/>
<circle cx="430.03" cy="196.91" r="0.85" fill="#4a5e9c" fill-opacity="0.75"/>
<circle cx="431.60" cy="195.86" r="0.85" fill="#4a5e9c" fill-opacity="0.75"/>
<circle cx="427.01" cy="194.99" r="0.85" fill="#4a5e9c" fill-opacity="0.75"/>
<circle cx="428.56" cy="196.41" r="0.85" fill="#4a5e9c" fill-opacity="0.75"/>
<circle cx="432.22" cy="193.88" r="0.85" fill="#4a5e9c" fill-opacity="0.75"/>
<circle cx="432.97" cy="190.57" r="0.85" fill="#4a5e9c" fill-opacity="0.75"/>
<circle cx="432.36" cy="195.67" r="0.85" fill="#4a5e9c" fill-opacity="0.75"/>
<circle cx="431.37" cy="194.21" r="0.85" fill="#4a5e9c" fill-opacity="0.75"/>
<circle cx="430.62" cy="192.96" r="0.85" fill="#4a5e9c" fill-opacity="0.75"/>
<circle cx="431.25" cy="196.14" r="0.85" fill="#4a5e9c" fill-opacity="0.75"/>
<circle cx="425.42" cy="194.99" r="0.85" fill="#4a5e9c" fill-opacity="0.75"/>
<circle cx="432.22" cy="193.90" r="0.85" fill="#4a5e9c" fill-opacity="0.75"/>
<circle cx="425.27" cy="198.97" r="0.85" fill="#4a5e9c" fill-opacity="0.75"/>
<circle cx="427.86" cy="195.12" r="0.85" fill="#4a5e9c" fill-opacity="0.75"/>
<circle cx="433.73" cy="193.24" r="0.85" fill="#4a5e9c" fill-opacity="0.75"/>
<circle cx="427.54" cy="195.87" r="0.85" fill="#4a5e9c" fill-opacity="0.75"/>
<line x1="425.00" y1="194.50" x2="434.10" y2="194.50" stroke="#1f3a7a" stroke-width="1.8"/>
<circle cx="434.89" cy="192.77" r="0.85" fill="#4a5e9c" fill-opacity="0.75"/>
<circle cx="439.05" cy="191.65" r="0.85" fill="#4a5e9c" fill-opacity="0.75"/>
<circle cx="440.93" cy="193.60" r="0.85" fill="#4a5e9c" fill-opacity="0.75"/>
<circle cx="436.09" cy="193.51" r="0.85" fill="#4a5e9c" fill-opacity="0.75"/>
<circle cx="437.10" cy="192.57" r="0.85" fill="#4a5e9c" fill-opacity="0.75"/>
<circle cx="437.10" cy="193.86" r="0.85" fill="#4a5e9c" fill-opacity="0.75"/>
<circle cx="440.15" cy="193.66" r="0.85" fill="#4a5e9c" fill-opacity="0.75"/>
<circle cx="436.09" cy="193.46" r="0.85" fill="#4a5e9c" fill-opacity="0.75"/>
<circle cx="440.61" cy="196.23" r="0.85" fill="#4a5e9c" fill-opacity="0.75"/>
<circle cx="438.87" cy="190.98" r="0.85" fill="#4a5e9c" fill-opacity="0.75"/>
<circle cx="440.75" cy="196.19" r="0.85" fill="#4a5e9c" fill-opacity="0.75"/>
<circle cx="438.33" cy="190.41" r="0.85" fill="#4a5e9c" fill-opacity="0.75"/>
<circle cx="440.42" cy="195.17" r="0.85" fill="#4a5e9c" fill-opacity="0.75"/>
<circle cx="435.28" cy="191.83" r="0.85" fill="#4a5e9c" fill-opacity="0.75"/>
<circle cx="441.45" cy="194.18" r="0.85" fill="#4a5e9c" fill-opacity="0.75"/>
<circle cx="439.41" cy="193.70" r="0.85" fill="#4a5e9c" fill-opacity="0.75"/>
<circle cx="435.19" cy="195.27" r="0.85" fill="#4a5e9c" fill-opacity="0.75"/>
<circle cx="438.37" cy="192.25" r="0.85" fill="#4a5e9c" fill-opacity="0.75"/>
<circle cx="439.59" cy="195.39" r="0.85" fill="#4a5e9c" fill-opacity="0.75"/>
<circle cx="437.39" cy="192.62" r="0.85" fill="#4a5e9c" fill-opacity="0.75"/>
<circle cx="440.34" cy="191.91" r="0.85" fill="#4a5e9c" fill-opacity="0.75"/>
<circle cx="442.28" cy="196.56" r="0.85" fill="#4a5e9c" fill-opacity="0.75"/>
<circle cx="435.31" cy="193.68" r="0.85" fill="#4a5e9c" fill-opacity="0.75"/>
<circle cx="436.50" cy="193.98" r="0.85" fill="#4a5e9c" fill-opacity="0.75"/>
<circle cx="438.87" cy="195.88" r="0.85" fill="#4a5e9c" fill-opacity="0.75"/>
<circle cx="439.71" cy="192.93" r="0.85" fill="#4a5e9c" fill-opacity="0.75"/>
<circle cx="438.26" cy="193.60" r="0.85" fill="#4a5e9c" fill-opacity="0.75"/>
<circle cx="442.29" cy="193.76" r="0.85" fill="#4a5e9c" fill-opacity="0.75"/>
<circle cx="436.98" cy="191.43" r="0.85" fill="#4a5e9c" fill-opacity="0.75"/>
<circle cx="440.75" cy="193.66" r="0.85" fill="#4a5e9c" fill-opacity="0.75"/>
<circle cx="435.23" cy="191.50" r="0.85" fill="#4a5e9c" fill-opacity="0.75"/>
<circle cx="435.98" cy="196.56" r="0.85" fill="#4a5e9c" fill-opacity="0.75"/>
<line x1="434.90" y1="194.50" x2="442.20" y2="194.50" stroke="#1f3a7a" stroke-width="1.8"/>
<circle cx="443.49" cy="191.18" r="0.85" fill="#4a5e9c" fill-opacity="0.75"/>
<circle cx="446.82" cy="192.76" r="0.85" fill="#4a5e9c" fill-opacity="0.75"/>
<circle cx="446.63" cy="192.18" r="0.85" fill="#4a5e9c" fill-opacity="0.75"/>
<circle cx="447.50" cy="191.99" r="0.85" fill="#4a5e9c" fill-opacity="0.75"/>
<circle cx="449.22" cy="189.25" r="0.85" fill="#4a5e9c" fill-opacity="0.75"/>
<circle cx="447.83" cy="192.64" r="0.85" fill="#4a5e9c" fill-opacity="0.75"/>
<circle cx="443.31" cy="191.74" r="0.85" fill="#4a5e9c" fill-opacity="0.75"/>
<circle cx="446.74" cy="194.25" r="0.85" fill="#4a5e9c" fill-opacity="0.75"/>
<circle cx="448.32" cy="190.71" r="0.85" fill="#4a5e9c" fill-opacity="0.75"/>
<circle cx="446.41" cy="192.69" r="0.85" fill="#4a5e9c" fill-opacity="0.75"/>
<circle cx="446.23" cy="191.28" r="0.85" fill="#4a5e9c" fill-opacity="0.75"/>
<circle cx="447.49" cy="193.68" r="0.85" fill="#4a5e9c" fill-opacity="0.75"/>
<circle cx="444.54" cy="191.88" r="0.85" fill="#4a5e9c" fill-opacity="0.75"/>
<circle cx="449.00" cy="191.87" r="0.85" fill="#4a5e9c" fill-opacity="0.75"/>
<circle cx="444.16" cy="192.51" r="0.85" fill="#4a5e9c" fill-opacity="0.75"/>
<circle cx="449.15" cy="190.60" r="0.85" fill="#4a5e9c" fill-opacity="0.75"/>
<circle cx="444.23" cy="194.65" r="0.85" fill="#4a5e9c" fill-opacity="0.75"/>
<circle cx="443.73" cy="189.63" r="0.85" fill="#4a5e9c" fill-opacity="0.75"/>
<circle cx="447.42" cy="192.71" r="0.85" fill="#4a5e9c" fill-opacity="0.75"/>
<circle cx="446.78" cy="194.60" r="0.85" fill="#4a5e9c" fill-opacity="0.75"/>
<circle cx="442.91" cy="193.96" r="0.85" fill="#4a5e9c" fill-opacity="0.75"/>
<circle cx="447.15" cy="190.26" r="0.85" fill="#4a5e9c" fill-opacity="0.75"/>
<circle cx="445.33" cy="192.61" r="0.85" fill="#4a5e9c" fill-opacity="0.75"/>
<circle cx="446.00" cy="192.98" r="0.85" fill="#4a5e9c" fill-opacity="0.75"/>
<circle cx="450.47" cy="192.55" r="0.85" fill="#4a5e9c" fill-opacity="0.75"/>
<circle cx="446.21" cy="194.78" r="0.85" fill="#4a5e9c" fill-opacity="0.75"/>
<circle cx="447.73" cy="191.50" r="0.85" fill="#4a5e9c" fill-opacity="0.75"/>
<circle cx="443.85" cy="192.42" r="0.85" fill="#4a5e9c" fill-opacity="0.75"/>
<circle cx="446.07" cy="193.37" r="0.85" fill="#4a5e9c" fill-opacity="0.75"/>
<circle cx="446.50" cy="190.30" r="0.85" fill="#4a5e9c" fill-opacity="0.75"/>
<circle cx="446.84" cy="190.65" r="0.85" fill="#4a5e9c" fill-opacity="0.75"/>
<circle cx="444.67" cy="192.45" r="0.85" fill="#4a5e9c" fill-opacity="0.75"/>
<line x1="443.00" y1="192.78" x2="450.40" y2="192.78" stroke="#1f3a7a" stroke-width="1.8"/>
<circle cx="453.25" cy="187.56" r="0.85" fill="#4a5e9c" fill-opacity="0.75"/>
<circle cx="452.98" cy="187.27" r="0.85" fill="#4a5e9c" fill-opacity="0.75"/>
<circle cx="455.81" cy="186.13" r="0.85" fill="#4a5e9c" fill-opacity="0.75"/>
<circle cx="454.17" cy="184.99" r="0.85" fill="#4a5e9c" fill-opacity="0.75"/>
<circle cx="453.95" cy="185.57" r="0.85" fill="#4a5e9c" fill-opacity="0.75"/>
<circle cx="454.90" cy="188.75" r="0.85" fill="#4a5e9c" fill-opacity="0.75"/>
<circle cx="454.75" cy="186.48" r="0.85" fill="#4a5e9c" fill-opacity="0.75"/>
<circle cx="451.12" cy="186.31" r="0.85" fill="#4a5e9c" fill-opacity="0.75"/>
<circle cx="453.33" cy="185.34" r="0.85" fill="#4a5e9c" fill-opacity="0.75"/>
<circle cx="454.30" cy="187.46" r="0.85" fill="#4a5e9c" fill-opacity="0.75"/>
<circle cx="454.19" cy="189.31" r="0.85" fill="#4a5e9c" fill-opacity="0.75"/>
<circle cx="452.70" cy="188.87" r="0.85" fill="#4a5e9c" fill-opacity="0.75"/>
<circle cx="454.55" cy="189.14" r="0.85" fill="#4a5e9c" fill-opacity="0.75"/>
<circle cx="453.57" cy="186.42" r="0.85" fill="#4a5e9c" fill-opacity="0.75"/>
<circle cx="454.17" cy="187.32" r="0.85" fill="#4a5e9c" fill-opacity="0.75"/>
<circle cx="451.75" cy="185.91" r="0.85" fill="#4a5e9c" fill-opacity="0.75"/>
<circle cx="454.51" cy="183.44" r="0.85" fill="#4a5e9c" fill-opacity="0.75"/>
<circle cx="455.58" cy="189.18" r="0.85" fill="#4a5e9c" fill-opacity="0.75"/>
<circle cx="451.17" cy="187.99" r="0.85" fill="#4a5e9c" fill-opacity="0.75"/>
<circle cx="452.71" cy="183.94" r="0.85" fill="#4a5e9c" fill-opacity="0.75"/>
<circle cx="451.52" cy="187.12" r="0.85" fill="#4a5e9c" fill-opacity="0.75"/>
<circle cx="455.23" cy="187.73" r="0.85" fill="#4a5e9c" fill-opacity="0.75"/>
<circle cx="453.55" cy="187.89" r="0.85" fill="#4a5e9c" fill-opacity="0.75"/>
<circle cx="456.54" cy="187.54" r="0.85" fill="#4a5e9c" fill-opacity="0.75"/>
<line x1="451.20" y1="187.62" x2="456.60" y2="187.62" stroke="#1f3a7a" stroke-width="1.8"/>
<circle cx="460.16" cy="195.28" r="0.85" fill="#4a5e9c" fill-opacity="0.75"/>
<circle cx="461.32" cy="195.52" r="0.85" fill="#4a5e9c" fill-opacity="0.75"/>
<circle cx="459.88" cy="195.45" r="0.85" fill="#4a5e9c" fill-opacity="0.75"/>
<circle cx="460.99" cy="194.27" r="0.85" fill="#4a5e9c" fill-opacity="0.75"/>
<circle cx="457.96" cy="195.45" r="0.85" fill="#4a5e9c" fill-opacity="0.75"/>
<circle cx="457.50" cy="196.14" r="0.85" fill="#4a5e9c" fill-opacity="0.75"/>
<circle cx="460.91" cy="196.33" r="0.85" fill="#4a5e9c" fill-opacity="0.75"/>
<circle cx="458.33" cy="196.88" r="0.85" fill="#4a5e9c" fill-opacity="0.75"/>
<circle cx="462.19" cy="195.83" r="0.85" fill="#4a5e9c" fill-opacity="0.75"/>
<circle cx="458.99" cy="196.25" r="0.85" fill="#4a5e9c" fill-opacity="0.75"/>
<circle cx="459.62" cy="195.33" r="0.85" fill="#4a5e9c" fill-opacity="0.75"/>
<circle cx="461.98" cy="195.65" r="0.85" fill="#4a5e9c" fill-opacity="0.75"/>
<circle cx="461.94" cy="196.11" r="0.85" fill="#4a5e9c" fill-opacity="0.75"/>
<circle cx="459.62" cy="193.86" r="0.85" fill="#4a5e9c" fill-opacity="0.75"/>
<circle cx="462.01" cy="195.96" r="0.85" fill="#4a5e9c" fill-opacity="0.75"/>
<circle cx="457.37" cy="194.02" r="0.85" fill="#4a5e9c" fill-opacity="0.75"/>
<circle cx="457.42" cy="194.34" r="0.85" fill="#4a5e9c" fill-opacity="0.75"/>
<circle cx="458.07" cy="193.63" r="0.85" fill="#4a5e9c" fill-opacity="0.75"/>
<circle cx="459.88" cy="194.09" r="0.85" fill="#4a5e9c" fill-opacity="0.75"/>
<circle cx="458.11" cy="194.69" r="0.85" fill="#4a5e9c" fill-opacity="0.75"/>
<circle cx="460.95" cy="194.40" r="0.85" fill="#4a5e9c" fill-opacity="0.75"/>
<circle cx="461.69" cy="194.30" r="0.85" fill="#4a5e9c" fill-opacity="0.75"/>
<circle cx="459.28" cy="197.17" r="0.85" fill="#4a5e9c" fill-opacity="0.75"/>
<line x1="457.40" y1="196.22" x2="462.40" y2="196.22" stroke="#1f3a7a" stroke-width="1.8"/>
<circle cx="469.67" cy="199.42" r="0.75" fill="#8090c0" fill-opacity="0.6"/>
<circle cx="481.61" cy="201.63" r="0.75" fill="#8090c0" fill-opacity="0.6"/>
<circle cx="466.48" cy="202.15" r="0.75" fill="#8090c0" fill-opacity="0.6"/>
<circle cx="481.88" cy="200.78" r="0.75" fill="#8090c0" fill-opacity="0.6"/>
<circle cx="467.40" cy="200.32" r="0.75" fill="#8090c0" fill-opacity="0.6"/>
<circle cx="463.58" cy="199.60" r="0.75" fill="#8090c0" fill-opacity="0.6"/>
<circle cx="474.23" cy="200.39" r="0.75" fill="#8090c0" fill-opacity="0.6"/>
<circle cx="473.86" cy="203.29" r="0.75" fill="#8090c0" fill-opacity="0.6"/>
<circle cx="478.32" cy="200.36" r="0.75" fill="#8090c0" fill-opacity="0.6"/>
<circle cx="473.60" cy="203.05" r="0.75" fill="#8090c0" fill-opacity="0.6"/>
<circle cx="481.11" cy="204.21" r="0.75" fill="#8090c0" fill-opacity="0.6"/>
<circle cx="472.60" cy="197.89" r="0.75" fill="#8090c0" fill-opacity="0.6"/>
<circle cx="478.83" cy="202.90" r="0.75" fill="#8090c0" fill-opacity="0.6"/>
<circle cx="465.03" cy="201.84" r="0.75" fill="#8090c0" fill-opacity="0.6"/>
<circle cx="471.17" cy="200.89" r="0.75" fill="#8090c0" fill-opacity="0.6"/>
<circle cx="476.54" cy="203.10" r="0.75" fill="#8090c0" fill-opacity="0.6"/>
<circle cx="463.58" cy="200.70" r="0.75" fill="#8090c0" fill-opacity="0.6"/>
<circle cx="470.46" cy="200.95" r="0.75" fill="#8090c0" fill-opacity="0.6"/>
<circle cx="479.72" cy="200.12" r="0.75" fill="#8090c0" fill-opacity="0.6"/>
<circle cx="479.83" cy="200.39" r="0.75" fill="#8090c0" fill-opacity="0.6"/>
<circle cx="478.48" cy="202.81" r="0.75" fill="#8090c0" fill-opacity="0.6"/>
<circle cx="470.31" cy="202.18" r="0.75" fill="#8090c0" fill-opacity="0.6"/>
<circle cx="464.16" cy="202.02" r="0.75" fill="#8090c0" fill-opacity="0.6"/>
<circle cx="464.70" cy="200.29" r="0.75" fill="#8090c0" fill-opacity="0.6"/>
<circle cx="468.28" cy="201.58" r="0.75" fill="#8090c0" fill-opacity="0.6"/>
<circle cx="472.90" cy="200.38" r="0.75" fill="#8090c0" fill-opacity="0.6"/>
<circle cx="472.77" cy="198.85" r="0.75" fill="#8090c0" fill-opacity="0.6"/>
<circle cx="476.31" cy="200.95" r="0.75" fill="#8090c0" fill-opacity="0.6"/>
<circle cx="475.48" cy="201.01" r="0.75" fill="#8090c0" fill-opacity="0.6"/>
<circle cx="469.38" cy="203.50" r="0.75" fill="#8090c0" fill-opacity="0.6"/>
<circle cx="476.14" cy="200.15" r="0.75" fill="#8090c0" fill-opacity="0.6"/>
<circle cx="464.36" cy="197.80" r="0.75" fill="#8090c0" fill-opacity="0.6"/>
<circle cx="478.97" cy="201.85" r="0.75" fill="#8090c0" fill-opacity="0.6"/>
<circle cx="474.64" cy="200.22" r="0.75" fill="#8090c0" fill-opacity="0.6"/>
<circle cx="479.50" cy="201.09" r="0.75" fill="#8090c0" fill-opacity="0.6"/>
<circle cx="470.01" cy="197.86" r="0.75" fill="#8090c0" fill-opacity="0.6"/>
<circle cx="479.25" cy="202.11" r="0.75" fill="#8090c0" fill-opacity="0.6"/>
<circle cx="472.87" cy="200.47" r="0.75" fill="#8090c0" fill-opacity="0.6"/>
<circle cx="471.73" cy="201.99" r="0.75" fill="#8090c0" fill-opacity="0.6"/>
<circle cx="478.14" cy="201.48" r="0.75" fill="#8090c0" fill-opacity="0.6"/>
<circle cx="182.81" cy="187.97" r="0.8" fill="#3a55a0"/>
<circle cx="182.80" cy="189.21" r="0.8" fill="#3a55a0"/>
<circle cx="181.53" cy="187.03" r="0.8" fill="#3a55a0"/>
<circle cx="182.37" cy="189.84" r="0.8" fill="#3a55a0"/>
<circle cx="182.93" cy="186.38" r="0.8" fill="#3a55a0"/>
<circle cx="210.73" cy="184.30" r="0.8" fill="#3a55a0"/>
<circle cx="211.04" cy="185.85" r="0.8" fill="#3a55a0"/>
<circle cx="211.15" cy="186.62" r="0.8" fill="#3a55a0"/>
<circle cx="210.06" cy="186.43" r="0.8" fill="#3a55a0"/>
<circle cx="210.12" cy="185.23" r="0.8" fill="#3a55a0"/>
<circle cx="287.80" cy="179.45" r="0.8" fill="#3a55a0"/>
<circle cx="288.18" cy="180.74" r="0.8" fill="#3a55a0"/>
<circle cx="289.29" cy="178.39" r="0.8" fill="#3a55a0"/>
<circle cx="288.70" cy="177.76" r="0.8" fill="#3a55a0"/>
<circle cx="289.25" cy="177.59" r="0.8" fill="#3a55a0"/>
<circle cx="287.45" cy="181.95" r="0.8" fill="#3a55a0"/>
<circle cx="287.20" cy="181.84" r="0.8" fill="#3a55a0"/>
<circle cx="287.74" cy="181.18" r="0.8" fill="#3a55a0"/>
<circle cx="287.47" cy="179.96" r="0.8" fill="#3a55a0"/>
<circle cx="287.11" cy="180.59" r="0.8" fill="#3a55a0"/>
<circle cx="400.53" cy="186.67" r="0.8" fill="#3a55a0"/>
<circle cx="401.12" cy="186.62" r="0.8" fill="#3a55a0"/>
<circle cx="401.16" cy="186.99" r="0.8" fill="#3a55a0"/>
<circle cx="401.19" cy="185.10" r="0.8" fill="#3a55a0"/>
<circle cx="400.60" cy="187.04" r="0.8" fill="#3a55a0"/>
<circle cx="400.26" cy="188.44" r="0.8" fill="#3a55a0"/>
<circle cx="399.23" cy="187.32" r="0.8" fill="#3a55a0"/>
<circle cx="399.31" cy="188.07" r="0.8" fill="#3a55a0"/>
<circle cx="398.88" cy="189.00" r="0.8" fill="#3a55a0"/>
<circle cx="399.15" cy="187.35" r="0.8" fill="#3a55a0"/>
<circle cx="451.23" cy="183.52" r="0.8" fill="#3a55a0"/>
<circle cx="451.93" cy="183.83" r="0.8" fill="#3a55a0"/>
<circle cx="451.21" cy="181.27" r="0.8" fill="#3a55a0"/>
<circle cx="451.43" cy="184.96" r="0.8" fill="#3a55a0"/>
<circle cx="451.29" cy="184.68" r="0.8" fill="#3a55a0"/>
<circle cx="453.81" cy="179.67" r="0.8" fill="#3a55a0"/>
<circle cx="453.47" cy="183.18" r="0.8" fill="#3a55a0"/>
<circle cx="454.23" cy="182.12" r="0.8" fill="#3a55a0"/>
<circle cx="453.76" cy="182.81" r="0.8" fill="#3a55a0"/>
<circle cx="453.00" cy="183.15" r="0.8" fill="#3a55a0"/>
<circle cx="454.67" cy="185.43" r="0.8" fill="#3a55a0"/>
<circle cx="455.14" cy="184.07" r="0.8" fill="#3a55a0"/>
<circle cx="454.87" cy="186.02" r="0.8" fill="#3a55a0"/>
<circle cx="455.02" cy="186.35" r="0.8" fill="#3a55a0"/>
<circle cx="455.26" cy="185.92" r="0.8" fill="#3a55a0"/>
<circle cx="329.38" cy="195.34" r="0.8" fill="#3a55a0"/>
<circle cx="329.66" cy="196.85" r="0.8" fill="#3a55a0"/>
<circle cx="330.13" cy="196.68" r="0.8" fill="#3a55a0"/>
<circle cx="330.27" cy="195.88" r="0.8" fill="#3a55a0"/>
<circle cx="329.34" cy="199.46" r="0.8" fill="#3a55a0"/>
<circle cx="416.65" cy="202.84" r="0.8" fill="#3a55a0"/>
<circle cx="417.02" cy="200.25" r="0.8" fill="#3a55a0"/>
<circle cx="416.76" cy="201.01" r="0.8" fill="#3a55a0"/>
<circle cx="416.49" cy="199.95" r="0.8" fill="#3a55a0"/>
<circle cx="417.12" cy="203.98" r="0.8" fill="#3a55a0"/>
<circle cx="459.56" cy="200.33" r="0.8" fill="#3a55a0"/>
<circle cx="459.54" cy="201.67" r="0.8" fill="#3a55a0"/>
<circle cx="460.38" cy="201.62" r="0.8" fill="#3a55a0"/>
<circle cx="460.73" cy="199.98" r="0.8" fill="#3a55a0"/>
<circle cx="460.79" cy="199.47" r="0.8" fill="#3a55a0"/>
<line x1="95.6" y1="194.50" x2="482.6" y2="194.50" stroke="#111" stroke-width="0.9"/>
<line x1="96.20" y1="242.30" x2="126.70" y2="242.30" stroke="#a0141e" stroke-width="1.7"/>
<circle cx="96.74" cy="241.41" r="0.75" fill="#8c1020"/>
<circle cx="109.10" cy="241.68" r="0.75" fill="#8c1020"/>
<circle cx="121.70" cy="242.96" r="0.75" fill="#8c1020"/>
<circle cx="109.21" cy="241.77" r="0.75" fill="#8c1020"/>
<circle cx="122.98" cy="242.46" r="0.75" fill="#8c1020"/>
<circle cx="97.59" cy="242.32" r="0.75" fill="#8c1020"/>
<circle cx="109.20" cy="241.62" r="0.75" fill="#8c1020"/>
<circle cx="107.46" cy="242.16" r="0.75" fill="#8c1020"/>
<circle cx="107.27" cy="243.35" r="0.75" fill="#8c1020"/>
<circle cx="107.41" cy="243.47" r="0.75" fill="#8c1020"/>
<circle cx="112.80" cy="242.51" r="0.75" fill="#8c1020"/>
<circle cx="99.33" cy="242.64" r="0.75" fill="#8c1020"/>
<circle cx="120.68" cy="242.73" r="0.75" fill="#8c1020"/>
<circle cx="113.54" cy="242.73" r="0.75" fill="#8c1020"/>
<circle cx="98.89" cy="241.52" r="0.75" fill="#8c1020"/>
<circle cx="119.23" cy="242.32" r="0.75" fill="#8c1020"/>
<circle cx="118.52" cy="242.33" r="0.75" fill="#8c1020"/>
<circle cx="124.69" cy="242.68" r="0.75" fill="#8c1020"/>
<circle cx="96.08" cy="242.82" r="0.75" fill="#8c1020"/>
<circle cx="119.96" cy="241.90" r="0.75" fill="#8c1020"/>
<circle cx="121.86" cy="241.67" r="0.75" fill="#8c1020"/>
<circle cx="110.72" cy="241.91" r="0.75" fill="#8c1020"/>
<circle cx="97.19" cy="244.47" r="0.75" fill="#8c1020"/>
<circle cx="97.42" cy="241.96" r="0.75" fill="#8c1020"/>
<circle cx="126.62" cy="242.31" r="0.75" fill="#8c1020"/>
<circle cx="124.67" cy="242.49" r="0.75" fill="#8c1020"/>
<circle cx="102.06" cy="242.23" r="0.75" fill="#8c1020"/>
<circle cx="119.36" cy="243.50" r="0.75" fill="#8c1020"/>
<circle cx="106.44" cy="243.33" r="0.75" fill="#8c1020"/>
<circle cx="98.21" cy="242.86" r="0.75" fill="#8c1020"/>
<circle cx="120.13" cy="241.29" r="0.75" fill="#8c1020"/>
<circle cx="101.25" cy="242.65" r="0.75" fill="#8c1020"/>
<circle cx="109.33" cy="242.60" r="0.75" fill="#8c1020"/>
<circle cx="111.87" cy="242.16" r="0.75" fill="#8c1020"/>
<circle cx="124.77" cy="241.60" r="0.75" fill="#8c1020"/>
<circle cx="126.68" cy="241.87" r="0.75" fill="#8c1020"/>
<circle cx="118.76" cy="242.24" r="0.75" fill="#8c1020"/>
<circle cx="120.47" cy="241.01" r="0.75" fill="#8c1020"/>
<line x1="127.90" y1="242.30" x2="156.90" y2="242.30" stroke="#a0141e" stroke-width="1.7"/>
<circle cx="136.03" cy="242.51" r="0.75" fill="#8c1020"/>
<circle cx="143.02" cy="242.35" r="0.75" fill="#8c1020"/>
<circle cx="149.74" cy="242.56" r="0.75" fill="#8c1020"/>
<circle cx="134.38" cy="242.96" r="0.75" fill="#8c1020"/>
<circle cx="133.80" cy="242.26" r="0.75" fill="#8c1020"/>
<circle cx="134.71" cy="243.07" r="0.75" fill="#8c1020"/>
<circle cx="141.43" cy="241.99" r="0.75" fill="#8c1020"/>
<circle cx="130.59" cy="241.32" r="0.75" fill="#8c1020"/>
<circle cx="139.68" cy="241.74" r="0.75" fill="#8c1020"/>
<circle cx="138.38" cy="242.17" r="0.75" fill="#8c1020"/>
<circle cx="134.95" cy="241.97" r="0.75" fill="#8c1020"/>
<circle cx="128.72" cy="241.77" r="0.75" fill="#8c1020"/>
<circle cx="139.93" cy="242.45" r="0.75" fill="#8c1020"/>
<circle cx="130.11" cy="242.08" r="0.75" fill="#8c1020"/>
<circle cx="129.28" cy="242.50" r="0.75" fill="#8c1020"/>
<circle cx="146.20" cy="242.81" r="0.75" fill="#8c1020"/>
<circle cx="138.92" cy="242.07" r="0.75" fill="#8c1020"/>
<circle cx="130.54" cy="241.82" r="0.75" fill="#8c1020"/>
<circle cx="154.98" cy="241.60" r="0.75" fill="#8c1020"/>
<circle cx="129.48" cy="242.01" r="0.75" fill="#8c1020"/>
<circle cx="145.04" cy="242.58" r="0.75" fill="#8c1020"/>
<circle cx="129.59" cy="242.07" r="0.75" fill="#8c1020"/>
<circle cx="140.54" cy="242.22" r="0.75" fill="#8c1020"/>
<circle cx="133.07" cy="242.17" r="0.75" fill="#8c1020"/>
<circle cx="156.76" cy="242.06" r="0.75" fill="#8c1020"/>
<circle cx="151.00" cy="241.09" r="0.75" fill="#8c1020"/>
<circle cx="129.82" cy="242.47" r="0.75" fill="#8c1020"/>
<circle cx="134.14" cy="241.81" r="0.75" fill="#8c1020"/>
<circle cx="155.67" cy="242.25" r="0.75" fill="#8c1020"/>
<circle cx="152.16" cy="242.73" r="0.75" fill="#8c1020"/>
<circle cx="139.64" cy="242.49" r="0.75" fill="#8c1020"/>
<circle cx="140.56" cy="241.93" r="0.75" fill="#8c1020"/>
<circle cx="132.92" cy="242.89" r="0.75" fill="#8c1020"/>
<circle cx="140.35" cy="242.95" r="0.75" fill="#8c1020"/>
<circle cx="134.56" cy="243.16" r="0.75" fill="#8c1020"/>
<circle cx="135.32" cy="241.73" r="0.75" fill="#8c1020"/>
<line x1="158.10" y1="249.50" x2="180.40" y2="249.50" stroke="#5fae3c" stroke-width="1.7"/>
<line x1="158.10" y1="233.66" x2="180.40" y2="233.66" stroke="#a0141e" stroke-width="1.7"/>
<circle cx="160.48" cy="233.77" r="0.75" fill="#8c1020"/>
<circle cx="162.86" cy="233.37" r="0.75" fill="#8c1020"/>
<circle cx="161.30" cy="233.87" r="0.75" fill="#8c1020"/>
<circle cx="164.81" cy="233.45" r="0.75" fill="#8c1020"/>
<circle cx="171.31" cy="234.32" r="0.75" fill="#8c1020"/>
<circle cx="170.60" cy="232.70" r="0.75" fill="#8c1020"/>
<circle cx="179.20" cy="232.04" r="0.75" fill="#8c1020"/>
<circle cx="175.78" cy="234.28" r="0.75" fill="#8c1020"/>
<circle cx="177.02" cy="233.07" r="0.75" fill="#8c1020"/>
<circle cx="162.48" cy="233.53" r="0.75" fill="#8c1020"/>
<circle cx="174.46" cy="234.12" r="0.75" fill="#8c1020"/>
<circle cx="170.60" cy="234.13" r="0.75" fill="#8c1020"/>
<circle cx="180.47" cy="232.91" r="0.75" fill="#8c1020"/>
<circle cx="160.75" cy="232.96" r="0.75" fill="#8c1020"/>
<circle cx="158.31" cy="232.81" r="0.75" fill="#8c1020"/>
<circle cx="158.80" cy="234.06" r="0.75" fill="#8c1020"/>
<circle cx="164.51" cy="234.38" r="0.75" fill="#8c1020"/>
<circle cx="168.01" cy="234.33" r="0.75" fill="#8c1020"/>
<circle cx="166.39" cy="232.58" r="0.75" fill="#8c1020"/>
<circle cx="177.76" cy="233.82" r="0.75" fill="#8c1020"/>
<circle cx="170.22" cy="233.10" r="0.75" fill="#8c1020"/>
<circle cx="176.81" cy="233.50" r="0.75" fill="#8c1020"/>
<circle cx="158.53" cy="233.63" r="0.75" fill="#8c1020"/>
<circle cx="173.41" cy="234.28" r="0.75" fill="#8c1020"/>
<circle cx="174.50" cy="234.37" r="0.75" fill="#8c1020"/>
<circle cx="168.22" cy="232.82" r="0.75" fill="#8c1020"/>
<circle cx="159.77" cy="233.01" r="0.75" fill="#8c1020"/>
<circle cx="176.72" cy="234.44" r="0.75" fill="#8c1020"/>
<line x1="181.60" y1="246.14" x2="183.10" y2="246.14" stroke="#5fae3c" stroke-width="1.7"/>
<line x1="181.60" y1="238.46" x2="183.10" y2="238.46" stroke="#a0141e" stroke-width="1.7"/>
<circle cx="183.36" cy="237.42" r="0.75" fill="#8c1020"/>
<circle cx="181.84" cy="238.93" r="0.75" fill="#8c1020"/>
<circle cx="182.07" cy="239.34" r="0.75" fill="#8c1020"/>
<line x1="184.30" y1="242.30" x2="207.40" y2="242.30" stroke="#a0141e" stroke-width="1.7"/>
<circle cx="192.10" cy="242.39" r="0.75" fill="#8c1020"/>
<circle cx="193.71" cy="241.41" r="0.75" fill="#8c1020"/>
<circle cx="205.09" cy="242.67" r="0.75" fill="#8c1020"/>
<circle cx="204.58" cy="241.87" r="0.75" fill="#8c1020"/>
<circle cx="192.07" cy="243.47" r="0.75" fill="#8c1020"/>
<circle cx="195.19" cy="242.08" r="0.75" fill="#8c1020"/>
<circle cx="188.41" cy="241.18" r="0.75" fill="#8c1020"/>
<circle cx="186.42" cy="242.79" r="0.75" fill="#8c1020"/>
<circle cx="185.02" cy="243.71" r="0.75" fill="#8c1020"/>
<circle cx="187.11" cy="241.91" r="0.75" fill="#8c1020"/>
<circle cx="206.70" cy="242.92" r="0.75" fill="#8c1020"/>
<circle cx="190.84" cy="242.53" r="0.75" fill="#8c1020"/>
<circle cx="199.20" cy="242.64" r="0.75" fill="#8c1020"/>
<circle cx="200.89" cy="242.15" r="0.75" fill="#8c1020"/>
<circle cx="199.99" cy="242.50" r="0.75" fill="#8c1020"/>
<circle cx="189.82" cy="242.72" r="0.75" fill="#8c1020"/>
<circle cx="185.28" cy="242.40" r="0.75" fill="#8c1020"/>
<circle cx="194.05" cy="243.01" r="0.75" fill="#8c1020"/>
<circle cx="196.07" cy="243.30" r="0.75" fill="#8c1020"/>
<circle cx="186.64" cy="242.19" r="0.75" fill="#8c1020"/>
<circle cx="207.59" cy="243.13" r="0.75" fill="#8c1020"/>
<circle cx="207.42" cy="243.00" r="0.75" fill="#8c1020"/>
<circle cx="188.40" cy="242.24" r="0.75" fill="#8c1020"/>
<circle cx="202.54" cy="242.27" r="0.75" fill="#8c1020"/>
<circle cx="191.61" cy="241.96" r="0.75" fill="#8c1020"/>
<circle cx="187.00" cy="243.38" r="0.75" fill="#8c1020"/>
<circle cx="188.90" cy="242.54" r="0.75" fill="#8c1020"/>
<circle cx="197.73" cy="241.84" r="0.75" fill="#8c1020"/>
<circle cx="186.33" cy="242.08" r="0.75" fill="#8c1020"/>
<line x1="208.60" y1="245.18" x2="212.70" y2="245.18" stroke="#5fae3c" stroke-width="1.7"/>
<line x1="208.60" y1="240.38" x2="212.70" y2="240.38" stroke="#a0141e" stroke-width="1.7"/>
<circle cx="211.63" cy="240.68" r="0.75" fill="#8c1020"/>
<circle cx="210.52" cy="239.96" r="0.75" fill="#8c1020"/>
<circle cx="211.93" cy="240.64" r="0.75" fill="#8c1020"/>
<circle cx="210.99" cy="240.14" r="0.75" fill="#8c1020"/>
<circle cx="210.73" cy="240.56" r="0.75" fill="#8c1020"/>
<circle cx="210.46" cy="240.13" r="0.75" fill="#8c1020"/>
<line x1="213.90" y1="249.50" x2="230.90" y2="249.50" stroke="#5fae3c" stroke-width="1.7"/>
<line x1="213.90" y1="233.66" x2="230.90" y2="233.66" stroke="#a0141e" stroke-width="1.7"/>
<circle cx="217.78" cy="231.60" r="0.75" fill="#8c1020"/>
<circle cx="229.71" cy="234.47" r="0.75" fill="#8c1020"/>
<circle cx="213.87" cy="233.75" r="0.75" fill="#8c1020"/>
<circle cx="220.63" cy="234.28" r="0.75" fill="#8c1020"/>
<circle cx="225.11" cy="233.10" r="0.75" fill="#8c1020"/>
<circle cx="217.83" cy="233.96" r="0.75" fill="#8c1020"/>
<circle cx="224.75" cy="232.78" r="0.75" fill="#8c1020"/>
<circle cx="218.95" cy="233.55" r="0.75" fill="#8c1020"/>
<circle cx="221.86" cy="233.48" r="0.75" fill="#8c1020"/>
<circle cx="213.84" cy="232.89" r="0.75" fill="#8c1020"/>
<circle cx="225.28" cy="232.74" r="0.75" fill="#8c1020"/>
<circle cx="216.68" cy="233.88" r="0.75" fill="#8c1020"/>
<circle cx="224.15" cy="231.94" r="0.75" fill="#8c1020"/>
<circle cx="216.41" cy="233.99" r="0.75" fill="#8c1020"/>
<circle cx="230.43" cy="234.83" r="0.75" fill="#8c1020"/>
<circle cx="226.76" cy="233.50" r="0.75" fill="#8c1020"/>
<circle cx="230.12" cy="234.09" r="0.75" fill="#8c1020"/>
<circle cx="228.93" cy="233.24" r="0.75" fill="#8c1020"/>
<circle cx="225.80" cy="235.04" r="0.75" fill="#8c1020"/>
<circle cx="216.84" cy="234.28" r="0.75" fill="#8c1020"/>
<circle cx="213.68" cy="233.01" r="0.75" fill="#8c1020"/>
<line x1="232.10" y1="242.30" x2="251.90" y2="242.30" stroke="#a0141e" stroke-width="1.7"/>
<circle cx="250.55" cy="242.71" r="0.75" fill="#8c1020"/>
<circle cx="238.90" cy="241.55" r="0.75" fill="#8c1020"/>
<circle cx="233.84" cy="243.11" r="0.75" fill="#8c1020"/>
<circle cx="242.57" cy="242.74" r="0.75" fill="#8c1020"/>
<circle cx="242.84" cy="242.68" r="0.75" fill="#8c1020"/>
<circle cx="236.30" cy="241.27" r="0.75" fill="#8c1020"/>
<circle cx="244.08" cy="243.18" r="0.75" fill="#8c1020"/>
<circle cx="243.21" cy="242.12" r="0.75" fill="#8c1020"/>
<circle cx="244.41" cy="243.47" r="0.75" fill="#8c1020"/>
<circle cx="246.42" cy="242.67" r="0.75" fill="#8c1020"/>
<circle cx="251.88" cy="241.74" r="0.75" fill="#8c1020"/>
<circle cx="244.89" cy="242.98" r="0.75" fill="#8c1020"/>
<circle cx="234.12" cy="243.10" r="0.75" fill="#8c1020"/>
<circle cx="235.09" cy="243.78" r="0.75" fill="#8c1020"/>
<circle cx="236.33" cy="242.51" r="0.75" fill="#8c1020"/>
<circle cx="231.87" cy="242.76" r="0.75" fill="#8c1020"/>
<circle cx="242.64" cy="242.30" r="0.75" fill="#8c1020"/>
<circle cx="239.16" cy="242.28" r="0.75" fill="#8c1020"/>
<circle cx="246.17" cy="242.73" r="0.75" fill="#8c1020"/>
<circle cx="235.16" cy="243.41" r="0.75" fill="#8c1020"/>
<circle cx="232.99" cy="241.66" r="0.75" fill="#8c1020"/>
<circle cx="239.48" cy="242.77" r="0.75" fill="#8c1020"/>
<circle cx="239.99" cy="241.90" r="0.75" fill="#8c1020"/>
<circle cx="232.66" cy="241.09" r="0.75" fill="#8c1020"/>
<circle cx="242.85" cy="241.94" r="0.75" fill="#8c1020"/>
<line x1="253.10" y1="249.98" x2="273.10" y2="249.98" stroke="#5fae3c" stroke-width="1.7"/>
<line x1="253.10" y1="233.66" x2="273.10" y2="233.66" stroke="#a0141e" stroke-width="1.7"/>
<circle cx="254.19" cy="233.87" r="0.75" fill="#8c1020"/>
<circle cx="269.51" cy="234.06" r="0.75" fill="#8c1020"/>
<circle cx="263.14" cy="233.30" r="0.75" fill="#8c1020"/>
<circle cx="266.37" cy="232.51" r="0.75" fill="#8c1020"/>
<circle cx="270.71" cy="233.44" r="0.75" fill="#8c1020"/>
<circle cx="267.56" cy="234.50" r="0.75" fill="#8c1020"/>
<circle cx="267.89" cy="234.09" r="0.75" fill="#8c1020"/>
<circle cx="259.00" cy="234.02" r="0.75" fill="#8c1020"/>
<circle cx="256.94" cy="234.88" r="0.75" fill="#8c1020"/>
<circle cx="272.17" cy="233.46" r="0.75" fill="#8c1020"/>
<circle cx="269.97" cy="233.12" r="0.75" fill="#8c1020"/>
<circle cx="259.39" cy="232.64" r="0.75" fill="#8c1020"/>
<circle cx="255.40" cy="234.15" r="0.75" fill="#8c1020"/>
<circle cx="264.13" cy="233.01" r="0.75" fill="#8c1020"/>
<circle cx="256.18" cy="235.19" r="0.75" fill="#8c1020"/>
<circle cx="254.46" cy="234.26" r="0.75" fill="#8c1020"/>
<circle cx="265.67" cy="232.76" r="0.75" fill="#8c1020"/>
<circle cx="263.35" cy="233.08" r="0.75" fill="#8c1020"/>
<circle cx="255.84" cy="233.75" r="0.75" fill="#8c1020"/>
<circle cx="271.46" cy="233.41" r="0.75" fill="#8c1020"/>
<circle cx="272.36" cy="234.62" r="0.75" fill="#8c1020"/>
<circle cx="257.53" cy="233.80" r="0.75" fill="#8c1020"/>
<circle cx="254.59" cy="234.01" r="0.75" fill="#8c1020"/>
<circle cx="257.72" cy="232.98" r="0.75" fill="#8c1020"/>
<circle cx="256.56" cy="233.27" r="0.75" fill="#8c1020"/>
<line x1="274.30" y1="245.66" x2="282.40" y2="245.66" stroke="#5fae3c" stroke-width="1.7"/>
<line x1="274.30" y1="233.66" x2="282.40" y2="233.66" stroke="#a0141e" stroke-width="1.7"/>
<circle cx="279.25" cy="234.57" r="0.75" fill="#8c1020"/>
<circle cx="275.15" cy="232.59" r="0.75" fill="#8c1020"/>
<circle cx="274.20" cy="234.76" r="0.75" fill="#8c1020"/>
<circle cx="280.26" cy="234.69" r="0.75" fill="#8c1020"/>
<circle cx="279.84" cy="234.00" r="0.75" fill="#8c1020"/>
<circle cx="276.62" cy="233.63" r="0.75" fill="#8c1020"/>
<circle cx="275.78" cy="233.36" r="0.75" fill="#8c1020"/>
<circle cx="282.37" cy="232.18" r="0.75" fill="#8c1020"/>
<circle cx="278.81" cy="232.54" r="0.75" fill="#8c1020"/>
<circle cx="274.05" cy="234.20" r="0.75" fill="#8c1020"/>
<circle cx="276.68" cy="233.87" r="0.75" fill="#8c1020"/>
<line x1="283.60" y1="245.18" x2="284.40" y2="245.18" stroke="#5fae3c" stroke-width="1.7"/>
<line x1="283.60" y1="240.38" x2="284.40" y2="240.38" stroke="#a0141e" stroke-width="1.7"/>
<circle cx="284.63" cy="239.95" r="0.75" fill="#8c1020"/>
<circle cx="284.14" cy="239.70" r="0.75" fill="#8c1020"/>
<line x1="285.60" y1="245.66" x2="291.20" y2="245.66" stroke="#5fae3c" stroke-width="1.7"/>
<line x1="285.60" y1="233.66" x2="291.20" y2="233.66" stroke="#a0141e" stroke-width="1.7"/>
<circle cx="290.78" cy="233.01" r="0.75" fill="#8c1020"/>
<circle cx="287.64" cy="234.25" r="0.75" fill="#8c1020"/>
<circle cx="290.30" cy="234.45" r="0.75" fill="#8c1020"/>
<circle cx="286.67" cy="232.21" r="0.75" fill="#8c1020"/>
<circle cx="286.98" cy="234.46" r="0.75" fill="#8c1020"/>
<circle cx="286.13" cy="233.42" r="0.75" fill="#8c1020"/>
<circle cx="287.19" cy="233.96" r="0.75" fill="#8c1020"/>
<circle cx="288.03" cy="233.75" r="0.75" fill="#8c1020"/>
<line x1="292.40" y1="242.30" x2="309.40" y2="242.30" stroke="#a0141e" stroke-width="1.7"/>
<circle cx="306.02" cy="241.67" r="0.75" fill="#8c1020"/>
<circle cx="300.63" cy="242.46" r="0.75" fill="#8c1020"/>
<circle cx="303.09" cy="242.43" r="0.75" fill="#8c1020"/>
<circle cx="304.56" cy="241.06" r="0.75" fill="#8c1020"/>
<circle cx="299.16" cy="242.74" r="0.75" fill="#8c1020"/>
<circle cx="308.16" cy="242.99" r="0.75" fill="#8c1020"/>
<circle cx="308.53" cy="242.96" r="0.75" fill="#8c1020"/>
<circle cx="299.58" cy="243.29" r="0.75" fill="#8c1020"/>
<circle cx="295.35" cy="242.77" r="0.75" fill="#8c1020"/>
<circle cx="308.77" cy="242.21" r="0.75" fill="#8c1020"/>
<circle cx="303.60" cy="242.31" r="0.75" fill="#8c1020"/>
<circle cx="307.95" cy="243.21" r="0.75" fill="#8c1020"/>
<circle cx="296.74" cy="242.09" r="0.75" fill="#8c1020"/>
<circle cx="297.06" cy="242.59" r="0.75" fill="#8c1020"/>
<circle cx="302.54" cy="242.63" r="0.75" fill="#8c1020"/>
<circle cx="306.31" cy="241.79" r="0.75" fill="#8c1020"/>
<circle cx="307.45" cy="241.90" r="0.75" fill="#8c1020"/>
<circle cx="294.53" cy="243.48" r="0.75" fill="#8c1020"/>
<circle cx="301.82" cy="240.92" r="0.75" fill="#8c1020"/>
<circle cx="304.43" cy="241.72" r="0.75" fill="#8c1020"/>
<circle cx="295.09" cy="242.15" r="0.75" fill="#8c1020"/>
<line x1="310.60" y1="242.30" x2="326.70" y2="242.30" stroke="#a0141e" stroke-width="1.7"/>
<circle cx="326.51" cy="242.02" r="0.75" fill="#8c1020"/>
<circle cx="317.57" cy="241.00" r="0.75" fill="#8c1020"/>
<circle cx="322.21" cy="242.57" r="0.75" fill="#8c1020"/>
<circle cx="317.59" cy="242.54" r="0.75" fill="#8c1020"/>
<circle cx="313.18" cy="241.97" r="0.75" fill="#8c1020"/>
<circle cx="325.28" cy="241.88" r="0.75" fill="#8c1020"/>
<circle cx="317.55" cy="243.22" r="0.75" fill="#8c1020"/>
<circle cx="314.94" cy="243.21" r="0.75" fill="#8c1020"/>
<circle cx="324.34" cy="242.96" r="0.75" fill="#8c1020"/>
<circle cx="312.99" cy="241.91" r="0.75" fill="#8c1020"/>
<circle cx="321.08" cy="242.06" r="0.75" fill="#8c1020"/>
<circle cx="318.42" cy="243.89" r="0.75" fill="#8c1020"/>
<circle cx="324.85" cy="243.44" r="0.75" fill="#8c1020"/>
<circle cx="317.72" cy="243.08" r="0.75" fill="#8c1020"/>
<circle cx="312.00" cy="241.65" r="0.75" fill="#8c1020"/>
<circle cx="317.57" cy="243.50" r="0.75" fill="#8c1020"/>
<circle cx="320.83" cy="240.65" r="0.75" fill="#8c1020"/>
<circle cx="320.23" cy="242.70" r="0.75" fill="#8c1020"/>
<circle cx="316.09" cy="242.14" r="0.75" fill="#8c1020"/>
<circle cx="312.04" cy="242.99" r="0.75" fill="#8c1020"/>
<line x1="327.90" y1="242.30" x2="343.10" y2="242.30" stroke="#a0141e" stroke-width="1.7"/>
<circle cx="330.09" cy="240.45" r="0.75" fill="#8c1020"/>
<circle cx="332.45" cy="242.28" r="0.75" fill="#8c1020"/>
<circle cx="340.26" cy="243.58" r="0.75" fill="#8c1020"/>
<circle cx="328.55" cy="240.96" r="0.75" fill="#8c1020"/>
<circle cx="330.72" cy="241.64" r="0.75" fill="#8c1020"/>
<circle cx="330.85" cy="242.25" r="0.75" fill="#8c1020"/>
<circle cx="331.75" cy="243.62" r="0.75" fill="#8c1020"/>
<circle cx="330.48" cy="243.87" r="0.75" fill="#8c1020"/>
<circle cx="331.13" cy="242.30" r="0.75" fill="#8c1020"/>
<circle cx="331.43" cy="242.82" r="0.75" fill="#8c1020"/>
<circle cx="339.52" cy="241.80" r="0.75" fill="#8c1020"/>
<circle cx="341.24" cy="243.18" r="0.75" fill="#8c1020"/>
<circle cx="334.75" cy="243.07" r="0.75" fill="#8c1020"/>
<circle cx="335.35" cy="242.80" r="0.75" fill="#8c1020"/>
<circle cx="333.14" cy="242.37" r="0.75" fill="#8c1020"/>
<circle cx="332.55" cy="241.52" r="0.75" fill="#8c1020"/>
<circle cx="336.03" cy="242.96" r="0.75" fill="#8c1020"/>
<circle cx="331.14" cy="241.45" r="0.75" fill="#8c1020"/>
<circle cx="340.37" cy="242.78" r="0.75" fill="#8c1020"/>
<line x1="344.30" y1="242.30" x2="345.40" y2="242.30" stroke="#a0141e" stroke-width="1.7"/>
<circle cx="345.27" cy="241.89" r="0.75" fill="#8c1020"/>
<circle cx="344.90" cy="241.47" r="0.75" fill="#8c1020"/>
<line x1="346.60" y1="242.30" x2="361.00" y2="242.30" stroke="#a0141e" stroke-width="1.7"/>
<circle cx="357.66" cy="242.10" r="0.75" fill="#8c1020"/>
<circle cx="359.89" cy="243.60" r="0.75" fill="#8c1020"/>
<circle cx="358.61" cy="242.35" r="0.75" fill="#8c1020"/>
<circle cx="349.54" cy="242.52" r="0.75" fill="#8c1020"/>
<circle cx="360.59" cy="244.17" r="0.75" fill="#8c1020"/>
<circle cx="353.93" cy="240.98" r="0.75" fill="#8c1020"/>
<circle cx="348.08" cy="241.70" r="0.75" fill="#8c1020"/>
<circle cx="352.76" cy="240.92" r="0.75" fill="#8c1020"/>
<circle cx="346.43" cy="242.25" r="0.75" fill="#8c1020"/>
<circle cx="348.67" cy="243.11" r="0.75" fill="#8c1020"/>
<circle cx="349.19" cy="242.89" r="0.75" fill="#8c1020"/>
<circle cx="352.81" cy="241.00" r="0.75" fill="#8c1020"/>
<circle cx="355.83" cy="242.66" r="0.75" fill="#8c1020"/>
<circle cx="352.20" cy="242.14" r="0.75" fill="#8c1020"/>
<circle cx="346.34" cy="242.10" r="0.75" fill="#8c1020"/>
<circle cx="357.10" cy="242.96" r="0.75" fill="#8c1020"/>
<circle cx="354.10" cy="242.33" r="0.75" fill="#8c1020"/>
<circle cx="347.03" cy="242.56" r="0.75" fill="#8c1020"/>
<line x1="362.20" y1="249.98" x2="376.30" y2="249.98" stroke="#5fae3c" stroke-width="1.7"/>
<line x1="362.20" y1="233.66" x2="376.30" y2="233.66" stroke="#a0141e" stroke-width="1.7"/>
<circle cx="363.06" cy="234.22" r="0.75" fill="#8c1020"/>
<circle cx="373.59" cy="233.82" r="0.75" fill="#8c1020"/>
<circle cx="372.02" cy="233.82" r="0.75" fill="#8c1020"/>
<circle cx="371.34" cy="233.92" r="0.75" fill="#8c1020"/>
<circle cx="376.53" cy="233.29" r="0.75" fill="#8c1020"/>
<circle cx="375.37" cy="234.82" r="0.75" fill="#8c1020"/>
<circle cx="372.26" cy="232.92" r="0.75" fill="#8c1020"/>
<circle cx="372.78" cy="233.00" r="0.75" fill="#8c1020"/>
<circle cx="375.06" cy="234.24" r="0.75" fill="#8c1020"/>
<circle cx="369.06" cy="234.19" r="0.75" fill="#8c1020"/>
<circle cx="368.43" cy="234.91" r="0.75" fill="#8c1020"/>
<circle cx="367.49" cy="234.65" r="0.75" fill="#8c1020"/>
<circle cx="364.84" cy="232.56" r="0.75" fill="#8c1020"/>
<circle cx="367.47" cy="233.80" r="0.75" fill="#8c1020"/>
<circle cx="369.53" cy="232.42" r="0.75" fill="#8c1020"/>
<circle cx="370.52" cy="233.20" r="0.75" fill="#8c1020"/>
<circle cx="371.48" cy="233.53" r="0.75" fill="#8c1020"/>
<circle cx="364.16" cy="235.25" r="0.75" fill="#8c1020"/>
<line x1="377.50" y1="242.30" x2="390.40" y2="242.30" stroke="#a0141e" stroke-width="1.7"/>
<circle cx="382.46" cy="241.79" r="0.75" fill="#8c1020"/>
<circle cx="385.34" cy="241.88" r="0.75" fill="#8c1020"/>
<circle cx="379.51" cy="242.63" r="0.75" fill="#8c1020"/>
<circle cx="388.51" cy="242.75" r="0.75" fill="#8c1020"/>
<circle cx="378.86" cy="242.59" r="0.75" fill="#8c1020"/>
<circle cx="385.49" cy="242.33" r="0.75" fill="#8c1020"/>
<circle cx="386.16" cy="242.68" r="0.75" fill="#8c1020"/>
<circle cx="383.14" cy="240.81" r="0.75" fill="#8c1020"/>
<circle cx="387.50" cy="243.31" r="0.75" fill="#8c1020"/>
<circle cx="382.67" cy="243.05" r="0.75" fill="#8c1020"/>
<circle cx="384.03" cy="242.83" r="0.75" fill="#8c1020"/>
<circle cx="382.12" cy="241.14" r="0.75" fill="#8c1020"/>
<circle cx="387.98" cy="242.44" r="0.75" fill="#8c1020"/>
<circle cx="384.00" cy="242.39" r="0.75" fill="#8c1020"/>
<circle cx="385.82" cy="242.65" r="0.75" fill="#8c1020"/>
<circle cx="385.36" cy="241.49" r="0.75" fill="#8c1020"/>
<line x1="391.60" y1="249.98" x2="395.40" y2="249.98" stroke="#5fae3c" stroke-width="1.7"/>
<line x1="391.60" y1="233.66" x2="395.40" y2="233.66" stroke="#a0141e" stroke-width="1.7"/>
<circle cx="391.61" cy="233.21" r="0.75" fill="#8c1020"/>
<circle cx="393.24" cy="235.45" r="0.75" fill="#8c1020"/>
<circle cx="393.88" cy="232.97" r="0.75" fill="#8c1020"/>
<circle cx="393.78" cy="235.33" r="0.75" fill="#8c1020"/>
<circle cx="395.60" cy="232.67" r="0.75" fill="#8c1020"/>
<circle cx="392.64" cy="233.39" r="0.75" fill="#8c1020"/>
<line x1="396.60" y1="242.30" x2="402.40" y2="242.30" stroke="#a0141e" stroke-width="1.7"/>
<circle cx="396.67" cy="242.86" r="0.75" fill="#8c1020"/>
<circle cx="399.96" cy="242.78" r="0.75" fill="#8c1020"/>
<circle cx="397.68" cy="243.03" r="0.75" fill="#8c1020"/>
<circle cx="400.64" cy="241.11" r="0.75" fill="#8c1020"/>
<circle cx="398.15" cy="242.17" r="0.75" fill="#8c1020"/>
<circle cx="399.22" cy="242.23" r="0.75" fill="#8c1020"/>
<circle cx="398.38" cy="241.35" r="0.75" fill="#8c1020"/>
<circle cx="399.56" cy="241.99" r="0.75" fill="#8c1020"/>
<line x1="403.60" y1="246.14" x2="414.20" y2="246.14" stroke="#5fae3c" stroke-width="1.7"/>
<line x1="403.60" y1="238.46" x2="414.20" y2="238.46" stroke="#a0141e" stroke-width="1.7"/>
<circle cx="404.35" cy="237.82" r="0.75" fill="#8c1020"/>
<circle cx="407.43" cy="238.39" r="0.75" fill="#8c1020"/>
<circle cx="406.85" cy="238.75" r="0.75" fill="#8c1020"/>
<circle cx="406.75" cy="237.96" r="0.75" fill="#8c1020"/>
<circle cx="406.07" cy="239.18" r="0.75" fill="#8c1020"/>
<circle cx="409.97" cy="238.03" r="0.75" fill="#8c1020"/>
<circle cx="410.00" cy="238.50" r="0.75" fill="#8c1020"/>
<circle cx="408.51" cy="239.21" r="0.75" fill="#8c1020"/>
<circle cx="413.90" cy="239.24" r="0.75" fill="#8c1020"/>
<circle cx="404.81" cy="237.47" r="0.75" fill="#8c1020"/>
<circle cx="409.43" cy="239.34" r="0.75" fill="#8c1020"/>
<circle cx="403.47" cy="239.38" r="0.75" fill="#8c1020"/>
<circle cx="406.18" cy="238.27" r="0.75" fill="#8c1020"/>
<circle cx="411.03" cy="237.83" r="0.75" fill="#8c1020"/>
<line x1="415.40" y1="243.26" x2="424.00" y2="243.26" stroke="#5fae3c" stroke-width="1.7"/>
<line x1="415.40" y1="241.34" x2="424.00" y2="241.34" stroke="#a0141e" stroke-width="1.7"/>
<circle cx="423.65" cy="240.99" r="0.75" fill="#8c1020"/>
<circle cx="421.09" cy="241.60" r="0.75" fill="#8c1020"/>
<circle cx="417.86" cy="241.48" r="0.75" fill="#8c1020"/>
<circle cx="421.01" cy="240.92" r="0.75" fill="#8c1020"/>
<circle cx="419.96" cy="240.04" r="0.75" fill="#8c1020"/>
<circle cx="423.91" cy="242.06" r="0.75" fill="#8c1020"/>
<circle cx="418.71" cy="241.16" r="0.75" fill="#8c1020"/>
<circle cx="421.23" cy="240.92" r="0.75" fill="#8c1020"/>
<circle cx="420.27" cy="241.91" r="0.75" fill="#8c1020"/>
<circle cx="421.16" cy="241.25" r="0.75" fill="#8c1020"/>
<circle cx="418.78" cy="240.79" r="0.75" fill="#8c1020"/>
<line x1="425.20" y1="242.30" x2="433.90" y2="242.30" stroke="#a0141e" stroke-width="1.7"/>
<circle cx="426.21" cy="242.72" r="0.75" fill="#8c1020"/>
<circle cx="429.66" cy="241.83" r="0.75" fill="#8c1020"/>
<circle cx="425.24" cy="243.06" r="0.75" fill="#8c1020"/>
<circle cx="425.66" cy="242.19" r="0.75" fill="#8c1020"/>
<circle cx="430.09" cy="242.05" r="0.75" fill="#8c1020"/>
<circle cx="426.50" cy="241.53" r="0.75" fill="#8c1020"/>
<circle cx="433.20" cy="243.24" r="0.75" fill="#8c1020"/>
<circle cx="429.17" cy="241.83" r="0.75" fill="#8c1020"/>
<circle cx="434.05" cy="243.12" r="0.75" fill="#8c1020"/>
<circle cx="433.18" cy="242.65" r="0.75" fill="#8c1020"/>
<circle cx="426.54" cy="243.10" r="0.75" fill="#8c1020"/>
<line x1="435.10" y1="242.30" x2="442.00" y2="242.30" stroke="#a0141e" stroke-width="1.7"/>
<circle cx="435.46" cy="242.97" r="0.75" fill="#8c1020"/>
<circle cx="438.39" cy="241.76" r="0.75" fill="#8c1020"/>
<circle cx="441.29" cy="241.91" r="0.75" fill="#8c1020"/>
<circle cx="438.93" cy="242.24" r="0.75" fill="#8c1020"/>
<circle cx="442.14" cy="243.01" r="0.75" fill="#8c1020"/>
<circle cx="436.96" cy="240.58" r="0.75" fill="#8c1020"/>
<circle cx="435.42" cy="242.73" r="0.75" fill="#8c1020"/>
<circle cx="441.92" cy="243.81" r="0.75" fill="#8c1020"/>
<circle cx="436.45" cy="241.56" r="0.75" fill="#8c1020"/>
<line x1="443.20" y1="243.26" x2="450.20" y2="243.26" stroke="#5fae3c" stroke-width="1.7"/>
<line x1="443.20" y1="241.34" x2="450.20" y2="241.34" stroke="#a0141e" stroke-width="1.7"/>
<circle cx="447.70" cy="241.50" r="0.75" fill="#8c1020"/>
<circle cx="448.88" cy="242.74" r="0.75" fill="#8c1020"/>
<circle cx="445.96" cy="242.28" r="0.75" fill="#8c1020"/>
<circle cx="444.73" cy="240.69" r="0.75" fill="#8c1020"/>
<circle cx="446.09" cy="240.91" r="0.75" fill="#8c1020"/>
<circle cx="447.97" cy="241.98" r="0.75" fill="#8c1020"/>
<circle cx="444.52" cy="241.75" r="0.75" fill="#8c1020"/>
<circle cx="443.34" cy="241.18" r="0.75" fill="#8c1020"/>
<circle cx="449.31" cy="241.26" r="0.75" fill="#8c1020"/>
<line x1="451.40" y1="246.14" x2="456.40" y2="246.14" stroke="#5fae3c" stroke-width="1.7"/>
<line x1="451.40" y1="238.46" x2="456.40" y2="238.46" stroke="#a0141e" stroke-width="1.7"/>
<circle cx="455.38" cy="237.63" r="0.75" fill="#8c1020"/>
<circle cx="454.39" cy="237.93" r="0.75" fill="#8c1020"/>
<circle cx="456.05" cy="238.07" r="0.75" fill="#8c1020"/>
<circle cx="453.33" cy="238.50" r="0.75" fill="#8c1020"/>
<circle cx="456.11" cy="237.83" r="0.75" fill="#8c1020"/>
<circle cx="452.00" cy="238.61" r="0.75" fill="#8c1020"/>
<circle cx="451.60" cy="239.68" r="0.75" fill="#8c1020"/>
<line x1="457.60" y1="242.30" x2="462.20" y2="242.30" stroke="#a0141e" stroke-width="1.7"/>
<circle cx="460.75" cy="242.17" r="0.75" fill="#8c1020"/>
<circle cx="459.05" cy="241.88" r="0.75" fill="#8c1020"/>
<circle cx="458.81" cy="242.49" r="0.75" fill="#8c1020"/>
<circle cx="460.85" cy="243.09" r="0.75" fill="#8c1020"/>
<circle cx="459.94" cy="242.54" r="0.75" fill="#8c1020"/>
<circle cx="457.50" cy="242.27" r="0.75" fill="#8c1020"/>
<line x1="95.6" y1="242.30" x2="482.6" y2="242.30" stroke="#111" stroke-width="0.9"/>
<line x1="95.6" y1="173.6" x2="95.6" y2="253.9" stroke="#111" stroke-width="1.1" stroke-dasharray="3,2.2"/>
<line x1="127.3" y1="173.6" x2="127.3" y2="253.9" stroke="#111" stroke-width="1.1" stroke-dasharray="3,2.2"/>
<line x1="157.5" y1="173.6" x2="157.5" y2="253.9" stroke="#111" stroke-width="1.1" stroke-dasharray="3,2.2"/>
<line x1="183.7" y1="173.6" x2="183.7" y2="253.9" stroke="#111" stroke-width="1.1" stroke-dasharray="3,2.2"/>
<line x1="208.0" y1="173.6" x2="208.0" y2="253.9" stroke="#111" stroke-width="1.1" stroke-dasharray="3,2.2"/>
<line x1="231.5" y1="173.6" x2="231.5" y2="253.9" stroke="#111" stroke-width="1.1" stroke-dasharray="3,2.2"/>
<line x1="252.5" y1="173.6" x2="252.5" y2="253.9" stroke="#111" stroke-width="1.1" stroke-dasharray="3,2.2"/>
<line x1="273.7" y1="173.6" x2="273.7" y2="253.9" stroke="#111" stroke-width="1.1" stroke-dasharray="3,2.2"/>
<line x1="291.8" y1="173.6" x2="291.8" y2="253.9" stroke="#111" stroke-width="1.1" stroke-dasharray="3,2.2"/>
<line x1="310.0" y1="173.6" x2="310.0" y2="253.9" stroke="#111" stroke-width="1.1" stroke-dasharray="3,2.2"/>
<line x1="327.3" y1="173.6" x2="327.3" y2="253.9" stroke="#111" stroke-width="1.1" stroke-dasharray="3,2.2"/>
<line x1="343.7" y1="173.6" x2="343.7" y2="253.9" stroke="#111" stroke-width="1.1" stroke-dasharray="3,2.2"/>
<line x1="361.6" y1="173.6" x2="361.6" y2="253.9" stroke="#111" stroke-width="1.1" stroke-dasharray="3,2.2"/>
<line x1="376.9" y1="173.6" x2="376.9" y2="253.9" stroke="#111" stroke-width="1.1" stroke-dasharray="3,2.2"/>
<line x1="391.0" y1="173.6" x2="391.0" y2="253.9" stroke="#111" stroke-width="1.1" stroke-dasharray="3,2.2"/>
<line x1="403.0" y1="173.6" x2="403.0" y2="253.9" stroke="#111" stroke-width="1.1" stroke-dasharray="3,2.2"/>
<line x1="414.8" y1="173.6" x2="414.8" y2="253.9" stroke="#111" stroke-width="1.1" stroke-dasharray="3,2.2"/>
<line x1="424.6" y1="173.6" x2="424.6" y2="253.9" stroke="#111" stroke-width="1.1" stroke-dasharray="3,2.2"/>
<line x1="434.5" y1="173.6" x2="434.5" y2="253.9" stroke="#111" stroke-width="1.1" stroke-dasharray="3,2.2"/>
<line x1="442.6" y1="173.6" x2="442.6" y2="253.9" stroke="#111" stroke-width="1.1" stroke-dasharray="3,2.2"/>
<line x1="450.8" y1="173.6" x2="450.8" y2="253.9" stroke="#111" stroke-width="1.1" stroke-dasharray="3,2.2"/>
<line x1="457.0" y1="173.6" x2="457.0" y2="253.9" stroke="#111" stroke-width="1.1" stroke-dasharray="3,2.2"/>
<line x1="462.8" y1="173.6" x2="462.8" y2="253.9" stroke="#111" stroke-width="1.1" stroke-dasharray="3,2.2"/>
<line x1="482.6" y1="173.6" x2="482.6" y2="253.9" stroke="#111" stroke-width="1.1" stroke-dasharray="3,2.2"/>
<rect x="79.2" y="173.6" width="419.3" height="80.30000000000001" fill="none" stroke="#111" stroke-width="1"/>
<line x1="76.6" y1="176.2" x2="79.2" y2="176.2" stroke="#111" stroke-width="0.9"/>
<text x="70.8" y="178.50" text-anchor="middle" font-size="6.6">4</text>
<line x1="76.6" y1="194.6" x2="79.2" y2="194.6" stroke="#111" stroke-width="0.9"/>
<text x="70.8" y="196.90" text-anchor="middle" font-size="6.6">2</text>
<line x1="76.6" y1="213.7" x2="79.2" y2="213.7" stroke="#111" stroke-width="0.9"/>
<text x="70.8" y="216.00" text-anchor="middle" font-size="6.6">0</text>
<line x1="76.6" y1="232.9" x2="79.2" y2="232.9" stroke="#111" stroke-width="0.9"/>
<text x="70.8" y="235.20" text-anchor="middle" font-size="6.6">2</text>
<line x1="76.6" y1="242.2" x2="79.2" y2="242.2" stroke="#111" stroke-width="0.9"/>
<text x="70.8" y="244.50" text-anchor="middle" font-size="6.6">1</text>
<line x1="76.6" y1="251.9" x2="79.2" y2="251.9" stroke="#111" stroke-width="0.9"/>
<text x="70.8" y="254.20" text-anchor="middle" font-size="6.6">0</text>
<line x1="95.6" y1="253.9" x2="95.6" y2="255.9" stroke="#111" stroke-width="0.8"/>
<line x1="127.3" y1="253.9" x2="127.3" y2="255.9" stroke="#111" stroke-width="0.8"/>
<line x1="157.5" y1="253.9" x2="157.5" y2="255.9" stroke="#111" stroke-width="0.8"/>
<line x1="183.7" y1="253.9" x2="183.7" y2="255.9" stroke="#111" stroke-width="0.8"/>
<line x1="208.0" y1="253.9" x2="208.0" y2="255.9" stroke="#111" stroke-width="0.8"/>
<line x1="231.5" y1="253.9" x2="231.5" y2="255.9" stroke="#111" stroke-width="0.8"/>
<line x1="252.5" y1="253.9" x2="252.5" y2="255.9" stroke="#111" stroke-width="0.8"/>
<line x1="273.7" y1="253.9" x2="273.7" y2="255.9" stroke="#111" stroke-width="0.8"/>
<line x1="291.8" y1="253.9" x2="291.8" y2="255.9" stroke="#111" stroke-width="0.8"/>
<line x1="310.0" y1="253.9" x2="310.0" y2="255.9" stroke="#111" stroke-width="0.8"/>
<line x1="327.3" y1="253.9" x2="327.3" y2="255.9" stroke="#111" stroke-width="0.8"/>
<line x1="343.7" y1="253.9" x2="343.7" y2="255.9" stroke="#111" stroke-width="0.8"/>
<line x1="361.6" y1="253.9" x2="361.6" y2="255.9" stroke="#111" stroke-width="0.8"/>
<line x1="376.9" y1="253.9" x2="376.9" y2="255.9" stroke="#111" stroke-width="0.8"/>
<line x1="391.0" y1="253.9" x2="391.0" y2="255.9" stroke="#111" stroke-width="0.8"/>
<line x1="403.0" y1="253.9" x2="403.0" y2="255.9" stroke="#111" stroke-width="0.8"/>
<line x1="414.8" y1="253.9" x2="414.8" y2="255.9" stroke="#111" stroke-width="0.8"/>
<line x1="424.6" y1="253.9" x2="424.6" y2="255.9" stroke="#111" stroke-width="0.8"/>
<line x1="434.5" y1="253.9" x2="434.5" y2="255.9" stroke="#111" stroke-width="0.8"/>
<line x1="442.6" y1="253.9" x2="442.6" y2="255.9" stroke="#111" stroke-width="0.8"/>
<line x1="450.8" y1="253.9" x2="450.8" y2="255.9" stroke="#111" stroke-width="0.8"/>
<line x1="457.0" y1="253.9" x2="457.0" y2="255.9" stroke="#111" stroke-width="0.8"/>
<line x1="462.8" y1="253.9" x2="462.8" y2="255.9" stroke="#111" stroke-width="0.8"/>
<line x1="482.6" y1="253.9" x2="482.6" y2="255.9" stroke="#111" stroke-width="0.8"/>
<text x="111.45" y="264.8" text-anchor="middle" font-size="7.8">1</text>
<text x="142.40" y="264.8" text-anchor="middle" font-size="7.8">2</text>
<text x="170.60" y="264.8" text-anchor="middle" font-size="7.8">3</text>
<text x="195.85" y="264.8" text-anchor="middle" font-size="7.8">4</text>
<text x="219.75" y="264.8" text-anchor="middle" font-size="7.8">5</text>
<text x="242.00" y="264.8" text-anchor="middle" font-size="7.8">6</text>
<text x="263.10" y="264.8" text-anchor="middle" font-size="7.8">7</text>
<text x="282.75" y="264.8" text-anchor="middle" font-size="7.8">8</text>
<text x="300.90" y="264.8" text-anchor="middle" font-size="7.8">9</text>
<text x="318.65" y="264.8" text-anchor="middle" font-size="7.8">10</text>
<text x="335.50" y="264.8" text-anchor="middle" font-size="7.8">11</text>
<text x="352.65" y="264.8" text-anchor="middle" font-size="7.8">12</text>
<text x="369.25" y="264.8" text-anchor="middle" font-size="7.8">13</text>
<text x="383.95" y="264.8" text-anchor="middle" font-size="7.8">14</text>
<text x="397.00" y="264.8" text-anchor="middle" font-size="7.8">15</text>
<text x="408.90" y="264.8" text-anchor="middle" font-size="7.8">16</text>
<text x="419.70" y="264.8" text-anchor="middle" font-size="7.8">17</text>
<text x="429.55" y="264.8" text-anchor="middle" font-size="7.8">18</text>
<text x="438.55" y="273.6" text-anchor="middle" font-size="7.8">19</text>
<text x="446.70" y="264.8" text-anchor="middle" font-size="7.8">20</text>
<text x="453.90" y="273.6" text-anchor="middle" font-size="7.8">21</text>
<text x="459.90" y="264.8" text-anchor="middle" font-size="7.8">22</text>
<text x="472.70" y="264.8" text-anchor="middle" font-size="7.8">X</text>
<text x="260.8" y="287.2" font-size="9" textLength="56" lengthAdjust="spacingAndGlyphs">Chromosomes</text>
<text x="132.3" y="168.3" font-size="8.8" textLength="313" lengthAdjust="spacingAndGlyphs">Conventional karyotyping: 42,X,Y,add(5)(q11.2),-7,dic(12;18)(p11.2;p11.1),-13,-21</text>
<text x="34.5" y="192.1" text-anchor="middle" font-size="8.7" textLength="15.6" lengthAdjust="spacingAndGlyphs">Total</text>
<text x="34.4" y="201.9" text-anchor="middle" font-size="8.7" textLength="48.4" lengthAdjust="spacingAndGlyphs">copy numbers</text>
<text x="34.4" y="225.8" text-anchor="middle" font-size="8.7" textLength="43" lengthAdjust="spacingAndGlyphs">Hetero SNPs</text>
<text x="34.4" y="240.5" text-anchor="middle" font-size="8.7" textLength="47" lengthAdjust="spacingAndGlyphs">Allele-specific</text>
<text x="34.4" y="249.8" text-anchor="middle" font-size="8.7" textLength="48.4" lengthAdjust="spacingAndGlyphs">copy numbers</text>
<text x="8.0" y="167.0" font-size="10.5" font-weight="bold">B</text>
<text x="8.0" y="316.8" font-size="10.5" font-weight="bold">C</text>
<text x="24.5" y="315.6" fill="#2b4a87" style="stroke:#2b4a87;stroke-width:0.1px" font-weight="bold" font-size="7.2" textLength="65" lengthAdjust="spacingAndGlyphs"><tspan font-style="italic">TP53</tspan> mutation status</text>
<text x="24.5" y="345.6" fill="#2b4a87" style="stroke:#2b4a87;stroke-width:0.1px" font-weight="bold" font-size="7.2" textLength="71.7" lengthAdjust="spacingAndGlyphs">Metaphase karyotyping</text>
<text x="24.5" y="377.6" fill="#2b4a87" style="stroke:#2b4a87;stroke-width:0.1px" font-weight="bold" font-size="7.2" textLength="85" lengthAdjust="spacingAndGlyphs">Sequencing-based profiling</text>
<rect x="112" y="310.8" width="4.2" height="4.2" fill="#5e9fd8"/>
<text x="119" y="315.2" font-size="5.8" textLength="33" lengthAdjust="spacingAndGlyphs">One mutation</text>
<rect x="171.3" y="310.8" width="4.2" height="4.2" fill="#2d4d8c"/>
<text x="178.5" y="315.2" font-size="5.8" textLength="43.5" lengthAdjust="spacingAndGlyphs">Multiple mutations</text>
<text x="242.3" y="315.6" font-size="7" textLength="29.6" lengthAdjust="spacingAndGlyphs">Clone size</text>
<text x="277.6" y="315.6" font-size="7">0</text>
<defs><linearGradient id="gcs" x1="0" x2="1" y1="0" y2="0"><stop offset="0" stop-color="#f4f4f4"/><stop offset="1" stop-color="#000"/></linearGradient><linearGradient id="gcs2" x1="0" x2="1" y1="0" y2="0"><stop offset="0" stop-color="#1a1a1a"/><stop offset="0.5" stop-color="#555"/><stop offset="1" stop-color="#222"/></linearGradient></defs>
<rect x="284.6" y="310.7" width="30.8" height="5.2" fill="url(#gcs)"/>
<text x="319.4" y="315.6" font-size="7">1</text>
<rect x="320.2" y="372.4" width="0" height="0" fill="none"/>
<rect x="120.6" y="372.4" width="3.9" height="4.2" fill="#3d1f4f"/>
<text x="126.8" y="377.2" font-size="7.2" textLength="68" lengthAdjust="spacingAndGlyphs">Copy number gain/loss</text>
<rect x="213.3" y="372.4" width="4.6" height="4.6" fill="#a58bbd"/>
<text x="221" y="377.2" font-size="7.2" textLength="13.5" lengthAdjust="spacingAndGlyphs">UPD</text>
<rect x="24" y="318.8" width="76.5" height="18.8" fill="#dadada"/>
<rect x="24" y="348.6" width="76.5" height="18.8" fill="#dadada"/>
<rect x="24" y="380.5" width="76.5" height="78.2" fill="#dadada"/>
<text x="63" y="325.8" font-size="7" text-anchor="middle" font-style="italic" textLength="15" lengthAdjust="spacingAndGlyphs">TP53</text>
<text x="63" y="335" font-size="7" text-anchor="middle" textLength="29" lengthAdjust="spacingAndGlyphs">Clone size</text>
<text x="62.5" y="355.6" font-size="7" text-anchor="middle" textLength="70.5" lengthAdjust="spacingAndGlyphs">High-risk karyotype (HK)</text>
<text x="62.5" y="364.9" font-size="7" text-anchor="middle" textLength="70" lengthAdjust="spacingAndGlyphs">Complex karyotype (CK)</text>
<text x="62.5" y="386.90" font-size="7" text-anchor="middle" textLength="21" lengthAdjust="spacingAndGlyphs">CK-like</text>
<text x="62.5" y="396.85" font-size="7" text-anchor="middle" textLength="21.5" lengthAdjust="spacingAndGlyphs">17pLOH</text>
<text x="62.5" y="406.80" font-size="7" text-anchor="middle" textLength="20.5" lengthAdjust="spacingAndGlyphs">del(5q)</text>
<text x="62.5" y="416.75" font-size="7" text-anchor="middle" textLength="27" lengthAdjust="spacingAndGlyphs">-7/del(7q)</text>
<text x="62.5" y="426.70" font-size="7" text-anchor="middle" textLength="10.5" lengthAdjust="spacingAndGlyphs">+1q</text>
<text x="62.5" y="436.65" font-size="7" text-anchor="middle" textLength="7.5" lengthAdjust="spacingAndGlyphs">+8</text>
<text x="62.5" y="446.60" font-size="7" text-anchor="middle" textLength="23.5" lengthAdjust="spacingAndGlyphs">del(20q)</text>
<text x="62.5" y="456.55" font-size="7" text-anchor="middle" textLength="23" lengthAdjust="spacingAndGlyphs">del(12p)</text>
<rect x="101" y="319.2" width="138.1" height="8.7" fill="#6aa7df"/>
<rect x="138.3" y="319.2" width="5.50" height="8.7" fill="#3e63a6"/>
<rect x="148" y="319.2" width="3.60" height="8.7" fill="#3e63a6"/>
<rect x="167.3" y="319.2" width="2.20" height="8.7" fill="#3e63a6"/>
<rect x="184.7" y="319.2" width="4.40" height="8.7" fill="#3e63a6"/>
<rect x="222" y="319.2" width="3.00" height="8.7" fill="#3e63a6"/>
<rect x="226.4" y="319.2" width="1.50" height="8.7" fill="#3e63a6"/>
<rect x="229.3" y="319.2" width="2.20" height="8.7" fill="#3e63a6"/>
<rect x="239.1" y="319.2" width="260.2" height="8.7" fill="#e4e4e4"/>
<rect x="101.00" y="328.4" width="1.27" height="9.1" fill="#000000"/>
<rect x="102.22" y="328.4" width="1.28" height="9.1" fill="#1b1b1b"/>
<rect x="103.44" y="328.4" width="1.31" height="9.1" fill="#222222"/>
<rect x="104.70" y="328.4" width="1.31" height="9.1" fill="#262626"/>
<rect x="105.96" y="328.4" width="1.39" height="9.1" fill="#303030"/>
<rect x="107.30" y="328.4" width="1.16" height="9.1" fill="#242424"/>
<rect x="108.41" y="328.4" width="1.01" height="9.1" fill="#3a3a3a"/>
<rect x="109.37" y="328.4" width="0.48" height="9.1" fill="#0e0e0e"/>
<rect x="109.80" y="328.4" width="1.45" height="9.1" fill="#ffffff"/>
<rect x="111.20" y="328.4" width="1.63" height="9.1" fill="#3b3b3b"/>
<rect x="112.78" y="328.4" width="1.06" height="9.1" fill="#333333"/>
<rect x="113.79" y="328.4" width="0.96" height="9.1" fill="#454545"/>
<rect x="114.70" y="328.4" width="1.08" height="9.1" fill="#4b4b4b"/>
<rect x="115.73" y="328.4" width="1.12" height="9.1" fill="#656565"/>
<rect x="116.80" y="328.4" width="1.26" height="9.1" fill="#515151"/>
<rect x="118.01" y="328.4" width="1.54" height="9.1" fill="#2d2d2d"/>
<rect x="119.50" y="328.4" width="0.75" height="9.1" fill="#494949"/>
<rect x="120.20" y="328.4" width="0.85" height="9.1" fill="#888888"/>
<rect x="121.00" y="328.4" width="1.65" height="9.1" fill="#545454"/>
<rect x="122.60" y="328.4" width="1.65" height="9.1" fill="#626262"/>
<rect x="124.20" y="328.4" width="1.17" height="9.1" fill="#323232"/>
<rect x="125.32" y="328.4" width="1.11" height="9.1" fill="#4d4d4d"/>
<rect x="126.38" y="328.4" width="1.49" height="9.1" fill="#585858"/>
<rect x="127.81" y="328.4" width="1.23" height="9.1" fill="#5c5c5c"/>
<rect x="128.99" y="328.4" width="1.62" height="9.1" fill="#3e3e3e"/>
<rect x="130.56" y="328.4" width="1.54" height="9.1" fill="#5f5f5f"/>
<rect x="132.06" y="328.4" width="0.59" height="9.1" fill="#505050"/>
<rect x="132.60" y="328.4" width="1.28" height="9.1" fill="#c5c5c5"/>
<rect x="133.83" y="328.4" width="1.00" height="9.1" fill="#adadad"/>
<rect x="134.78" y="328.4" width="0.67" height="9.1" fill="#b3b3b3"/>
<rect x="135.40" y="328.4" width="1.01" height="9.1" fill="#2a2a2a"/>
<rect x="136.36" y="328.4" width="1.18" height="9.1" fill="#606060"/>
<rect x="137.49" y="328.4" width="1.03" height="9.1" fill="#333333"/>
<rect x="138.48" y="328.4" width="1.12" height="9.1" fill="#424242"/>
<rect x="139.55" y="328.4" width="1.51" height="9.1" fill="#404040"/>
<rect x="141.01" y="328.4" width="1.07" height="9.1" fill="#252525"/>
<rect x="142.03" y="328.4" width="1.08" height="9.1" fill="#333333"/>
<rect x="143.06" y="328.4" width="1.46" height="9.1" fill="#515151"/>
<rect x="144.48" y="328.4" width="1.03" height="9.1" fill="#535353"/>
<rect x="145.46" y="328.4" width="0.39" height="9.1" fill="#404040"/>
<rect x="145.80" y="328.4" width="1.45" height="9.1" fill="#ffffff"/>
<rect x="147.20" y="328.4" width="1.51" height="9.1" fill="#a0a0a0"/>
<rect x="148.66" y="328.4" width="1.16" height="9.1" fill="#9b9b9b"/>
<rect x="149.78" y="328.4" width="1.23" height="9.1" fill="#858585"/>
<rect x="150.95" y="328.4" width="0.40" height="9.1" fill="#898989"/>
<rect x="151.30" y="328.4" width="1.64" height="9.1" fill="#f6f6f6"/>
<rect x="152.89" y="328.4" width="1.10" height="9.1" fill="#f6f6f6"/>
<rect x="153.94" y="328.4" width="1.13" height="9.1" fill="#f6f6f6"/>
<rect x="155.02" y="328.4" width="0.53" height="9.1" fill="#f6f6f6"/>
<rect x="155.50" y="328.4" width="1.18" height="9.1" fill="#919191"/>
<rect x="156.63" y="328.4" width="1.02" height="9.1" fill="#a1a1a1"/>
<rect x="157.60" y="328.4" width="1.36" height="9.1" fill="#e0e0e0"/>
<rect x="158.91" y="328.4" width="1.12" height="9.1" fill="#cacaca"/>
<rect x="159.98" y="328.4" width="1.27" height="9.1" fill="#cfcfcf"/>
<rect x="161.20" y="328.4" width="1.62" height="9.1" fill="#bfbfbf"/>
<rect x="162.77" y="328.4" width="0.28" height="9.1" fill="#dedede"/>
<rect x="163.00" y="328.4" width="1.08" height="9.1" fill="#a3a3a3"/>
<rect x="164.03" y="328.4" width="1.52" height="9.1" fill="#afafaf"/>
<rect x="165.50" y="328.4" width="0.45" height="9.1" fill="#959595"/>
<rect x="165.90" y="328.4" width="0.65" height="9.1" fill="#ffffff"/>
<rect x="166.50" y="328.4" width="1.09" height="9.1" fill="#c4c4c4"/>
<rect x="167.54" y="328.4" width="1.11" height="9.1" fill="#8a8a8a"/>
<rect x="168.60" y="328.4" width="1.25" height="9.1" fill="#eaeaea"/>
<rect x="169.80" y="328.4" width="1.62" height="9.1" fill="#e9e9e9"/>
<rect x="171.37" y="328.4" width="1.12" height="9.1" fill="#e1e1e1"/>
<rect x="172.44" y="328.4" width="1.41" height="9.1" fill="#d5d5d5"/>
<rect x="173.80" y="328.4" width="1.37" height="9.1" fill="#d8d8d8"/>
<rect x="175.12" y="328.4" width="1.45" height="9.1" fill="#e9e9e9"/>
<rect x="176.52" y="328.4" width="1.00" height="9.1" fill="#dfdfdf"/>
<rect x="177.47" y="328.4" width="0.48" height="9.1" fill="#f7f7f7"/>
<rect x="177.90" y="328.4" width="1.38" height="9.1" fill="#292929"/>
<rect x="179.23" y="328.4" width="1.09" height="9.1" fill="#636363"/>
<rect x="180.27" y="328.4" width="0.88" height="9.1" fill="#303030"/>
<rect x="181.10" y="328.4" width="0.99" height="9.1" fill="#616161"/>
<rect x="182.04" y="328.4" width="1.07" height="9.1" fill="#363636"/>
<rect x="183.07" y="328.4" width="0.98" height="9.1" fill="#5f5f5f"/>
<rect x="184.70" y="328.4" width="1.20" height="9.1" fill="#a6a6a6"/>
<rect x="185.85" y="328.4" width="1.41" height="9.1" fill="#4f4f4f"/>
<rect x="187.21" y="328.4" width="1.43" height="9.1" fill="#6c6c6c"/>
<rect x="188.60" y="328.4" width="0.55" height="9.1" fill="#707070"/>
<rect x="189.10" y="328.4" width="0.96" height="9.1" fill="#fafafa"/>
<rect x="190.01" y="328.4" width="1.59" height="9.1" fill="#fafafa"/>
<rect x="191.55" y="328.4" width="1.44" height="9.1" fill="#fafafa"/>
<rect x="192.94" y="328.4" width="1.62" height="9.1" fill="#fafafa"/>
<rect x="194.51" y="328.4" width="0.96" height="9.1" fill="#fafafa"/>
<rect x="195.43" y="328.4" width="0.32" height="9.1" fill="#fafafa"/>
<rect x="195.70" y="328.4" width="1.29" height="9.1" fill="#414141"/>
<rect x="196.94" y="328.4" width="1.65" height="9.1" fill="#303030"/>
<rect x="198.54" y="328.4" width="1.00" height="9.1" fill="#212121"/>
<rect x="199.49" y="328.4" width="1.58" height="9.1" fill="#393939"/>
<rect x="201.02" y="328.4" width="1.47" height="9.1" fill="#383838"/>
<rect x="202.44" y="328.4" width="0.61" height="9.1" fill="#1e1e1e"/>
<rect x="203.70" y="328.4" width="1.20" height="9.1" fill="#202020"/>
<rect x="204.85" y="328.4" width="1.20" height="9.1" fill="#070707"/>
<rect x="206.70" y="328.4" width="1.24" height="9.1" fill="#f5f5f5"/>
<rect x="207.89" y="328.4" width="0.96" height="9.1" fill="#f5f5f5"/>
<rect x="208.80" y="328.4" width="1.55" height="9.1" fill="#393939"/>
<rect x="210.30" y="328.4" width="1.22" height="9.1" fill="#474747"/>
<rect x="211.47" y="328.4" width="1.36" height="9.1" fill="#4e4e4e"/>
<rect x="212.78" y="328.4" width="1.27" height="9.1" fill="#4f4f4f"/>
<rect x="214.00" y="328.4" width="0.75" height="9.1" fill="#f5f5f5"/>
<rect x="214.70" y="328.4" width="1.35" height="9.1" fill="#ffffff"/>
<rect x="216.90" y="328.4" width="1.46" height="9.1" fill="#1e1e1e"/>
<rect x="218.31" y="328.4" width="1.36" height="9.1" fill="#515151"/>
<rect x="219.62" y="328.4" width="1.03" height="9.1" fill="#3e3e3e"/>
<rect x="221.20" y="328.4" width="1.48" height="9.1" fill="#6f6f6f"/>
<rect x="222.63" y="328.4" width="0.82" height="9.1" fill="#626262"/>
<rect x="224.00" y="328.4" width="1.11" height="9.1" fill="#2e2e2e"/>
<rect x="225.06" y="328.4" width="1.44" height="9.1" fill="#1e1e1e"/>
<rect x="226.45" y="328.4" width="0.70" height="9.1" fill="#3d3d3d"/>
<rect x="227.90" y="328.4" width="1.13" height="9.1" fill="#dedede"/>
<rect x="228.98" y="328.4" width="0.37" height="9.1" fill="#cdcdcd"/>
<rect x="230.00" y="328.4" width="1.09" height="9.1" fill="#515151"/>
<rect x="231.04" y="328.4" width="1.41" height="9.1" fill="#636363"/>
<rect x="232.40" y="328.4" width="0.45" height="9.1" fill="#494949"/>
<rect x="233.70" y="328.4" width="1.42" height="9.1" fill="#f4f4f4"/>
<rect x="235.07" y="328.4" width="1.09" height="9.1" fill="#f4f4f4"/>
<rect x="236.11" y="328.4" width="0.54" height="9.1" fill="#f4f4f4"/>
<rect x="236.60" y="328.4" width="1.51" height="9.1" fill="#8c8c8c"/>
<rect x="238.06" y="328.4" width="1.09" height="9.1" fill="#a8a8a8"/>
<rect x="101" y="347.8" width="398.3" height="8.6" fill="#d9d9d9"/>
<rect x="101" y="356.8" width="398.3" height="9.0" fill="#d9d9d9"/>
<rect x="101" y="347.8" width="94.2" height="8.6" fill="#4e8a6b"/>
<rect x="239.1" y="347.8" width="228.7" height="8.6" fill="#4e8a6b"/>
<rect x="101" y="356.8" width="76.9" height="9.0" fill="#76bd4e"/>
<rect x="239.1" y="356.8" width="107.7" height="9.0" fill="#76bd4e"/>
<rect x="217.5" y="347.5" width="1.70" height="18.6" fill="#fff"/>
<rect x="222.5" y="347.5" width="1.00" height="18.6" fill="#fff"/>
<rect x="236" y="347.5" width="3.10" height="18.6" fill="#fff"/>
<rect x="485" y="347.5" width="1.00" height="18.6" fill="#fff"/>
<rect x="489.6" y="347.5" width="1.00" height="18.6" fill="#fff"/>
<rect x="495" y="347.5" width="1.40" height="18.6" fill="#fff"/>
<rect x="101" y="381.00" width="398.3" height="8.9" fill="#e3e3e3"/>
<rect x="101" y="390.76" width="398.3" height="8.9" fill="#e3e3e3"/>
<rect x="101" y="400.52" width="398.3" height="8.9" fill="#e3e3e3"/>
<rect x="101" y="410.28" width="398.3" height="8.9" fill="#e3e3e3"/>
<rect x="101" y="420.04" width="398.3" height="8.9" fill="#e3e3e3"/>
<rect x="101" y="429.80" width="398.3" height="8.9" fill="#e3e3e3"/>
<rect x="101" y="439.56" width="398.3" height="8.9" fill="#e3e3e3"/>
<rect x="101" y="449.32" width="398.3" height="8.9" fill="#e3e3e3"/>
<rect x="154.5" y="380.70" width="1.50" height="77.82" fill="#fbfbfb"/>
<rect x="158.5" y="380.70" width="6.50" height="77.82" fill="#fbfbfb"/>
<rect x="170" y="380.70" width="1.50" height="77.82" fill="#fbfbfb"/>
<rect x="193.2" y="380.70" width="1.80" height="77.82" fill="#fbfbfb"/>
<rect x="215.3" y="380.70" width="1.30" height="77.82" fill="#fbfbfb"/>
<rect x="230.5" y="380.70" width="8.10" height="77.82" fill="#fbfbfb"/>
<rect x="289.6" y="380.70" width="1.40" height="77.82" fill="#fbfbfb"/>
<rect x="292" y="380.70" width="1.00" height="77.82" fill="#fbfbfb"/>
<rect x="298" y="380.70" width="1.00" height="77.82" fill="#fbfbfb"/>
<rect x="305.2" y="380.70" width="1.00" height="77.82" fill="#fbfbfb"/>
<rect x="337.5" y="380.70" width="1.00" height="77.82" fill="#fbfbfb"/>
<rect x="440.4" y="380.70" width="1.60" height="77.82" fill="#fbfbfb"/>
<rect x="445.3" y="380.70" width="2.50" height="77.82" fill="#fbfbfb"/>
<rect x="101" y="381.00" width="44.40" height="8.9" fill="#76498f"/>
<rect x="178.2" y="381.00" width="11.70" height="8.9" fill="#76498f"/>
<rect x="195.7" y="381.00" width="16.10" height="8.9" fill="#76498f"/>
<rect x="217.2" y="381.00" width="10.80" height="8.9" fill="#76498f"/>
<rect x="239.1" y="381.00" width="31.70" height="8.9" fill="#76498f"/>
<rect x="347.2" y="381.00" width="23.70" height="8.9" fill="#76498f"/>
<rect x="468.7" y="381.00" width="30.60" height="8.9" fill="#76498f"/>
<rect x="101" y="400.52" width="32.30" height="8.9" fill="#76498f"/>
<rect x="136" y="400.52" width="7.80" height="8.9" fill="#76498f"/>
<rect x="145.8" y="400.52" width="0.90" height="8.9" fill="#76498f"/>
<rect x="148.5" y="400.52" width="2.30" height="8.9" fill="#76498f"/>
<rect x="178" y="400.52" width="12.00" height="8.9" fill="#76498f"/>
<rect x="195.7" y="400.52" width="14.80" height="8.9" fill="#76498f"/>
<rect x="213.2" y="400.52" width="1.30" height="8.9" fill="#76498f"/>
<rect x="217" y="400.52" width="13.40" height="8.9" fill="#76498f"/>
<rect x="239" y="400.52" width="2.20" height="8.9" fill="#76498f"/>
<rect x="347.2" y="400.52" width="0.70" height="8.9" fill="#76498f"/>
<rect x="101" y="410.28" width="29.60" height="8.9" fill="#76498f"/>
<rect x="133.7" y="410.28" width="3.30" height="8.9" fill="#76498f"/>
<rect x="151.2" y="410.28" width="1.30" height="8.9" fill="#76498f"/>
<rect x="178" y="410.28" width="12.00" height="8.9" fill="#76498f"/>
<rect x="195.7" y="410.28" width="6.70" height="8.9" fill="#76498f"/>
<rect x="210.5" y="410.28" width="1.30" height="8.9" fill="#76498f"/>
<rect x="217.2" y="410.28" width="9.40" height="8.9" fill="#76498f"/>
<rect x="239" y="410.28" width="21.30" height="8.9" fill="#76498f"/>
<rect x="271.4" y="410.28" width="2.30" height="8.9" fill="#76498f"/>
<rect x="347.2" y="410.28" width="53.60" height="8.9" fill="#76498f"/>
<rect x="468.2" y="410.28" width="1.70" height="8.9" fill="#76498f"/>
<rect x="486.2" y="410.28" width="4.90" height="8.9" fill="#76498f"/>
<rect x="137.3" y="420.04" width="1.30" height="8.9" fill="#76498f"/>
<rect x="241.2" y="420.04" width="10.40" height="8.9" fill="#76498f"/>
<rect x="259.3" y="420.04" width="3.40" height="8.9" fill="#76498f"/>
<rect x="274" y="420.04" width="1.00" height="8.9" fill="#76498f"/>
<rect x="348.5" y="420.04" width="15.20" height="8.9" fill="#76498f"/>
<rect x="368.5" y="420.04" width="2.00" height="8.9" fill="#76498f"/>
<rect x="379.2" y="420.04" width="6.10" height="8.9" fill="#76498f"/>
<rect x="400.8" y="420.04" width="1.20" height="8.9" fill="#76498f"/>
<rect x="469.9" y="420.04" width="2.40" height="8.9" fill="#76498f"/>
<rect x="484.6" y="420.04" width="2.40" height="8.9" fill="#76498f"/>
<rect x="490.3" y="420.04" width="3.30" height="8.9" fill="#76498f"/>
<rect x="101" y="429.80" width="4.80" height="8.9" fill="#76498f"/>
<rect x="112.1" y="429.80" width="0.70" height="8.9" fill="#76498f"/>
<rect x="132.3" y="429.80" width="1.00" height="8.9" fill="#76498f"/>
<rect x="144.4" y="429.80" width="1.40" height="8.9" fill="#76498f"/>
<rect x="179.5" y="429.80" width="1.40" height="8.9" fill="#76498f"/>
<rect x="199.7" y="429.80" width="1.30" height="8.9" fill="#76498f"/>
<rect x="202.4" y="429.80" width="1.30" height="8.9" fill="#76498f"/>
<rect x="214.5" y="429.80" width="1.40" height="8.9" fill="#76498f"/>
<rect x="239" y="429.80" width="0.70" height="8.9" fill="#76498f"/>
<rect x="252.6" y="429.80" width="0.90" height="8.9" fill="#76498f"/>
<rect x="259.3" y="429.80" width="2.00" height="8.9" fill="#76498f"/>
<rect x="278.2" y="429.80" width="0.90" height="8.9" fill="#76498f"/>
<rect x="316.2" y="429.80" width="0.80" height="8.9" fill="#76498f"/>
<rect x="348.5" y="429.80" width="0.70" height="8.9" fill="#76498f"/>
<rect x="364.4" y="429.80" width="1.10" height="8.9" fill="#76498f"/>
<rect x="368.5" y="429.80" width="2.00" height="8.9" fill="#76498f"/>
<rect x="386" y="429.80" width="1.00" height="8.9" fill="#76498f"/>
<rect x="408.2" y="429.80" width="1.80" height="8.9" fill="#76498f"/>
<rect x="470.3" y="429.80" width="7.70" height="8.9" fill="#76498f"/>
<rect x="490" y="429.80" width="1.30" height="8.9" fill="#76498f"/>
<rect x="493.5" y="429.80" width="1.00" height="8.9" fill="#76498f"/>
<rect x="113.5" y="439.56" width="5.00" height="8.9" fill="#76498f"/>
<rect x="132.3" y="439.56" width="1.00" height="8.9" fill="#76498f"/>
<rect x="137.7" y="439.56" width="0.90" height="8.9" fill="#76498f"/>
<rect x="178.2" y="439.56" width="1.30" height="8.9" fill="#76498f"/>
<rect x="180.2" y="439.56" width="1.30" height="8.9" fill="#76498f"/>
<rect x="186.2" y="439.56" width="1.40" height="8.9" fill="#76498f"/>
<rect x="195.7" y="439.56" width="1.30" height="8.9" fill="#76498f"/>
<rect x="203.7" y="439.56" width="1.30" height="8.9" fill="#76498f"/>
<rect x="206.4" y="439.56" width="1.40" height="8.9" fill="#76498f"/>
<rect x="210.5" y="439.56" width="1.30" height="8.9" fill="#76498f"/>
<rect x="222.6" y="439.56" width="1.40" height="8.9" fill="#76498f"/>
<rect x="240.5" y="439.56" width="4.70" height="8.9" fill="#76498f"/>
<rect x="252.6" y="439.56" width="0.90" height="8.9" fill="#76498f"/>
<rect x="263.4" y="439.56" width="2.00" height="8.9" fill="#76498f"/>
<rect x="275.5" y="439.56" width="0.90" height="8.9" fill="#76498f"/>
<rect x="349.2" y="439.56" width="4.10" height="8.9" fill="#76498f"/>
<rect x="478" y="439.56" width="2.20" height="8.9" fill="#76498f"/>
<rect x="487" y="439.56" width="1.60" height="8.9" fill="#76498f"/>
<rect x="495.2" y="439.56" width="1.60" height="8.9" fill="#76498f"/>
<rect x="101" y="449.32" width="2.70" height="8.9" fill="#76498f"/>
<rect x="106.3" y="449.32" width="2.50" height="8.9" fill="#76498f"/>
<rect x="112" y="449.32" width="2.20" height="8.9" fill="#76498f"/>
<rect x="118.9" y="449.32" width="3.60" height="8.9" fill="#76498f"/>
<rect x="133.3" y="449.32" width="1.70" height="8.9" fill="#76498f"/>
<rect x="136" y="449.32" width="1.30" height="8.9" fill="#76498f"/>
<rect x="141" y="449.32" width="1.70" height="8.9" fill="#76498f"/>
<rect x="178.8" y="449.32" width="1.40" height="8.9" fill="#76498f"/>
<rect x="182.2" y="449.32" width="2.70" height="8.9" fill="#76498f"/>
<rect x="187" y="449.32" width="1.30" height="8.9" fill="#76498f"/>
<rect x="197" y="449.32" width="1.30" height="8.9" fill="#76498f"/>
<rect x="201" y="449.32" width="2.00" height="8.9" fill="#76498f"/>
<rect x="217.9" y="449.32" width="1.30" height="8.9" fill="#76498f"/>
<rect x="222.6" y="449.32" width="1.40" height="8.9" fill="#76498f"/>
<rect x="226" y="449.32" width="1.30" height="8.9" fill="#76498f"/>
<rect x="240.5" y="449.32" width="0.90" height="8.9" fill="#76498f"/>
<rect x="254" y="449.32" width="2.00" height="8.9" fill="#76498f"/>
<rect x="261.6" y="449.32" width="1.10" height="8.9" fill="#76498f"/>
<rect x="347.2" y="449.32" width="0.70" height="8.9" fill="#76498f"/>
<rect x="365.8" y="449.32" width="1.00" height="8.9" fill="#76498f"/>
<rect x="477.5" y="449.32" width="1.30" height="8.9" fill="#76498f"/>
<rect x="101" y="390.76" width="3.00" height="8.9" fill="#76498f"/>
<rect x="104" y="390.76" width="2.00" height="8.9" fill="#b99bd0"/>
<rect x="106" y="390.76" width="2.00" height="8.9" fill="#76498f"/>
<rect x="108" y="390.76" width="2.50" height="8.9" fill="#b99bd0"/>
<rect x="110.5" y="390.76" width="2.50" height="8.9" fill="#76498f"/>
<rect x="113" y="390.76" width="4.50" height="8.9" fill="#b99bd0"/>
<rect x="117.5" y="390.76" width="2.00" height="8.9" fill="#76498f"/>
<rect x="119.5" y="390.76" width="1.50" height="8.9" fill="#b99bd0"/>
<rect x="121" y="390.76" width="2.00" height="8.9" fill="#76498f"/>
<rect x="123" y="390.76" width="2.00" height="8.9" fill="#b99bd0"/>
<rect x="125" y="390.76" width="1.50" height="8.9" fill="#76498f"/>
<rect x="126.5" y="390.76" width="3.50" height="8.9" fill="#b99bd0"/>
<rect x="130" y="390.76" width="2.00" height="8.9" fill="#b99bd0"/>
<rect x="133.7" y="390.76" width="2.00" height="8.9" fill="#76498f"/>
<rect x="145.8" y="390.76" width="1.70" height="8.9" fill="#76498f"/>
<rect x="178" y="390.76" width="2.00" height="8.9" fill="#76498f"/>
<rect x="180" y="390.76" width="2.00" height="8.9" fill="#b99bd0"/>
<rect x="182" y="390.76" width="2.00" height="8.9" fill="#76498f"/>
<rect x="184" y="390.76" width="2.50" height="8.9" fill="#b99bd0"/>
<rect x="189.5" y="390.76" width="2.10" height="8.9" fill="#76498f"/>
<rect x="195.7" y="390.76" width="2.30" height="8.9" fill="#76498f"/>
<rect x="198" y="390.76" width="2.00" height="8.9" fill="#b99bd0"/>
<rect x="200" y="390.76" width="2.00" height="8.9" fill="#76498f"/>
<rect x="202" y="390.76" width="2.00" height="8.9" fill="#b99bd0"/>
<rect x="204" y="390.76" width="2.50" height="8.9" fill="#b99bd0"/>
<rect x="206.5" y="390.76" width="1.50" height="8.9" fill="#76498f"/>
<rect x="208" y="390.76" width="3.00" height="8.9" fill="#b99bd0"/>
<rect x="211.5" y="390.76" width="1.50" height="8.9" fill="#76498f"/>
<rect x="217" y="390.76" width="3.00" height="8.9" fill="#76498f"/>
<rect x="220" y="390.76" width="2.00" height="8.9" fill="#b99bd0"/>
<rect x="222" y="390.76" width="1.50" height="8.9" fill="#76498f"/>
<rect x="226.5" y="390.76" width="2.30" height="8.9" fill="#76498f"/>
<rect x="239" y="390.76" width="1.00" height="8.9" fill="#76498f"/>
<text x="7.2" y="483.5" font-size="10.5" font-weight="bold">D</text>
<path d="M36.5 495.21H39.90 M36.5 500.03H44.71 M36.5 504.84H49.53 M36.5 509.66H54.34 M36.5 514.47H59.16 M36.5 519.28H63.97 M36.5 524.10H68.78 M36.5 528.91H73.60 M36.5 533.73H78.41 M36.5 538.54H83.23 M36.5 543.35H88.04 M36.5 548.17H92.85 M36.5 552.98H97.67 M36.5 557.80H102.48 M36.5 562.61H107.30 M36.5 567.42H112.11 M36.5 572.24H116.92 M36.5 577.05H121.74 M36.5 581.87H126.55 M36.5 586.68H131.37 M36.5 591.49H136.18 M36.5 596.31H140.99 M36.5 601.12H145.81 M36.5 605.94H150.62 M36.5 610.75H155.44 M36.5 615.56H160.25 M36.5 620.38H165.06 M36.5 625.19H169.88 M36.5 630.01H174.69 M36.5 634.82H179.51 M36.5 639.63H184.32 M36.5 644.45H189.13 M36.5 649.26H193.95 M36.5 654.08H198.76 M36.5 658.89H203.58 M39.40 494.71V661.6 M44.21 499.53V661.6 M49.03 504.34V661.6 M53.84 509.16V661.6 M58.66 513.97V661.6 M63.47 518.78V661.6 M68.28 523.60V661.6 M73.10 528.41V661.6 M77.91 533.23V661.6 M82.73 538.04V661.6 M87.54 542.85V661.6 M92.35 547.67V661.6 M97.17 552.48V661.6 M101.98 557.30V661.6 M106.80 562.11V661.6 M111.61 566.92V661.6 M116.42 571.74V661.6 M121.24 576.55V661.6 M126.05 581.37V661.6 M130.87 586.18V661.6 M135.68 590.99V661.6 M140.49 595.81V661.6 M145.31 600.62V661.6 M150.12 605.44V661.6 M154.94 610.25V661.6 M159.75 615.06V661.6 M164.56 619.88V661.6 M169.38 624.69V661.6 M174.19 629.51V661.6 M179.01 634.32V661.6 M183.82 639.13V661.6 M188.63 643.95V661.6 M193.45 648.76V661.6 M198.26 653.58V661.6 M203.08 658.39V661.6" stroke="#4c5066" stroke-width="0.55" fill="none"/>
<circle cx="39.40" cy="495.21" r="2.5" fill="#a0a6cc"/>
<circle cx="39.40" cy="509.66" r="2.5" fill="#f3dfbf"/>
<circle cx="49.03" cy="509.66" r="1.8" fill="#f6ecd8"/>
<circle cx="53.84" cy="519.28" r="2.7" fill="#efc88a"/>
<circle cx="58.66" cy="519.28" r="2.2" fill="#f3dcb0"/>
<circle cx="58.66" cy="524.10" r="2.2" fill="#aeb0d6"/>
<circle cx="73.10" cy="528.91" r="1.8" fill="#f6ecd6"/>
<circle cx="39.40" cy="533.73" r="2.7" fill="#a8acd2"/>
<circle cx="44.21" cy="533.73" r="2.2" fill="#b0b4d8"/>
<circle cx="49.03" cy="533.73" r="1.8" fill="#f5e6c8"/>
<circle cx="58.66" cy="533.73" r="3.2" fill="#22377a"/>
<circle cx="49.03" cy="538.54" r="2.4" fill="#ebb060"/>
<circle cx="82.73" cy="538.54" r="2.2" fill="#6b76ad"/>
<circle cx="49.03" cy="543.35" r="2.2" fill="#f0cd8e"/>
<circle cx="68.28" cy="543.35" r="2.8" fill="#f2ddb5"/>
<circle cx="82.73" cy="543.35" r="2.8" fill="#7b86bb"/>
<circle cx="87.54" cy="543.35" r="2.2" fill="#8a94c4"/>
<circle cx="39.40" cy="548.17" r="2.7" fill="#f2dcb0"/>
<circle cx="49.03" cy="548.17" r="2.2" fill="#efcc90"/>
<circle cx="58.66" cy="548.17" r="1.8" fill="#f4e4c8"/>
<circle cx="92.35" cy="557.80" r="2.2" fill="#f3dfb8"/>
<circle cx="101.98" cy="562.61" r="1.8" fill="#f5e4c4"/>
<circle cx="39.40" cy="562.61" r="2.3" fill="#5d6aa5"/>
<circle cx="58.66" cy="562.61" r="1.6" fill="#6c78b0"/>
<circle cx="82.73" cy="562.61" r="1.6" fill="#6c78b0"/>
<circle cx="44.21" cy="567.42" r="1.6" fill="#7d88ba"/>
<circle cx="58.66" cy="567.42" r="1.4" fill="#9aa2ca"/>
<circle cx="92.35" cy="567.42" r="2.7" fill="#f2dcb2"/>
<circle cx="58.66" cy="591.49" r="2.4" fill="#3d4f90"/>
<circle cx="111.61" cy="591.49" r="2.6" fill="#e0a540"/>
<circle cx="49.03" cy="596.31" r="1.6" fill="#f4e4c8"/>
<circle cx="82.73" cy="596.31" r="2.2" fill="#5a69a5"/>
<circle cx="39.40" cy="601.12" r="1.5" fill="#7a85b8"/>
<circle cx="82.73" cy="601.12" r="1.6" fill="#5a69a5"/>
<circle cx="92.35" cy="601.12" r="1.6" fill="#6a76ad"/>
<circle cx="63.47" cy="605.94" r="1.8" fill="#b4b8da"/>
<circle cx="82.73" cy="605.94" r="2.4" fill="#f0cc8c"/>
<circle cx="82.73" cy="610.75" r="2.4" fill="#eec380"/>
<circle cx="39.40" cy="610.75" r="2.0" fill="#c0c4e0"/>
<circle cx="49.03" cy="610.75" r="2.0" fill="#b8bcdc"/>
<circle cx="97.17" cy="610.75" r="2.0" fill="#8a92c2"/>
<circle cx="111.61" cy="610.75" r="1.8" fill="#8a92c2"/>
<circle cx="49.03" cy="615.56" r="1.8" fill="#7f8abb"/>
<circle cx="82.73" cy="615.56" r="2.4" fill="#ecbd74"/>
<circle cx="111.61" cy="615.56" r="1.8" fill="#8088bb"/>
<circle cx="87.54" cy="620.38" r="2.2" fill="#4d5d9c"/>
<circle cx="68.28" cy="620.38" r="2.8" fill="#f2dab0"/>
<circle cx="39.40" cy="620.38" r="2.0" fill="#b9bede"/>
<circle cx="49.03" cy="620.38" r="1.8" fill="#8a92c2"/>
<circle cx="82.73" cy="620.38" r="2.3" fill="#eec486"/>
<circle cx="87.54" cy="625.19" r="2.2" fill="#4d5d9c"/>
<circle cx="111.61" cy="625.19" r="2.2" fill="#56659f"/>
<circle cx="82.73" cy="625.19" r="2.3" fill="#efc890"/>
<circle cx="39.40" cy="630.01" r="2.0" fill="#8890c0"/>
<circle cx="44.21" cy="630.01" r="2.0" fill="#8890c0"/>
<circle cx="49.03" cy="630.01" r="1.6" fill="#7a85b8"/>
<circle cx="58.66" cy="630.01" r="3.0" fill="#4a5a98"/>
<circle cx="68.28" cy="630.01" r="2.2" fill="#f3e0bc"/>
<circle cx="82.73" cy="630.01" r="3.0" fill="#db9520"/>
<circle cx="92.35" cy="630.01" r="2.2" fill="#a8aed4"/>
<circle cx="97.17" cy="630.01" r="2.2" fill="#5a69a5"/>
<circle cx="106.80" cy="630.01" r="1.8" fill="#8088bb"/>
<circle cx="111.61" cy="630.01" r="1.8" fill="#8088bb"/>
<circle cx="49.03" cy="634.82" r="1.6" fill="#7a85b8"/>
<circle cx="68.28" cy="634.82" r="2.8" fill="#f1d8aa"/>
<circle cx="82.73" cy="634.82" r="1.6" fill="#4a5a98"/>
<circle cx="92.35" cy="634.82" r="2.2" fill="#f3e0bc"/>
<circle cx="39.40" cy="639.63" r="2.0" fill="#8890c0"/>
<circle cx="58.66" cy="639.63" r="3.0" fill="#42539a"/>
<circle cx="82.73" cy="639.63" r="3.0" fill="#d99020"/>
<circle cx="92.35" cy="639.63" r="2.8" fill="#4a5a98"/>
<circle cx="97.17" cy="639.63" r="1.6" fill="#7a85b8"/>
<circle cx="77.91" cy="644.45" r="1.5" fill="#8a92c2"/>
<circle cx="82.73" cy="649.26" r="2.6" fill="#eec486"/>
<circle cx="82.73" cy="654.08" r="2.6" fill="#efc88e"/>
<circle cx="145.31" cy="610.75" r="2.2" fill="#7f88bc"/>
<circle cx="150.12" cy="615.56" r="1.6" fill="#9aa2cc"/>
<circle cx="150.12" cy="620.38" r="1.8" fill="#7f88bc"/>
<circle cx="150.12" cy="625.19" r="1.8" fill="#7f88bc"/>
<circle cx="150.12" cy="630.01" r="1.8" fill="#7f88bc"/>
<circle cx="154.94" cy="610.75" r="3.0" fill="#dc8f1c"/>
<circle cx="159.75" cy="615.56" r="3.0" fill="#dc8f1c"/>
<circle cx="164.56" cy="620.38" r="3.0" fill="#dc8f1c"/>
<circle cx="169.38" cy="625.19" r="2.8" fill="#e09a30"/>
<circle cx="174.19" cy="630.01" r="2.6" fill="#ebb868"/>
<circle cx="179.01" cy="634.82" r="1.6" fill="#8088bb"/>
<circle cx="183.82" cy="639.63" r="1.8" fill="#7f88bc"/>
<circle cx="183.82" cy="644.45" r="1.3" fill="#b8d8b0"/>
<circle cx="154.94" cy="615.56" r="2.8" fill="#f0c888"/>
<circle cx="154.94" cy="620.38" r="2.6" fill="#f2d4a0"/>
<circle cx="154.94" cy="625.19" r="2.6" fill="#f4dcb0"/>
<circle cx="159.75" cy="620.38" r="2.6" fill="#eec07a"/>
<circle cx="159.75" cy="625.19" r="2.8" fill="#e6a848"/>
<circle cx="164.56" cy="625.19" r="2.8" fill="#e4a444"/>
<circle cx="164.56" cy="630.01" r="2.4" fill="#f0c88c"/>
<circle cx="159.75" cy="630.01" r="2.4" fill="#f3dcb4"/>
<circle cx="169.38" cy="630.01" r="2.4" fill="#efc584"/>
<circle cx="154.94" cy="630.01" r="2.2" fill="#f4e0bc"/>
<circle cx="164.56" cy="639.63" r="3.0" fill="#e09a2c"/>
<circle cx="169.38" cy="639.63" r="2.8" fill="#e4a443"/>
<circle cx="179.01" cy="639.63" r="3.0" fill="#dc9428"/>
<circle cx="159.75" cy="639.63" r="2.6" fill="#f0ca8e"/>
<circle cx="154.94" cy="639.63" r="2.4" fill="#f4dcb4"/>
<circle cx="174.19" cy="639.63" r="2.4" fill="#f0cc94"/>
<circle cx="154.94" cy="634.82" r="2.2" fill="#f4e0c0"/>
<circle cx="159.75" cy="634.82" r="2.2" fill="#f5e4c8"/>
<circle cx="164.56" cy="634.82" r="2.2" fill="#f5e4c8"/>
<circle cx="169.38" cy="634.82" r="2.2" fill="#f5e4c8"/>
<circle cx="174.19" cy="634.82" r="2.2" fill="#f5e4c8"/>
<circle cx="154.94" cy="649.26" r="2.6" fill="#f3dcb4"/>
<circle cx="159.75" cy="649.26" r="2.8" fill="#f0cc94"/>
<circle cx="164.56" cy="649.26" r="2.8" fill="#eec486"/>
<circle cx="169.38" cy="649.26" r="2.8" fill="#f0cc94"/>
<circle cx="174.19" cy="649.26" r="2.6" fill="#f3d8ac"/>
<circle cx="154.94" cy="654.08" r="2.8" fill="#f2d4a0"/>
<circle cx="159.75" cy="654.08" r="2.9" fill="#e8b060"/>
<circle cx="164.56" cy="654.08" r="3.0" fill="#e6aa54"/>
<circle cx="169.38" cy="654.08" r="2.9" fill="#e8b060"/>
<circle cx="174.19" cy="654.08" r="2.9" fill="#eab868"/>
<circle cx="179.01" cy="654.08" r="2.6" fill="#f0c890"/>
<circle cx="154.94" cy="658.89" r="2.6" fill="#f4dcb4"/>
<circle cx="159.75" cy="658.89" r="2.8" fill="#f2d4a4"/>
<circle cx="164.56" cy="658.89" r="2.8" fill="#f0cc94"/>
<circle cx="169.38" cy="658.89" r="2.8" fill="#f2d4a4"/>
<circle cx="174.19" cy="658.89" r="2.6" fill="#f4dcb4"/>
<circle cx="188.63" cy="654.08" r="2.6" fill="#e8ad58"/>
<circle cx="183.82" cy="649.26" r="2.0" fill="#f4e0c0"/>
<circle cx="179.01" cy="644.45" r="2.0" fill="#f3dcb4"/>
<circle cx="164.56" cy="644.45" r="2.0" fill="#f4e0c0"/>
<circle cx="169.38" cy="644.45" r="2.0" fill="#f5e4c8"/>
<circle cx="97.17" cy="562.61" r="1.8" fill="#f5e6cc"/>
<circle cx="101.98" cy="567.42" r="2.0" fill="#f4e2c0"/>
<circle cx="97.17" cy="572.24" r="1.8" fill="#f5e6cc"/>
<circle cx="116.42" cy="572.24" r="1.8" fill="#f6ead4"/>
<circle cx="130.87" cy="586.68" r="1.8" fill="#f6ead4"/>
<text x="33" y="492.30" text-anchor="end" font-size="5.3" font-style="italic">U2AF1</text>
<text x="33" y="497.11" text-anchor="end" font-size="5.3" font-style="italic">SF3B1</text>
<text x="33" y="501.93" text-anchor="end" font-size="5.3" font-style="italic">SRSF2</text>
<text x="33" y="506.74" text-anchor="end" font-size="5.3" font-style="italic">PRPF8</text>
<text x="33" y="511.56" text-anchor="end" font-size="5.3" font-style="italic">ASXL1</text>
<text x="33" y="516.37" text-anchor="end" font-size="5.3" font-style="italic">BCOR</text>
<text x="33" y="521.18" text-anchor="end" font-size="5.3" font-style="italic">EZH2</text>
<text x="33" y="526.00" text-anchor="end" font-size="5.3" font-style="italic">DNMT3A</text>
<text x="33" y="530.81" text-anchor="end" font-size="5.3" font-style="italic">TET2</text>
<text x="33" y="535.63" text-anchor="end" font-size="5.3" font-style="italic">TP53</text>
<text x="33" y="540.44" text-anchor="end" font-size="5.3" font-style="italic">STAG2</text>
<text x="33" y="545.25" text-anchor="end" font-size="5.3" font-style="italic">RUNX1</text>
<text x="33" y="550.07" text-anchor="end" font-size="5.3" font-style="italic">ETV6</text>
<text x="33" y="554.88" text-anchor="end" font-size="5.3" font-style="italic">GATA2</text>
<text x="33" y="559.70" text-anchor="end" font-size="5.3" font-style="italic">PHF6</text>
<text x="33" y="564.51" text-anchor="end" font-size="5.3" font-style="italic">WT1</text>
<text x="33" y="569.32" text-anchor="end" font-size="5.3" font-style="italic">NRAS</text>
<text x="33" y="574.14" text-anchor="end" font-size="5.3" font-style="italic">KRAS</text>
<text x="33" y="578.95" text-anchor="end" font-size="5.3" font-style="italic">GNAS</text>
<text x="33" y="583.77" text-anchor="end" font-size="5.3" font-style="italic">NF1</text>
<text x="33" y="588.58" text-anchor="end" font-size="5.3" font-style="italic">CBL</text>
<text x="33" y="593.39" text-anchor="end" font-size="5.3" font-style="italic">FLT3</text>
<text x="33" y="598.21" text-anchor="end" font-size="5.3" font-style="italic">SETBP1</text>
<text x="33" y="603.02" text-anchor="end" font-size="5.3" font-style="italic">DDX41</text>
<text x="33" y="607.84" text-anchor="end" font-size="5.3" fill="#ad3562" style="stroke:#ad3562">HCA</text>
<text x="33" y="612.65" text-anchor="end" font-size="5.3" fill="#ad3562" style="stroke:#ad3562">CKcg</text>
<text x="33" y="617.46" text-anchor="end" font-size="5.3" fill="#6a3448" style="stroke:#6a3448">CK</text>
<text x="33" y="622.28" text-anchor="end" font-size="5.3" fill="#ad3562" style="stroke:#ad3562">CK-like</text>
<text x="33" y="627.09" text-anchor="end" font-size="5.3" fill="#6a3448" style="stroke:#6a3448">−7/del(7q)</text>
<text x="33" y="631.91" text-anchor="end" font-size="5.3" fill="#ad3562" style="stroke:#ad3562">del(5q)</text>
<text x="33" y="636.72" text-anchor="end" font-size="5.3" fill="#6a3448" style="stroke:#6a3448">+1q</text>
<text x="33" y="641.53" text-anchor="end" font-size="5.3" fill="#6a3448" style="stroke:#6a3448">17pLOH</text>
<text x="33" y="646.35" text-anchor="end" font-size="5.3" fill="#6a3448" style="stroke:#6a3448">+8</text>
<text x="33" y="651.16" text-anchor="end" font-size="5.3" fill="#ad3562" style="stroke:#ad3562">del(20q)</text>
<text x="33" y="655.98" text-anchor="end" font-size="5.3" fill="#ad3562" style="stroke:#ad3562">del(12p)</text>
<text x="33" y="660.79" text-anchor="end" font-size="5.3" fill="#ad3562" style="stroke:#ad3562">+21q</text>
<text transform="translate(41.30,664.4) rotate(-90)" text-anchor="end" font-size="5.3" font-style="italic">U2AF1</text>
<text transform="translate(46.11,664.4) rotate(-90)" text-anchor="end" font-size="5.3" font-style="italic">SF3B1</text>
<text transform="translate(50.93,664.4) rotate(-90)" text-anchor="end" font-size="5.3" font-style="italic">SRSF2</text>
<text transform="translate(55.74,664.4) rotate(-90)" text-anchor="end" font-size="5.3" font-style="italic">PRPF8</text>
<text transform="translate(60.56,664.4) rotate(-90)" text-anchor="end" font-size="5.3" font-style="italic">ASXL1</text>
<text transform="translate(65.37,664.4) rotate(-90)" text-anchor="end" font-size="5.3" font-style="italic">BCOR</text>
<text transform="translate(70.18,664.4) rotate(-90)" text-anchor="end" font-size="5.3" font-style="italic">EZH2</text>
<text transform="translate(75.00,664.4) rotate(-90)" text-anchor="end" font-size="5.3" font-style="italic">DNMT3A</text>
<text transform="translate(79.81,664.4) rotate(-90)" text-anchor="end" font-size="5.3" font-style="italic">TET2</text>
<text transform="translate(84.63,664.4) rotate(-90)" text-anchor="end" font-size="5.3" font-style="italic">TP53</text>
<text transform="translate(89.44,664.4) rotate(-90)" text-anchor="end" font-size="5.3" font-style="italic">STAG2</text>
<text transform="translate(94.25,664.4) rotate(-90)" text-anchor="end" font-size="5.3" font-style="italic">RUNX1</text>
<text transform="translate(99.07,664.4) rotate(-90)" text-anchor="end" font-size="5.3" font-style="italic">ETV6</text>
<text transform="translate(103.88,664.4) rotate(-90)" text-anchor="end" font-size="5.3" font-style="italic">GATA2</text>
<text transform="translate(108.70,664.4) rotate(-90)" text-anchor="end" font-size="5.3" font-style="italic">PHF6</text>
<text transform="translate(113.51,664.4) rotate(-90)" text-anchor="end" font-size="5.3" font-style="italic">WT1</text>
<text transform="translate(118.32,664.4) rotate(-90)" text-anchor="end" font-size="5.3" font-style="italic">NRAS</text>
<text transform="translate(123.14,664.4) rotate(-90)" text-anchor="end" font-size="5.3" font-style="italic">KRAS</text>
<text transform="translate(127.95,664.4) rotate(-90)" text-anchor="end" font-size="5.3" font-style="italic">GNAS</text>
<text transform="translate(132.77,664.4) rotate(-90)" text-anchor="end" font-size="5.3" font-style="italic">NF1</text>
<text transform="translate(137.58,664.4) rotate(-90)" text-anchor="end" font-size="5.3" font-style="italic">CBL</text>
<text transform="translate(142.39,664.4) rotate(-90)" text-anchor="end" font-size="5.3" font-style="italic">FLT3</text>
<text transform="translate(147.21,664.4) rotate(-90)" text-anchor="end" font-size="5.3" font-style="italic">SETBP1</text>
<text transform="translate(152.02,664.4) rotate(-90)" text-anchor="end" font-size="5.3" font-style="italic">DDX41</text>
<text transform="translate(156.84,664.4) rotate(-90)" text-anchor="end" font-size="5.3" fill="#ad3562" style="stroke:#ad3562">HCA</text>
<text transform="translate(161.65,664.4) rotate(-90)" text-anchor="end" font-size="5.3" fill="#ad3562" style="stroke:#ad3562">CKcg</text>
<text transform="translate(166.46,664.4) rotate(-90)" text-anchor="end" font-size="5.3" fill="#6a3448" style="stroke:#6a3448">CK</text>
<text transform="translate(171.28,664.4) rotate(-90)" text-anchor="end" font-size="5.3" fill="#ad3562" style="stroke:#ad3562">CK-like</text>
<text transform="translate(176.09,664.4) rotate(-90)" text-anchor="end" font-size="5.3" fill="#6a3448" style="stroke:#6a3448">−7/del(7q)</text>
<text transform="translate(180.91,664.4) rotate(-90)" text-anchor="end" font-size="5.3" fill="#ad3562" style="stroke:#ad3562">del(5q)</text>
<text transform="translate(185.72,664.4) rotate(-90)" text-anchor="end" font-size="5.3" fill="#6a3448" style="stroke:#6a3448">+1q</text>
<text transform="translate(190.53,664.4) rotate(-90)" text-anchor="end" font-size="5.3" fill="#6a3448" style="stroke:#6a3448">17pLOH</text>
<text transform="translate(195.35,664.4) rotate(-90)" text-anchor="end" font-size="5.3" fill="#6a3448" style="stroke:#6a3448">+8</text>
<text transform="translate(200.16,664.4) rotate(-90)" text-anchor="end" font-size="5.3" fill="#ad3562" style="stroke:#ad3562">del(20q)</text>
<text transform="translate(204.98,664.4) rotate(-90)" text-anchor="end" font-size="5.3" fill="#ad3562" style="stroke:#ad3562">del(12p)</text>
<text x="156.4" y="487.9" text-anchor="middle" font-size="5.6">Odds ratio</text>
<text x="133.2" y="494.6" text-anchor="middle" font-size="5.6">0.01</text>
<text x="181.3" y="494.6" text-anchor="middle" font-size="5.6">100</text>
<defs><linearGradient id="gor" x1="0" x2="1" y1="0" y2="0"><stop offset="0" stop-color="#1e3a80"/><stop offset="0.2" stop-color="#3a5394"/><stop offset="0.5" stop-color="#ffffff"/><stop offset="0.8" stop-color="#ecb064"/><stop offset="1" stop-color="#d8860c"/></linearGradient></defs>
<rect x="132" y="495.4" width="49.9" height="6.7" fill="url(#gor)"/>
<circle cx="124.1" cy="508.00" r="2.8" fill="#2b3f80"/>
<text x="131" y="509.90" font-size="5.6"><tspan font-style="italic">q</tspan> &lt; .001</text>
<circle cx="167.6" cy="508.00" r="2.8" fill="#dc9520"/>
<text x="174" y="509.90" font-size="5.6"><tspan font-style="italic">q</tspan> &lt; .001</text>
<circle cx="124.1" cy="516.75" r="2.3" fill="#2b3f80"/>
<text x="131" y="518.65" font-size="5.6"><tspan font-style="italic">q</tspan> &lt; .01</text>
<circle cx="167.6" cy="516.75" r="2.3" fill="#dc9520"/>
<text x="174" y="518.65" font-size="5.6"><tspan font-style="italic">q</tspan> &lt; .01</text>
<circle cx="124.1" cy="525.50" r="1.8" fill="#2b3f80"/>
<text x="131" y="527.40" font-size="5.6"><tspan font-style="italic">q</tspan> &lt; .1</text>
<circle cx="167.6" cy="525.50" r="1.8" fill="#dc9520"/>
<text x="174" y="527.40" font-size="5.6"><tspan font-style="italic">q</tspan> &lt; .1</text>
<circle cx="124.1" cy="534.25" r="1.2" fill="#2b3f80"/>
<text x="131" y="536.15" font-size="5.6"><tspan font-style="italic">q</tspan> &lt; .25</text>
<text x="108.8" y="543.80" font-size="5.6" textLength="57.5" lengthAdjust="spacingAndGlyphs">CK: Complex karyotype</text>
<text x="108.8" y="550.07" font-size="5.6" textLength="62" lengthAdjust="spacingAndGlyphs">CKcg: CK by cytogenetics</text>
<text x="108.8" y="556.34" font-size="5.6" textLength="83" lengthAdjust="spacingAndGlyphs">CK-like: CK by sequencing profile</text>
<text x="108.8" y="562.61" font-size="5.6" textLength="94" lengthAdjust="spacingAndGlyphs">HCA: High-risk cytogenetic abnormality</text>
<text x="221.4" y="483.8" font-size="10.5" font-weight="bold">E</text>
<line x1="250.20" y1="555.60" x2="310.50" y2="502.20" stroke="#b8b8b8" stroke-width="0.8" stroke-dasharray="2,1.6"/>
<circle cx="264.69" cy="521.39" r="1.55" fill="#22365f"/>
<circle cx="265.58" cy="533.83" r="1.55" fill="#22365f"/>
<circle cx="265.13" cy="550.27" r="1.55" fill="#22365f"/>
<circle cx="260.71" cy="546.06" r="1.55" fill="#22365f"/>
<circle cx="273.10" cy="537.62" r="1.55" fill="#22365f"/>
<circle cx="271.77" cy="542.89" r="1.55" fill="#22365f"/>
<circle cx="276.64" cy="526.03" r="1.55" fill="#22365f"/>
<circle cx="278.41" cy="527.08" r="1.55" fill="#22365f"/>
<circle cx="283.50" cy="520.12" r="1.55" fill="#22365f"/>
<circle cx="281.73" cy="533.83" r="1.55" fill="#22365f"/>
<circle cx="281.73" cy="545.00" r="1.55" fill="#22365f"/>
<circle cx="287.26" cy="538.68" r="1.55" fill="#22365f"/>
<circle cx="288.37" cy="547.11" r="1.55" fill="#22365f"/>
<circle cx="289.48" cy="537.62" r="1.55" fill="#22365f"/>
<circle cx="291.69" cy="515.48" r="1.55" fill="#22365f"/>
<circle cx="293.46" cy="518.22" r="1.55" fill="#22365f"/>
<circle cx="294.57" cy="535.51" r="1.55" fill="#22365f"/>
<circle cx="296.12" cy="511.27" r="1.55" fill="#22365f"/>
<circle cx="297.22" cy="517.59" r="1.55" fill="#22365f"/>
<circle cx="297.89" cy="541.42" r="1.55" fill="#22365f"/>
<circle cx="300.10" cy="526.03" r="1.55" fill="#22365f"/>
<circle cx="300.54" cy="530.24" r="1.55" fill="#22365f"/>
<circle cx="300.98" cy="532.35" r="1.55" fill="#22365f"/>
<circle cx="301.65" cy="514.43" r="1.55" fill="#22365f"/>
<circle cx="302.75" cy="513.38" r="1.55" fill="#22365f"/>
<circle cx="304.52" cy="535.94" r="1.55" fill="#22365f"/>
<circle cx="304.97" cy="541.84" r="1.55" fill="#22365f"/>
<circle cx="306.07" cy="533.41" r="1.55" fill="#22365f"/>
<circle cx="307.62" cy="519.70" r="1.55" fill="#22365f"/>
<circle cx="308.29" cy="543.95" r="1.55" fill="#22365f"/>
<circle cx="309.39" cy="503.89" r="1.55" fill="#22365f"/>
<circle cx="310.50" cy="507.05" r="1.55" fill="#22365f"/>
<circle cx="311.61" cy="503.89" r="1.55" fill="#22365f"/>
<circle cx="312.05" cy="527.08" r="1.55" fill="#22365f"/>
<circle cx="312.71" cy="531.30" r="1.55" fill="#22365f"/>
<circle cx="312.71" cy="546.06" r="1.55" fill="#22365f"/>
<circle cx="312.95" cy="542.89" r="1.55" fill="#22365f"/>
<circle cx="311.16" cy="505.57" r="1.55" fill="#22365f"/>
<circle cx="309.84" cy="506.42" r="1.55" fill="#22365f"/>
<rect x="247.2" y="499.8" width="65.90" height="58.60" fill="none" stroke="#111" stroke-width="1.4"/>
<line x1="244.20" y1="556.60" x2="247.20" y2="556.60" stroke="#111" stroke-width="1"/>
<text x="242.40" y="558.70" text-anchor="end" font-size="6.1">0.0</text>
<line x1="249.20" y1="558.40" x2="249.20" y2="561.00" stroke="#111" stroke-width="1"/>
<text x="249.20" y="569.80" text-anchor="middle" font-size="6.1">0.0</text>
<line x1="244.20" y1="545.72" x2="247.20" y2="545.72" stroke="#111" stroke-width="1"/>
<text x="242.40" y="547.82" text-anchor="end" font-size="6.1">0.2</text>
<line x1="261.46" y1="558.40" x2="261.46" y2="561.00" stroke="#111" stroke-width="1"/>
<text x="261.46" y="569.80" text-anchor="middle" font-size="6.1">0.2</text>
<line x1="244.20" y1="534.84" x2="247.20" y2="534.84" stroke="#111" stroke-width="1"/>
<text x="242.40" y="536.94" text-anchor="end" font-size="6.1">0.4</text>
<line x1="273.72" y1="558.40" x2="273.72" y2="561.00" stroke="#111" stroke-width="1"/>
<text x="273.72" y="569.80" text-anchor="middle" font-size="6.1">0.4</text>
<line x1="244.20" y1="523.96" x2="247.20" y2="523.96" stroke="#111" stroke-width="1"/>
<text x="242.40" y="526.06" text-anchor="end" font-size="6.1">0.6</text>
<line x1="285.98" y1="558.40" x2="285.98" y2="561.00" stroke="#111" stroke-width="1"/>
<text x="285.98" y="569.80" text-anchor="middle" font-size="6.1">0.6</text>
<line x1="244.20" y1="513.08" x2="247.20" y2="513.08" stroke="#111" stroke-width="1"/>
<text x="242.40" y="515.18" text-anchor="end" font-size="6.1">0.8</text>
<line x1="298.24" y1="558.40" x2="298.24" y2="561.00" stroke="#111" stroke-width="1"/>
<text x="298.24" y="569.80" text-anchor="middle" font-size="6.1">0.8</text>
<line x1="244.20" y1="502.20" x2="247.20" y2="502.20" stroke="#111" stroke-width="1"/>
<text x="242.40" y="504.30" text-anchor="end" font-size="6.1">1.0</text>
<line x1="310.50" y1="558.40" x2="310.50" y2="561.00" stroke="#111" stroke-width="1"/>
<text x="310.50" y="569.80" text-anchor="middle" font-size="6.1">1.0</text>
<text transform="translate(228.20,529.10) rotate(-90)" text-anchor="middle" font-size="7.4">TCF of 17pLOH</text>
<text x="280.15" y="579.70" text-anchor="middle" font-size="7.4">TCF of <tspan font-style="italic">TP53</tspan> mutation</text>
<text x="251.20" y="507.00" font-size="5.6" fill="#2a2a2a" style="stroke-width:0.08px"><tspan font-style="italic">P</tspan> = .00014</text>
<line x1="347.30" y1="555.60" x2="407.60" y2="502.20" stroke="#b8b8b8" stroke-width="0.8" stroke-dasharray="2,1.6"/>
<circle cx="349.77" cy="514.20" r="1.55" fill="#22365f"/>
<circle cx="361.01" cy="550.20" r="1.55" fill="#22365f"/>
<circle cx="356.93" cy="546.20" r="1.55" fill="#22365f"/>
<circle cx="357.95" cy="546.20" r="1.55" fill="#22365f"/>
<circle cx="363.06" cy="541.20" r="1.55" fill="#22365f"/>
<circle cx="366.73" cy="532.20" r="1.55" fill="#22365f"/>
<circle cx="369.19" cy="539.20" r="1.55" fill="#22365f"/>
<circle cx="370.21" cy="541.20" r="1.55" fill="#22365f"/>
<circle cx="372.25" cy="536.20" r="1.55" fill="#22365f"/>
<circle cx="373.27" cy="526.20" r="1.55" fill="#22365f"/>
<circle cx="374.29" cy="529.20" r="1.55" fill="#22365f"/>
<circle cx="376.34" cy="533.20" r="1.55" fill="#22365f"/>
<circle cx="377.36" cy="535.20" r="1.55" fill="#22365f"/>
<circle cx="379.40" cy="528.20" r="1.55" fill="#22365f"/>
<circle cx="381.45" cy="528.20" r="1.55" fill="#22365f"/>
<circle cx="383.49" cy="549.20" r="1.55" fill="#22365f"/>
<circle cx="385.53" cy="538.20" r="1.55" fill="#22365f"/>
<circle cx="387.58" cy="520.20" r="1.55" fill="#22365f"/>
<circle cx="388.60" cy="519.20" r="1.55" fill="#22365f"/>
<circle cx="389.62" cy="521.20" r="1.55" fill="#22365f"/>
<circle cx="390.64" cy="518.20" r="1.55" fill="#22365f"/>
<circle cx="391.66" cy="517.20" r="1.55" fill="#22365f"/>
<circle cx="392.68" cy="509.20" r="1.55" fill="#22365f"/>
<circle cx="392.68" cy="543.20" r="1.55" fill="#22365f"/>
<circle cx="393.71" cy="517.20" r="1.55" fill="#22365f"/>
<circle cx="394.73" cy="516.20" r="1.55" fill="#22365f"/>
<circle cx="395.75" cy="515.20" r="1.55" fill="#22365f"/>
<circle cx="396.16" cy="528.20" r="1.55" fill="#22365f"/>
<circle cx="396.77" cy="527.20" r="1.55" fill="#22365f"/>
<circle cx="396.77" cy="536.20" r="1.55" fill="#22365f"/>
<circle cx="397.79" cy="513.20" r="1.55" fill="#22365f"/>
<circle cx="398.81" cy="514.20" r="1.55" fill="#22365f"/>
<circle cx="399.84" cy="535.20" r="1.55" fill="#22365f"/>
<circle cx="399.84" cy="539.20" r="1.55" fill="#22365f"/>
<circle cx="400.86" cy="511.20" r="1.55" fill="#22365f"/>
<circle cx="401.88" cy="508.20" r="1.55" fill="#22365f"/>
<circle cx="401.88" cy="522.20" r="1.55" fill="#22365f"/>
<circle cx="403.92" cy="507.20" r="1.55" fill="#22365f"/>
<circle cx="404.94" cy="509.20" r="1.55" fill="#22365f"/>
<circle cx="405.56" cy="514.20" r="1.55" fill="#22365f"/>
<circle cx="405.97" cy="506.20" r="1.55" fill="#22365f"/>
<circle cx="406.99" cy="507.20" r="1.55" fill="#22365f"/>
<circle cx="406.99" cy="516.20" r="1.55" fill="#22365f"/>
<circle cx="407.60" cy="528.20" r="1.55" fill="#22365f"/>
<circle cx="408.01" cy="524.20" r="1.55" fill="#22365f"/>
<circle cx="408.01" cy="509.20" r="1.55" fill="#22365f"/>
<circle cx="408.42" cy="506.20" r="1.55" fill="#22365f"/>
<circle cx="406.37" cy="507.80" r="1.55" fill="#22365f"/>
<circle cx="407.40" cy="510.20" r="1.55" fill="#22365f"/>
<circle cx="408.62" cy="512.20" r="1.55" fill="#22365f"/>
<rect x="344.29999999999995" y="499.8" width="65.90" height="58.60" fill="none" stroke="#111" stroke-width="1.4"/>
<line x1="341.30" y1="556.60" x2="344.30" y2="556.60" stroke="#111" stroke-width="1"/>
<text x="339.50" y="558.70" text-anchor="end" font-size="6.1">0.0</text>
<line x1="346.30" y1="558.40" x2="346.30" y2="561.00" stroke="#111" stroke-width="1"/>
<text x="346.30" y="569.80" text-anchor="middle" font-size="6.1">0.0</text>
<line x1="341.30" y1="545.72" x2="344.30" y2="545.72" stroke="#111" stroke-width="1"/>
<text x="339.50" y="547.82" text-anchor="end" font-size="6.1">0.2</text>
<line x1="358.56" y1="558.40" x2="358.56" y2="561.00" stroke="#111" stroke-width="1"/>
<text x="358.56" y="569.80" text-anchor="middle" font-size="6.1">0.2</text>
<line x1="341.30" y1="534.84" x2="344.30" y2="534.84" stroke="#111" stroke-width="1"/>
<text x="339.50" y="536.94" text-anchor="end" font-size="6.1">0.4</text>
<line x1="370.82" y1="558.40" x2="370.82" y2="561.00" stroke="#111" stroke-width="1"/>
<text x="370.82" y="569.80" text-anchor="middle" font-size="6.1">0.4</text>
<line x1="341.30" y1="523.96" x2="344.30" y2="523.96" stroke="#111" stroke-width="1"/>
<text x="339.50" y="526.06" text-anchor="end" font-size="6.1">0.6</text>
<line x1="383.08" y1="558.40" x2="383.08" y2="561.00" stroke="#111" stroke-width="1"/>
<text x="383.08" y="569.80" text-anchor="middle" font-size="6.1">0.6</text>
<line x1="341.30" y1="513.08" x2="344.30" y2="513.08" stroke="#111" stroke-width="1"/>
<text x="339.50" y="515.18" text-anchor="end" font-size="6.1">0.8</text>
<line x1="395.34" y1="558.40" x2="395.34" y2="561.00" stroke="#111" stroke-width="1"/>
<text x="395.34" y="569.80" text-anchor="middle" font-size="6.1">0.8</text>
<line x1="341.30" y1="502.20" x2="344.30" y2="502.20" stroke="#111" stroke-width="1"/>
<text x="339.50" y="504.30" text-anchor="end" font-size="6.1">1.0</text>
<line x1="407.60" y1="558.40" x2="407.60" y2="561.00" stroke="#111" stroke-width="1"/>
<text x="407.60" y="569.80" text-anchor="middle" font-size="6.1">1.0</text>
<text transform="translate(323.30,529.10) rotate(-90)" text-anchor="middle" font-size="7.4">TCF of del(5q)</text>
<text x="377.25" y="579.70" text-anchor="middle" font-size="7.4">TCF of <tspan font-style="italic">TP53</tspan> mutation</text>
<text x="348.30" y="507.00" font-size="5.6" fill="#2a2a2a" style="stroke-width:0.08px"><tspan font-style="italic">P</tspan> = 3.4 × 10<tspan dy="-2" font-size="4">−7</tspan></text>
<line x1="443.70" y1="555.60" x2="504.00" y2="502.20" stroke="#b8b8b8" stroke-width="0.8" stroke-dasharray="2,1.6"/>
<circle cx="455.55" cy="549.20" r="1.55" fill="#22365f"/>
<circle cx="457.93" cy="538.20" r="1.55" fill="#22365f"/>
<circle cx="462.47" cy="538.20" r="1.55" fill="#22365f"/>
<circle cx="464.45" cy="545.20" r="1.55" fill="#22365f"/>
<circle cx="466.43" cy="538.20" r="1.55" fill="#22365f"/>
<circle cx="468.41" cy="535.20" r="1.55" fill="#22365f"/>
<circle cx="469.40" cy="533.20" r="1.55" fill="#22365f"/>
<circle cx="472.36" cy="529.20" r="1.55" fill="#22365f"/>
<circle cx="473.35" cy="536.20" r="1.55" fill="#22365f"/>
<circle cx="475.33" cy="531.20" r="1.55" fill="#22365f"/>
<circle cx="477.30" cy="528.20" r="1.55" fill="#22365f"/>
<circle cx="478.29" cy="535.20" r="1.55" fill="#22365f"/>
<circle cx="479.28" cy="537.20" r="1.55" fill="#22365f"/>
<circle cx="480.27" cy="542.20" r="1.55" fill="#22365f"/>
<circle cx="481.26" cy="543.20" r="1.55" fill="#22365f"/>
<circle cx="484.23" cy="517.20" r="1.55" fill="#22365f"/>
<circle cx="485.21" cy="518.20" r="1.55" fill="#22365f"/>
<circle cx="486.20" cy="520.20" r="1.55" fill="#22365f"/>
<circle cx="486.80" cy="535.80" r="1.55" fill="#22365f"/>
<circle cx="488.18" cy="512.20" r="1.55" fill="#22365f"/>
<circle cx="489.17" cy="523.20" r="1.55" fill="#22365f"/>
<circle cx="491.15" cy="517.20" r="1.55" fill="#22365f"/>
<circle cx="492.14" cy="519.20" r="1.55" fill="#22365f"/>
<circle cx="492.14" cy="532.20" r="1.55" fill="#22365f"/>
<circle cx="492.14" cy="545.20" r="1.55" fill="#22365f"/>
<circle cx="493.12" cy="523.20" r="1.55" fill="#22365f"/>
<circle cx="494.11" cy="511.20" r="1.55" fill="#22365f"/>
<circle cx="495.10" cy="540.20" r="1.55" fill="#22365f"/>
<circle cx="496.09" cy="507.20" r="1.55" fill="#22365f"/>
<circle cx="497.08" cy="533.20" r="1.55" fill="#22365f"/>
<circle cx="497.47" cy="508.20" r="1.55" fill="#22365f"/>
<circle cx="498.66" cy="524.20" r="1.55" fill="#22365f"/>
<circle cx="499.06" cy="503.20" r="1.55" fill="#22365f"/>
<circle cx="501.03" cy="507.20" r="1.55" fill="#22365f"/>
<circle cx="501.03" cy="520.20" r="1.55" fill="#22365f"/>
<circle cx="502.02" cy="506.20" r="1.55" fill="#22365f"/>
<circle cx="502.62" cy="521.20" r="1.55" fill="#22365f"/>
<circle cx="503.01" cy="510.20" r="1.55" fill="#22365f"/>
<circle cx="503.01" cy="532.20" r="1.55" fill="#22365f"/>
<circle cx="503.41" cy="518.20" r="1.55" fill="#22365f"/>
<circle cx="504.00" cy="524.20" r="1.55" fill="#22365f"/>
<rect x="440.7" y="499.8" width="65.90" height="58.60" fill="none" stroke="#111" stroke-width="1.4"/>
<line x1="437.70" y1="556.60" x2="440.70" y2="556.60" stroke="#111" stroke-width="1"/>
<text x="435.90" y="558.70" text-anchor="end" font-size="6.1">0.0</text>
<line x1="442.70" y1="558.40" x2="442.70" y2="561.00" stroke="#111" stroke-width="1"/>
<text x="442.70" y="569.80" text-anchor="middle" font-size="6.1">0.0</text>
<line x1="437.70" y1="545.72" x2="440.70" y2="545.72" stroke="#111" stroke-width="1"/>
<text x="435.90" y="547.82" text-anchor="end" font-size="6.1">0.2</text>
<line x1="454.96" y1="558.40" x2="454.96" y2="561.00" stroke="#111" stroke-width="1"/>
<text x="454.96" y="569.80" text-anchor="middle" font-size="6.1">0.2</text>
<line x1="437.70" y1="534.84" x2="440.70" y2="534.84" stroke="#111" stroke-width="1"/>
<text x="435.90" y="536.94" text-anchor="end" font-size="6.1">0.4</text>
<line x1="467.22" y1="558.40" x2="467.22" y2="561.00" stroke="#111" stroke-width="1"/>
<text x="467.22" y="569.80" text-anchor="middle" font-size="6.1">0.4</text>
<line x1="437.70" y1="523.96" x2="440.70" y2="523.96" stroke="#111" stroke-width="1"/>
<text x="435.90" y="526.06" text-anchor="end" font-size="6.1">0.6</text>
<line x1="479.48" y1="558.40" x2="479.48" y2="561.00" stroke="#111" stroke-width="1"/>
<text x="479.48" y="569.80" text-anchor="middle" font-size="6.1">0.6</text>
<line x1="437.70" y1="513.08" x2="440.70" y2="513.08" stroke="#111" stroke-width="1"/>
<text x="435.90" y="515.18" text-anchor="end" font-size="6.1">0.8</text>
<line x1="491.74" y1="558.40" x2="491.74" y2="561.00" stroke="#111" stroke-width="1"/>
<text x="491.74" y="569.80" text-anchor="middle" font-size="6.1">0.8</text>
<line x1="437.70" y1="502.20" x2="440.70" y2="502.20" stroke="#111" stroke-width="1"/>
<text x="435.90" y="504.30" text-anchor="end" font-size="6.1">1.0</text>
<line x1="504.00" y1="558.40" x2="504.00" y2="561.00" stroke="#111" stroke-width="1"/>
<text x="504.00" y="569.80" text-anchor="middle" font-size="6.1">1.0</text>
<text transform="translate(421.20,529.10) rotate(-90)" text-anchor="middle" font-size="7.4">TCF of del(7q)</text>
<text x="473.65" y="579.70" text-anchor="middle" font-size="7.4">TCF of <tspan font-style="italic">TP53</tspan> mutation</text>
<text x="444.70" y="507.00" font-size="5.6" fill="#2a2a2a" style="stroke-width:0.08px"><tspan font-style="italic">P</tspan> = 1.4 × 10<tspan dy="-2" font-size="4">−7</tspan></text>
<line x1="250.20" y1="649.00" x2="310.50" y2="595.60" stroke="#b8b8b8" stroke-width="0.8" stroke-dasharray="2,1.6"/>
<circle cx="254.91" cy="643.77" r="1.55" fill="#22365f"/>
<circle cx="258.08" cy="631.31" r="1.55" fill="#22365f"/>
<circle cx="259.77" cy="632.35" r="1.55" fill="#22365f"/>
<circle cx="260.19" cy="640.66" r="1.55" fill="#22365f"/>
<circle cx="263.36" cy="634.43" r="1.55" fill="#22365f"/>
<circle cx="264.84" cy="614.70" r="1.55" fill="#22365f"/>
<circle cx="266.53" cy="630.27" r="1.55" fill="#22365f"/>
<circle cx="267.59" cy="629.24" r="1.55" fill="#22365f"/>
<circle cx="268.65" cy="627.16" r="1.55" fill="#22365f"/>
<circle cx="269.70" cy="631.31" r="1.55" fill="#22365f"/>
<circle cx="270.76" cy="623.01" r="1.55" fill="#22365f"/>
<circle cx="271.82" cy="624.05" r="1.55" fill="#22365f"/>
<circle cx="272.87" cy="628.20" r="1.55" fill="#22365f"/>
<circle cx="273.93" cy="626.12" r="1.55" fill="#22365f"/>
<circle cx="274.99" cy="627.16" r="1.55" fill="#22365f"/>
<circle cx="279.22" cy="621.97" r="1.55" fill="#22365f"/>
<circle cx="280.27" cy="620.93" r="1.55" fill="#22365f"/>
<circle cx="280.91" cy="613.66" r="1.55" fill="#22365f"/>
<circle cx="281.33" cy="618.85" r="1.55" fill="#22365f"/>
<circle cx="282.39" cy="619.89" r="1.55" fill="#22365f"/>
<circle cx="282.39" cy="640.66" r="1.55" fill="#22365f"/>
<circle cx="286.61" cy="612.63" r="1.55" fill="#22365f"/>
<circle cx="287.67" cy="611.59" r="1.55" fill="#22365f"/>
<circle cx="288.73" cy="609.51" r="1.55" fill="#22365f"/>
<circle cx="289.78" cy="613.66" r="1.55" fill="#22365f"/>
<circle cx="291.90" cy="606.40" r="1.55" fill="#22365f"/>
<circle cx="292.32" cy="611.59" r="1.55" fill="#22365f"/>
<circle cx="292.96" cy="625.08" r="1.55" fill="#22365f"/>
<circle cx="295.07" cy="605.36" r="1.55" fill="#22365f"/>
<circle cx="296.13" cy="618.85" r="1.55" fill="#22365f"/>
<circle cx="296.13" cy="634.84" r="1.55" fill="#22365f"/>
<circle cx="297.18" cy="606.40" r="1.55" fill="#22365f"/>
<circle cx="299.30" cy="603.28" r="1.55" fill="#22365f"/>
<circle cx="300.78" cy="636.09" r="1.55" fill="#22365f"/>
<circle cx="302.47" cy="601.21" r="1.55" fill="#22365f"/>
<circle cx="303.52" cy="601.21" r="1.55" fill="#22365f"/>
<circle cx="304.58" cy="598.09" r="1.55" fill="#22365f"/>
<circle cx="305.64" cy="599.13" r="1.55" fill="#22365f"/>
<circle cx="306.27" cy="601.21" r="1.55" fill="#22365f"/>
<rect x="247.2" y="593.2" width="65.90" height="58.60" fill="none" stroke="#111" stroke-width="1.4"/>
<line x1="244.20" y1="650.00" x2="247.20" y2="650.00" stroke="#111" stroke-width="1"/>
<text x="242.40" y="652.10" text-anchor="end" font-size="6.1">0.0</text>
<line x1="249.20" y1="651.80" x2="249.20" y2="654.40" stroke="#111" stroke-width="1"/>
<text x="249.20" y="663.20" text-anchor="middle" font-size="6.1">0.0</text>
<line x1="244.20" y1="639.12" x2="247.20" y2="639.12" stroke="#111" stroke-width="1"/>
<text x="242.40" y="641.22" text-anchor="end" font-size="6.1">0.2</text>
<line x1="261.46" y1="651.80" x2="261.46" y2="654.40" stroke="#111" stroke-width="1"/>
<text x="261.46" y="663.20" text-anchor="middle" font-size="6.1">0.2</text>
<line x1="244.20" y1="628.24" x2="247.20" y2="628.24" stroke="#111" stroke-width="1"/>
<text x="242.40" y="630.34" text-anchor="end" font-size="6.1">0.4</text>
<line x1="273.72" y1="651.80" x2="273.72" y2="654.40" stroke="#111" stroke-width="1"/>
<text x="273.72" y="663.20" text-anchor="middle" font-size="6.1">0.4</text>
<line x1="244.20" y1="617.36" x2="247.20" y2="617.36" stroke="#111" stroke-width="1"/>
<text x="242.40" y="619.46" text-anchor="end" font-size="6.1">0.6</text>
<line x1="285.98" y1="651.80" x2="285.98" y2="654.40" stroke="#111" stroke-width="1"/>
<text x="285.98" y="663.20" text-anchor="middle" font-size="6.1">0.6</text>
<line x1="244.20" y1="606.48" x2="247.20" y2="606.48" stroke="#111" stroke-width="1"/>
<text x="242.40" y="608.58" text-anchor="end" font-size="6.1">0.8</text>
<line x1="298.24" y1="651.80" x2="298.24" y2="654.40" stroke="#111" stroke-width="1"/>
<text x="298.24" y="663.20" text-anchor="middle" font-size="6.1">0.8</text>
<line x1="244.20" y1="595.60" x2="247.20" y2="595.60" stroke="#111" stroke-width="1"/>
<text x="242.40" y="597.70" text-anchor="end" font-size="6.1">1.0</text>
<line x1="310.50" y1="651.80" x2="310.50" y2="654.40" stroke="#111" stroke-width="1"/>
<text x="310.50" y="663.20" text-anchor="middle" font-size="6.1">1.0</text>
<text transform="translate(228.20,622.50) rotate(-90)" text-anchor="middle" font-size="7.4">TCF of 17pLOH</text>
<text x="280.15" y="673.10" text-anchor="middle" font-size="7.4">TCF of del(5q)</text>
<text x="251.20" y="600.40" font-size="5.6" fill="#2a2a2a" style="stroke-width:0.08px"><tspan font-style="italic">P</tspan> = .0047</text>
<line x1="347.30" y1="649.00" x2="407.60" y2="595.60" stroke="#b8b8b8" stroke-width="0.8" stroke-dasharray="2,1.6"/>
<circle cx="354.47" cy="639.00" r="1.55" fill="#22365f"/>
<circle cx="359.17" cy="623.00" r="1.55" fill="#22365f"/>
<circle cx="359.17" cy="636.00" r="1.55" fill="#22365f"/>
<circle cx="361.62" cy="633.00" r="1.55" fill="#22365f"/>
<circle cx="362.03" cy="640.00" r="1.55" fill="#22365f"/>
<circle cx="362.65" cy="631.60" r="1.55" fill="#22365f"/>
<circle cx="364.69" cy="630.00" r="1.55" fill="#22365f"/>
<circle cx="366.73" cy="632.00" r="1.55" fill="#22365f"/>
<circle cx="367.75" cy="630.00" r="1.55" fill="#22365f"/>
<circle cx="368.78" cy="628.00" r="1.55" fill="#22365f"/>
<circle cx="369.80" cy="622.00" r="1.55" fill="#22365f"/>
<circle cx="370.82" cy="623.00" r="1.55" fill="#22365f"/>
<circle cx="371.84" cy="631.00" r="1.55" fill="#22365f"/>
<circle cx="372.86" cy="633.00" r="1.55" fill="#22365f"/>
<circle cx="372.86" cy="622.00" r="1.55" fill="#22365f"/>
<circle cx="373.88" cy="624.00" r="1.55" fill="#22365f"/>
<circle cx="374.91" cy="601.00" r="1.55" fill="#22365f"/>
<circle cx="375.93" cy="613.00" r="1.55" fill="#22365f"/>
<circle cx="376.95" cy="620.00" r="1.55" fill="#22365f"/>
<circle cx="380.01" cy="616.00" r="1.55" fill="#22365f"/>
<circle cx="382.06" cy="613.00" r="1.55" fill="#22365f"/>
<circle cx="384.10" cy="619.00" r="1.55" fill="#22365f"/>
<circle cx="386.14" cy="610.00" r="1.55" fill="#22365f"/>
<circle cx="387.17" cy="608.00" r="1.55" fill="#22365f"/>
<circle cx="388.19" cy="609.00" r="1.55" fill="#22365f"/>
<circle cx="389.21" cy="608.00" r="1.55" fill="#22365f"/>
<circle cx="390.23" cy="610.00" r="1.55" fill="#22365f"/>
<circle cx="391.25" cy="612.00" r="1.55" fill="#22365f"/>
<circle cx="392.27" cy="613.00" r="1.55" fill="#22365f"/>
<circle cx="396.36" cy="606.00" r="1.55" fill="#22365f"/>
<circle cx="398.41" cy="636.00" r="1.55" fill="#22365f"/>
<circle cx="399.43" cy="600.00" r="1.55" fill="#22365f"/>
<circle cx="401.47" cy="601.00" r="1.55" fill="#22365f"/>
<circle cx="402.49" cy="599.00" r="1.55" fill="#22365f"/>
<circle cx="402.90" cy="598.00" r="1.55" fill="#22365f"/>
<circle cx="404.54" cy="600.00" r="1.55" fill="#22365f"/>
<circle cx="406.58" cy="597.00" r="1.55" fill="#22365f"/>
<circle cx="407.60" cy="598.00" r="1.55" fill="#22365f"/>
<circle cx="385.12" cy="641.00" r="1.55" fill="#22365f"/>
<rect x="344.29999999999995" y="593.2" width="65.90" height="58.60" fill="none" stroke="#111" stroke-width="1.4"/>
<line x1="341.30" y1="650.00" x2="344.30" y2="650.00" stroke="#111" stroke-width="1"/>
<text x="339.50" y="652.10" text-anchor="end" font-size="6.1">0.0</text>
<line x1="346.30" y1="651.80" x2="346.30" y2="654.40" stroke="#111" stroke-width="1"/>
<text x="346.30" y="663.20" text-anchor="middle" font-size="6.1">0.0</text>
<line x1="341.30" y1="639.12" x2="344.30" y2="639.12" stroke="#111" stroke-width="1"/>
<text x="339.50" y="641.22" text-anchor="end" font-size="6.1">0.2</text>
<line x1="358.56" y1="651.80" x2="358.56" y2="654.40" stroke="#111" stroke-width="1"/>
<text x="358.56" y="663.20" text-anchor="middle" font-size="6.1">0.2</text>
<line x1="341.30" y1="628.24" x2="344.30" y2="628.24" stroke="#111" stroke-width="1"/>
<text x="339.50" y="630.34" text-anchor="end" font-size="6.1">0.4</text>
<line x1="370.82" y1="651.80" x2="370.82" y2="654.40" stroke="#111" stroke-width="1"/>
<text x="370.82" y="663.20" text-anchor="middle" font-size="6.1">0.4</text>
<line x1="341.30" y1="617.36" x2="344.30" y2="617.36" stroke="#111" stroke-width="1"/>
<text x="339.50" y="619.46" text-anchor="end" font-size="6.1">0.6</text>
<line x1="383.08" y1="651.80" x2="383.08" y2="654.40" stroke="#111" stroke-width="1"/>
<text x="383.08" y="663.20" text-anchor="middle" font-size="6.1">0.6</text>
<line x1="341.30" y1="606.48" x2="344.30" y2="606.48" stroke="#111" stroke-width="1"/>
<text x="339.50" y="608.58" text-anchor="end" font-size="6.1">0.8</text>
<line x1="395.34" y1="651.80" x2="395.34" y2="654.40" stroke="#111" stroke-width="1"/>
<text x="395.34" y="663.20" text-anchor="middle" font-size="6.1">0.8</text>
<line x1="341.30" y1="595.60" x2="344.30" y2="595.60" stroke="#111" stroke-width="1"/>
<text x="339.50" y="597.70" text-anchor="end" font-size="6.1">1.0</text>
<line x1="407.60" y1="651.80" x2="407.60" y2="654.40" stroke="#111" stroke-width="1"/>
<text x="407.60" y="663.20" text-anchor="middle" font-size="6.1">1.0</text>
<text transform="translate(323.30,622.50) rotate(-90)" text-anchor="middle" font-size="7.4">TCF of 17pLOH</text>
<text x="377.25" y="673.10" text-anchor="middle" font-size="7.4">TCF of −7/del(7q)</text>
<text x="345.30" y="607.50" font-size="5.6" fill="#2a2a2a" style="stroke-width:0.08px"><tspan font-style="italic">P</tspan> = 2.7 × 10<tspan dy="-2" font-size="4">−6</tspan></text>
<line x1="443.70" y1="649.00" x2="504.00" y2="595.60" stroke="#b8b8b8" stroke-width="0.8" stroke-dasharray="2,1.6"/>
<circle cx="451.74" cy="630.00" r="1.55" fill="#22365f"/>
<circle cx="454.16" cy="637.60" r="1.55" fill="#22365f"/>
<circle cx="455.76" cy="642.40" r="1.55" fill="#22365f"/>
<circle cx="456.17" cy="610.40" r="1.55" fill="#22365f"/>
<circle cx="459.38" cy="631.60" r="1.55" fill="#22365f"/>
<circle cx="460.79" cy="632.40" r="1.55" fill="#22365f"/>
<circle cx="462.20" cy="633.00" r="1.55" fill="#22365f"/>
<circle cx="463.80" cy="636.60" r="1.55" fill="#22365f"/>
<circle cx="464.81" cy="628.00" r="1.55" fill="#22365f"/>
<circle cx="466.82" cy="627.00" r="1.55" fill="#22365f"/>
<circle cx="467.82" cy="630.00" r="1.55" fill="#22365f"/>
<circle cx="468.83" cy="629.00" r="1.55" fill="#22365f"/>
<circle cx="469.83" cy="629.60" r="1.55" fill="#22365f"/>
<circle cx="472.85" cy="623.00" r="1.55" fill="#22365f"/>
<circle cx="473.85" cy="622.00" r="1.55" fill="#22365f"/>
<circle cx="474.25" cy="638.00" r="1.55" fill="#22365f"/>
<circle cx="477.47" cy="616.00" r="1.55" fill="#22365f"/>
<circle cx="480.89" cy="617.60" r="1.55" fill="#22365f"/>
<circle cx="481.89" cy="614.00" r="1.55" fill="#22365f"/>
<circle cx="482.90" cy="613.00" r="1.55" fill="#22365f"/>
<circle cx="483.90" cy="612.00" r="1.55" fill="#22365f"/>
<circle cx="484.91" cy="611.00" r="1.55" fill="#22365f"/>
<circle cx="485.91" cy="610.00" r="1.55" fill="#22365f"/>
<circle cx="486.92" cy="609.00" r="1.55" fill="#22365f"/>
<circle cx="487.92" cy="613.00" r="1.55" fill="#22365f"/>
<circle cx="489.93" cy="613.00" r="1.55" fill="#22365f"/>
<circle cx="490.94" cy="616.00" r="1.55" fill="#22365f"/>
<circle cx="491.54" cy="611.00" r="1.55" fill="#22365f"/>
<circle cx="491.94" cy="605.00" r="1.55" fill="#22365f"/>
<circle cx="492.95" cy="606.00" r="1.55" fill="#22365f"/>
<circle cx="494.96" cy="605.00" r="1.55" fill="#22365f"/>
<circle cx="495.96" cy="604.00" r="1.55" fill="#22365f"/>
<circle cx="496.97" cy="601.00" r="1.55" fill="#22365f"/>
<circle cx="497.97" cy="600.00" r="1.55" fill="#22365f"/>
<circle cx="498.98" cy="599.00" r="1.55" fill="#22365f"/>
<circle cx="499.58" cy="626.00" r="1.55" fill="#22365f"/>
<circle cx="499.98" cy="600.00" r="1.55" fill="#22365f"/>
<circle cx="500.99" cy="601.00" r="1.55" fill="#22365f"/>
<rect x="440.7" y="593.2" width="65.90" height="58.60" fill="none" stroke="#111" stroke-width="1.4"/>
<line x1="437.70" y1="650.00" x2="440.70" y2="650.00" stroke="#111" stroke-width="1"/>
<text x="435.90" y="652.10" text-anchor="end" font-size="6.1">0.0</text>
<line x1="442.70" y1="651.80" x2="442.70" y2="654.40" stroke="#111" stroke-width="1"/>
<text x="442.70" y="663.20" text-anchor="middle" font-size="6.1">0.0</text>
<line x1="437.70" y1="639.12" x2="440.70" y2="639.12" stroke="#111" stroke-width="1"/>
<text x="435.90" y="641.22" text-anchor="end" font-size="6.1">0.2</text>
<line x1="454.96" y1="651.80" x2="454.96" y2="654.40" stroke="#111" stroke-width="1"/>
<text x="454.96" y="663.20" text-anchor="middle" font-size="6.1">0.2</text>
<line x1="437.70" y1="628.24" x2="440.70" y2="628.24" stroke="#111" stroke-width="1"/>
<text x="435.90" y="630.34" text-anchor="end" font-size="6.1">0.4</text>
<line x1="467.22" y1="651.80" x2="467.22" y2="654.40" stroke="#111" stroke-width="1"/>
<text x="467.22" y="663.20" text-anchor="middle" font-size="6.1">0.4</text>
<line x1="437.70" y1="617.36" x2="440.70" y2="617.36" stroke="#111" stroke-width="1"/>
<text x="435.90" y="619.46" text-anchor="end" font-size="6.1">0.6</text>
<line x1="479.48" y1="651.80" x2="479.48" y2="654.40" stroke="#111" stroke-width="1"/>
<text x="479.48" y="663.20" text-anchor="middle" font-size="6.1">0.6</text>
<line x1="437.70" y1="606.48" x2="440.70" y2="606.48" stroke="#111" stroke-width="1"/>
<text x="435.90" y="608.58" text-anchor="end" font-size="6.1">0.8</text>
<line x1="491.74" y1="651.80" x2="491.74" y2="654.40" stroke="#111" stroke-width="1"/>
<text x="491.74" y="663.20" text-anchor="middle" font-size="6.1">0.8</text>
<line x1="437.70" y1="595.60" x2="440.70" y2="595.60" stroke="#111" stroke-width="1"/>
<text x="435.90" y="597.70" text-anchor="end" font-size="6.1">1.0</text>
<line x1="504.00" y1="651.80" x2="504.00" y2="654.40" stroke="#111" stroke-width="1"/>
<text x="504.00" y="663.20" text-anchor="middle" font-size="6.1">1.0</text>
<text transform="translate(421.20,622.50) rotate(-90)" text-anchor="middle" font-size="7.4">TCF of −7/del(7q)</text>
<text x="473.65" y="673.10" text-anchor="middle" font-size="7.4">TCF of del(5q)</text>
<text x="444.70" y="600.40" font-size="5.6" fill="#2a2a2a" style="stroke-width:0.08px"><tspan font-style="italic">P</tspan> = .80</text>
</g>
<rect x="0" y="0" width="520" height="1.2" fill="#000"/>
<rect x="0" y="0" width="1.1" height="696" fill="#000"/>
<rect x="518.3" y="0" width="1.7" height="696" fill="#000"/>
<rect x="0" y="694.3" width="520" height="1.7" fill="#000"/>
</svg>
</body></html>
